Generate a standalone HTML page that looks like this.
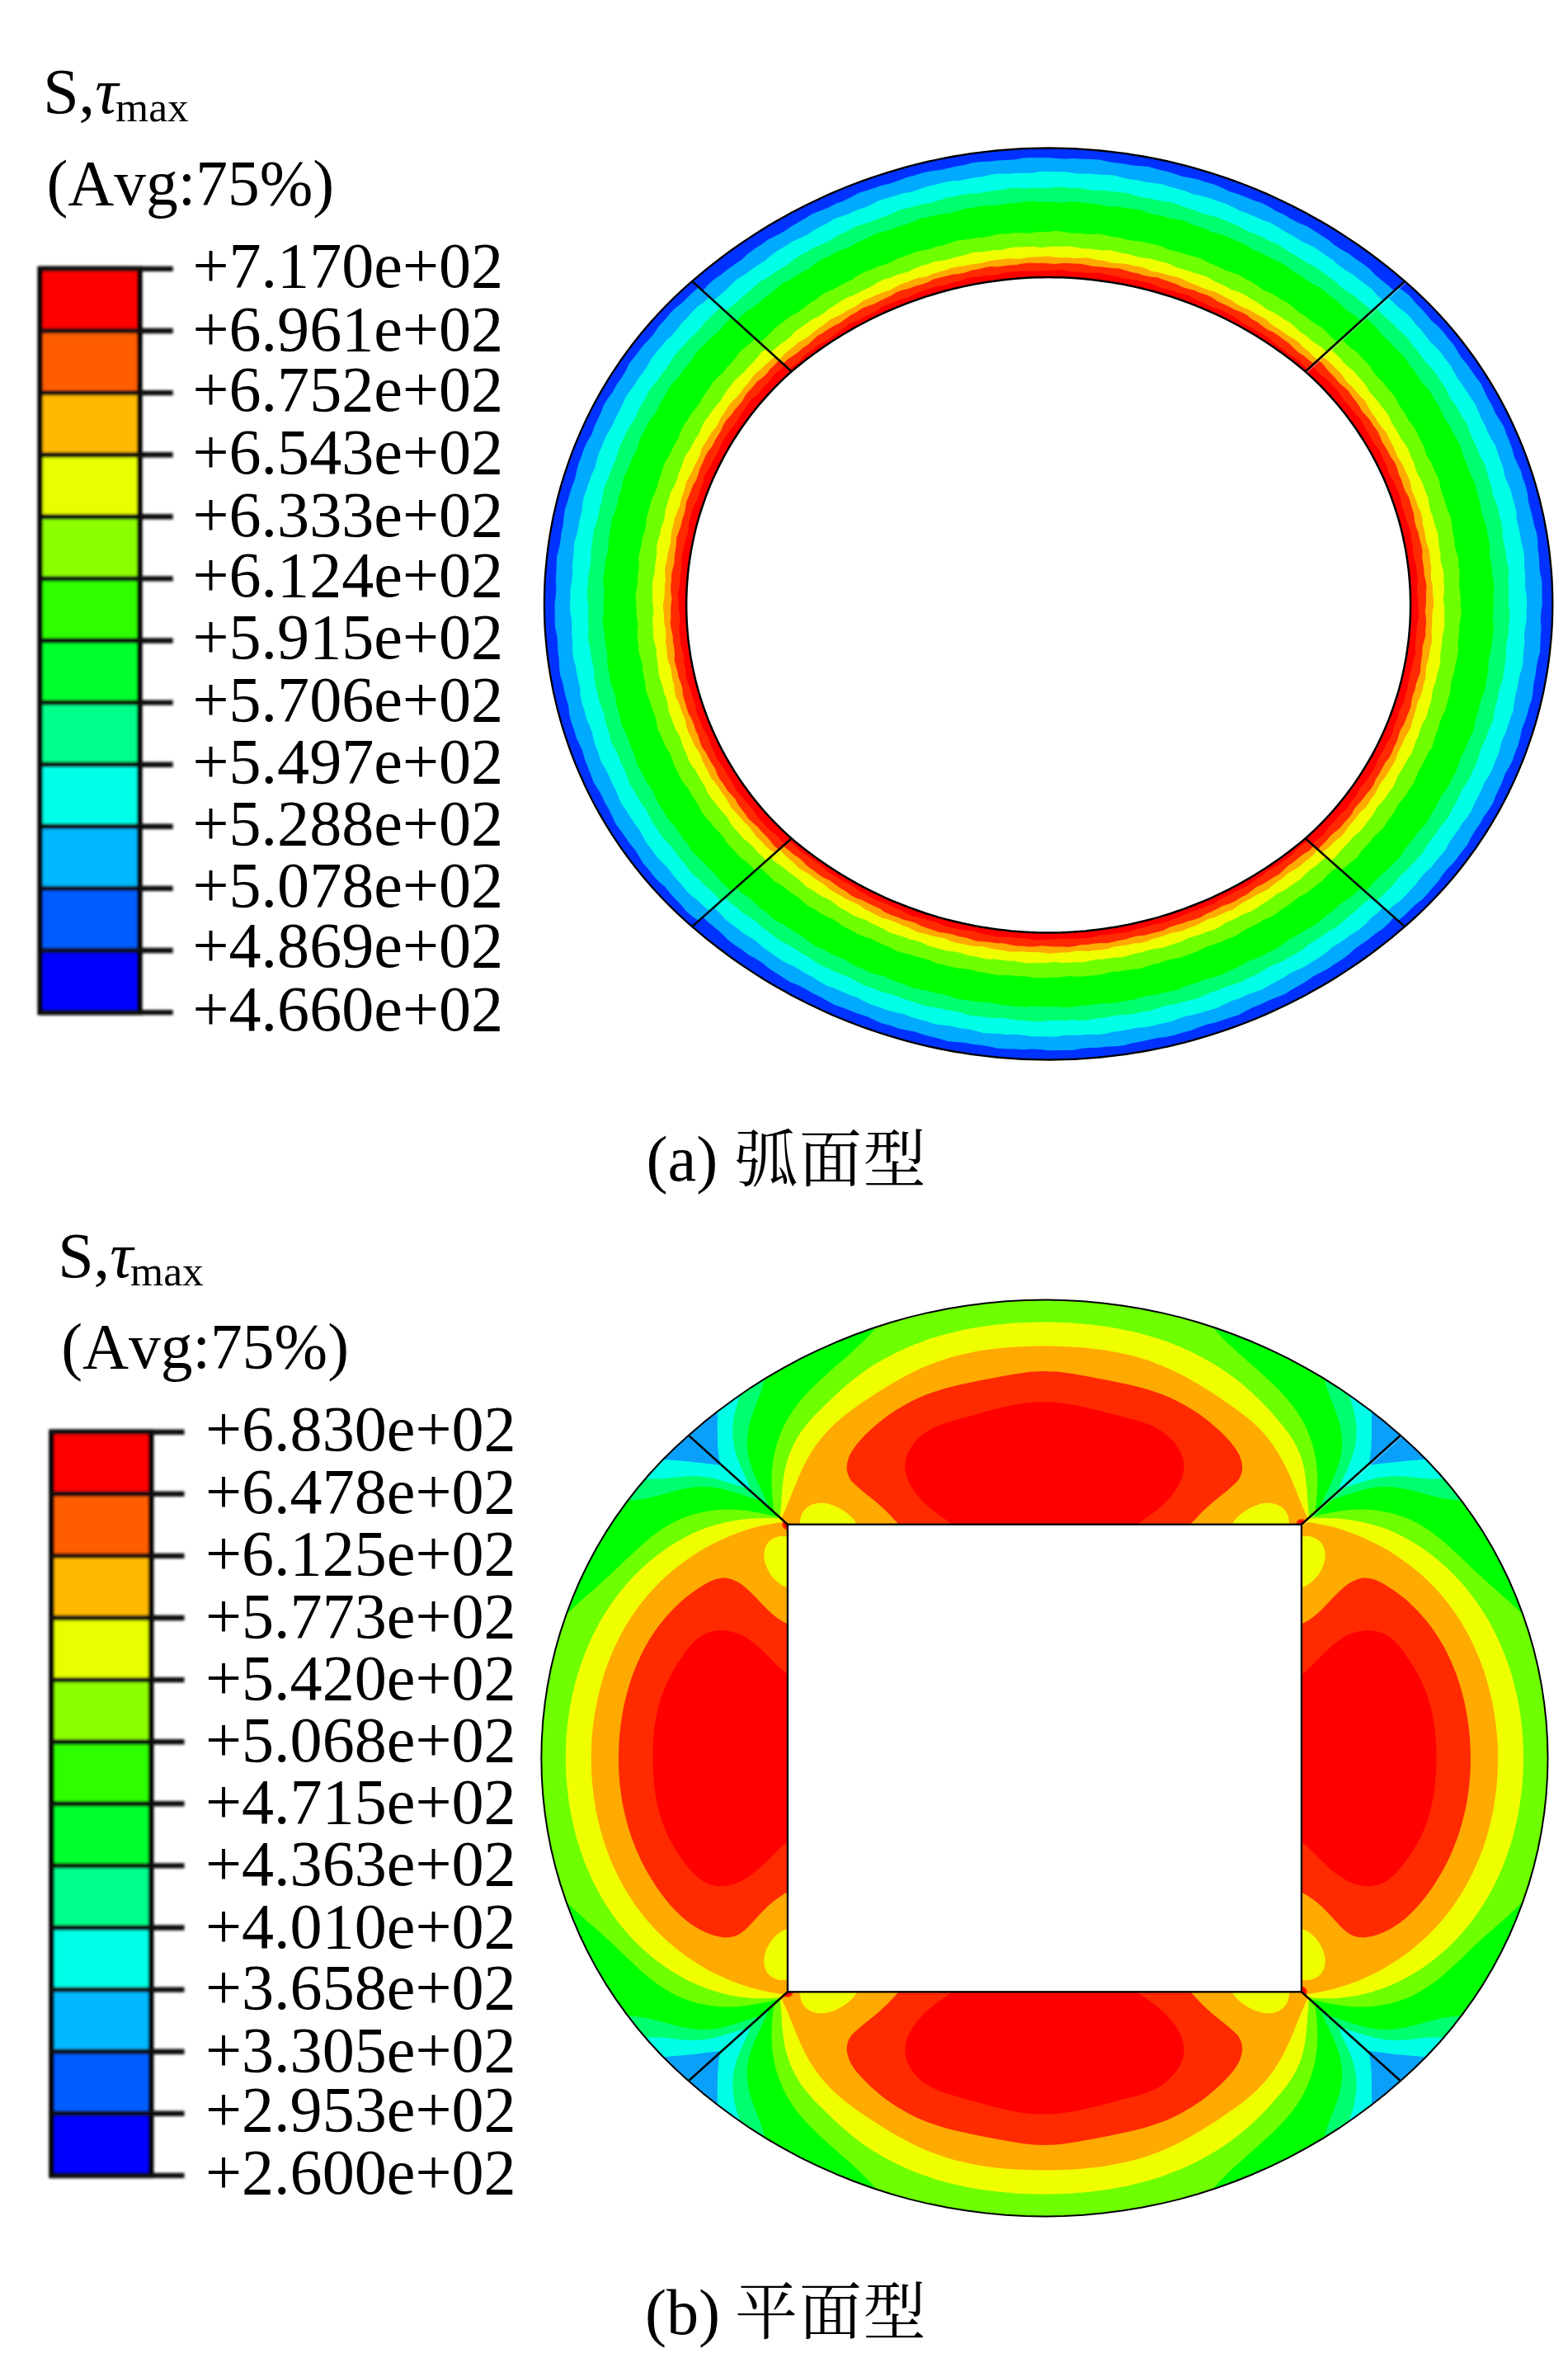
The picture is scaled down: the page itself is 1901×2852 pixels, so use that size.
<!DOCTYPE html>
<html lang="zh"><head><meta charset="utf-8"><title>figure</title>
<style>html,body{margin:0;padding:0;background:#fff}svg{display:block}</style></head>
<body>
<svg width="1901" height="2852" viewBox="0 0 1901 2852">
<defs><filter id="soft" x="-5%" y="-2%" width="110%" height="104%"><feGaussianBlur stdDeviation="1.4"/></filter></defs>
<rect width="1901" height="2852" fill="#fff"/>
<g id="plotA">
<path d="M839.1,340.9L847.1,334.1 855.1,327.4 863.3,320.9 871.6,314.5 879.9,308.2 888.4,302 897,296 905.7,290.1 914.4,284.4 923.3,278.8 932.2,273.3 941.2,268 950.3,262.9 959.5,257.8 968.8,253 978.1,248.2 987.5,243.7 997,239.2 1006.6,234.9 1016.2,230.8 1025.9,226.8 1035.6,223 1045.4,219.4 1055.3,215.8 1065.2,212.5 1075.2,209.3 1085.2,206.3 1095.3,203.4 1105.4,200.7 1115.5,198.1 1125.7,195.7 1136,193.5 1146.2,191.4 1156.5,189.5 1166.8,187.8 1177.2,186.2 1187.6,184.8 1198,183.6 1208.4,182.5 1218.8,181.6 1229.2,180.8 1239.7,180.2 1250.2,179.8 1260.6,179.6 1271.1,179.5 1281.6,179.6 1292,179.8 1302.5,180.2 1313,180.8 1323.4,181.6 1333.8,182.5 1344.2,183.6 1354.6,184.8 1365,186.2 1375.4,187.8 1385.7,189.5 1396,191.4 1406.2,193.5 1416.5,195.7 1426.7,198.1 1436.8,200.7 1446.9,203.4 1457,206.3 1467,209.3 1477,212.5 1486.9,215.8 1496.8,219.4 1506.6,223 1516.3,226.8 1526,230.8 1535.6,234.9 1545.2,239.2 1554.7,243.7 1564.1,248.2 1573.4,253 1582.7,257.8 1591.9,262.9 1601,268 1610,273.3 1618.9,278.8 1627.8,284.4 1636.5,290.1 1645.2,296 1653.8,302 1662.3,308.2 1670.6,314.5 1678.9,320.9 1687.1,327.4 1695.1,334.1 1703.1,340.9 1703.1,340.9 1710.5,347.4 1717.8,354.1 1724.9,360.8 1732,367.8 1738.8,374.8 1745.6,382 1752.2,389.3 1758.7,396.8 1765,404.3 1771.2,412 1777.2,419.8 1783.1,427.7 1788.9,435.7 1794.4,443.9 1799.9,452.1 1805.1,460.4 1810.2,468.9 1815.2,477.4 1820,486 1824.6,494.7 1829,503.5 1833.3,512.4 1837.4,521.4 1841.3,530.4 1845.1,539.5 1848.7,548.7 1852.1,558 1855.3,567.3 1858.4,576.7 1861.3,586.1 1864,595.6 1866.5,605.1 1868.8,614.7 1871,624.3 1872.9,634 1874.7,643.7 1876.3,653.4 1877.7,663.2 1878.9,673 1879.9,682.8 1880.8,692.6 1881.5,702.4 1881.9,712.3 1882.2,722.1 1882.3,732 1882.2,741.9 1881.9,751.7 1881.5,761.6 1880.8,771.4 1879.9,781.2 1878.9,791 1877.7,800.8 1876.3,810.6 1874.7,820.3 1872.9,830 1871,839.7 1868.8,849.3 1866.5,858.9 1864,868.4 1861.3,877.9 1858.4,887.3 1855.3,896.7 1852.1,906 1848.7,915.3 1845.1,924.5 1841.3,933.6 1837.4,942.6 1833.3,951.6 1829,960.5 1824.6,969.3 1820,978 1815.2,986.6 1810.2,995.1 1805.1,1003.6 1799.9,1011.9 1794.4,1020.1 1788.9,1028.3 1783.1,1036.3 1777.2,1044.2 1771.2,1052 1765,1059.7 1758.7,1067.2 1752.2,1074.7 1745.6,1082 1738.8,1089.2 1732,1096.2 1724.9,1103.2 1717.8,1109.9 1710.5,1116.6 1703.1,1123.1 1703.1,1123.1 1695.1,1129.9 1687.1,1136.6 1678.9,1143.1 1670.6,1149.5 1662.3,1155.8 1653.8,1162 1645.2,1168 1636.5,1173.9 1627.8,1179.6 1618.9,1185.2 1610,1190.7 1601,1196 1591.9,1201.1 1582.7,1206.2 1573.4,1211 1564.1,1215.8 1554.7,1220.3 1545.2,1224.8 1535.6,1229.1 1526,1233.2 1516.3,1237.2 1506.6,1241 1496.8,1244.6 1486.9,1248.2 1477,1251.5 1467,1254.7 1457,1257.7 1446.9,1260.6 1436.8,1263.3 1426.7,1265.9 1416.5,1268.3 1406.2,1270.5 1396,1272.6 1385.7,1274.5 1375.4,1276.2 1365,1277.8 1354.6,1279.2 1344.2,1280.4 1333.8,1281.5 1323.4,1282.4 1313,1283.2 1302.5,1283.8 1292,1284.2 1281.6,1284.4 1271.1,1284.5 1260.6,1284.4 1250.2,1284.2 1239.7,1283.8 1229.2,1283.2 1218.8,1282.4 1208.4,1281.5 1198,1280.4 1187.6,1279.2 1177.2,1277.8 1166.8,1276.2 1156.5,1274.5 1146.2,1272.6 1136,1270.5 1125.7,1268.3 1115.5,1265.9 1105.4,1263.3 1095.3,1260.6 1085.2,1257.7 1075.2,1254.7 1065.2,1251.5 1055.3,1248.2 1045.4,1244.6 1035.6,1241 1025.9,1237.2 1016.2,1233.2 1006.6,1229.1 997,1224.8 987.5,1220.3 978.1,1215.8 968.8,1211 959.5,1206.2 950.3,1201.1 941.2,1196 932.2,1190.7 923.3,1185.2 914.4,1179.6 905.7,1173.9 897,1168 888.4,1162 879.9,1155.8 871.6,1149.5 863.3,1143.1 855.1,1136.6 847.1,1129.9 839.1,1123.1 839.1,1123.1 831.7,1116.6 824.4,1109.9 817.3,1103.2 810.2,1096.2 803.4,1089.2 796.6,1082 790,1074.7 783.5,1067.2 777.2,1059.7 771,1052 765,1044.2 759.1,1036.3 753.3,1028.3 747.8,1020.1 742.3,1011.9 737.1,1003.6 732,995.1 727,986.6 722.2,978 717.6,969.3 713.2,960.5 708.9,951.6 704.8,942.6 700.9,933.6 697.1,924.5 693.5,915.3 690.1,906 686.9,896.7 683.8,887.3 680.9,877.9 678.2,868.4 675.7,858.9 673.4,849.3 671.2,839.7 669.3,830 667.5,820.3 665.9,810.6 664.5,800.8 663.3,791 662.3,781.2 661.4,771.4 660.7,761.6 660.3,751.7 660,741.9 659.9,732 660,722.1 660.3,712.3 660.7,702.4 661.4,692.6 662.3,682.8 663.3,673 664.5,663.2 665.9,653.4 667.5,643.7 669.3,634 671.2,624.3 673.4,614.7 675.7,605.1 678.2,595.6 680.9,586.1 683.8,576.7 686.9,567.3 690.1,558 693.5,548.7 697.1,539.5 700.9,530.4 704.8,521.4 708.9,512.4 713.2,503.5 717.6,494.7 722.2,486 727,477.4 732,468.9 737.1,460.4 742.3,452.1 747.8,443.9 753.3,435.7 759.1,427.7 765,419.8 771,412 777.2,404.3 783.5,396.8 790,389.3 796.6,382 803.4,374.8 810.2,367.8 817.3,360.8 824.4,354.1 831.7,347.4 839.1,340.9Z" fill="#0032ff"/>
<path d="M852,352.6L858.7,345.1 866.2,338.2 874.8,332.5 882.7,326.1 891,320.2 899.5,314.5 906.8,307.5 914.9,301.4 923.6,296 931.9,290.1 941.1,285.5 950.3,280.8 958.5,274.9 967.3,269.8 976.1,264.7 984.7,259.2 994.4,255.5 1003.9,251.7 1013,247.1 1022.6,243.5 1031.7,238.9 1040.7,234 1050.5,231 1060.2,227.7 1069.9,224.4 1080,222.3 1089.6,218.7 1099.1,214.9 1109,212.5 1118.8,209.4 1128.8,207.2 1139.2,206.3 1149.1,203.9 1159.1,201.7 1169.2,200 1179.1,197.2 1189.3,196 1199.6,195.8 1209.7,194.5 1220,194.1 1230.2,193.5 1240.3,191.5 1250.6,191.1 1260.8,191.2 1271.1,190.9 1281.3,192.1 1291.6,192.7 1301.8,192 1312.1,192.7 1322.3,193 1332.6,193.4 1342.6,195.8 1352.7,197.4 1362.9,198.4 1373,200.4 1383.2,201.2 1393.5,202.3 1403.3,205.3 1413.3,207.6 1423.1,210.3 1432.8,213.7 1443,215.4 1453,217.7 1462.6,221.1 1472.6,223.8 1482,227.7 1491.1,232.3 1500.9,235.3 1510.5,238.9 1519.9,242.8 1529.8,245.9 1538.8,250.8 1547.5,256.1 1556.8,260.3 1565.5,265.6 1574.6,270.2 1584.3,274 1592.9,279.5 1601.4,285.1 1610.1,290.4 1617.8,297 1626.3,302.5 1635.4,307.5 1643.5,313.7 1652,319.4 1660.1,325.5 1667,332.9 1674.8,339.4 1682.8,345.7 1690.2,352.6 1695.1,348.2 1703.2,353.8 1710.6,360.2 1716.6,367.7 1723.5,374.5 1729.9,381.7 1735.9,389.2 1743.5,395.6 1750.1,402.7 1755.9,410.4 1762.3,417.7 1767.2,426 1772.2,434.2 1778.7,441.6 1784.1,449.6 1789.7,457.5 1795.6,465.3 1799.6,474.1 1803.7,482.8 1808.7,491.1 1812.6,499.9 1817.6,508.3 1822.9,516.5 1826.1,525.6 1829.7,534.6 1833.3,543.6 1835.6,553 1839.5,561.8 1843.7,570.6 1846.3,579.9 1849.7,589 1852,598.4 1852.9,608.1 1855.6,617.4 1858,626.7 1859.8,636.2 1862.9,645.5 1864.2,655.1 1864.4,664.8 1865.8,674.3 1866.2,684 1866.9,693.6 1869.1,703.1 1869.5,712.8 1869.4,722.4 1869.8,732.1 1868.4,741.7 1867.8,751.4 1868.5,761 1867.8,770.7 1867.5,780.3 1867.1,790 1864.4,799.4 1862.7,808.9 1861.6,818.5 1859.4,827.9 1858.6,837.6 1857.3,847.2 1854,856.3 1851.5,865.7 1848.6,874.9 1844.9,883.9 1843.1,893.4 1840.7,902.7 1837,911.7 1834,920.9 1829.7,929.6 1824.7,938 1821.5,947.1 1817.5,955.9 1813.3,964.6 1810,973.6 1804.7,981.8 1799,989.8 1794.4,998.2 1788.7,1006.2 1783.7,1014.4 1779.6,1023.1 1773.7,1030.8 1767.7,1038.5 1761.9,1046.2 1754.8,1053.1 1748.8,1060.6 1743.5,1068.6 1736.9,1075.7 1730.8,1083.2 1724.2,1090.3 1716.2,1096.2 1709.3,1102.9 1702.5,1109.8 1695.1,1116 1690.2,1111.6 1683.5,1119.2 1676,1126 1667.4,1131.7 1659.5,1138.2 1651.2,1144.1 1642.7,1149.7 1635.4,1156.7 1627.3,1162.8 1618.6,1168.2 1610.3,1174.1 1601.1,1178.8 1591.9,1183.4 1583.7,1189.4 1574.9,1194.4 1566.1,1199.5 1557.5,1205 1547.8,1208.7 1538.3,1212.5 1529.2,1217.1 1519.6,1220.7 1510.5,1225.3 1501.5,1230.2 1491.7,1233.2 1482,1236.5 1472.3,1239.8 1462.2,1241.9 1452.6,1245.5 1443.1,1249.3 1433.2,1251.7 1423.4,1254.8 1413.4,1257 1403,1257.9 1393.1,1260.3 1383.1,1262.5 1373,1264.2 1363.1,1267 1352.9,1268.2 1342.6,1268.4 1332.5,1269.7 1322.2,1270.1 1312,1270.7 1301.9,1272.7 1291.6,1273.1 1281.4,1272.9 1271.1,1273.3 1260.9,1272.1 1250.6,1271.5 1240.4,1272.2 1230.1,1271.5 1219.9,1271.2 1209.6,1270.8 1199.6,1268.4 1189.5,1266.8 1179.3,1265.8 1169.2,1263.8 1159,1263 1148.7,1261.9 1138.9,1258.9 1128.9,1256.6 1119.1,1253.9 1109.4,1250.5 1099.2,1248.8 1089.2,1246.5 1079.6,1243.1 1069.6,1240.4 1060.2,1236.5 1051.1,1231.9 1041.3,1228.9 1031.7,1225.3 1022.3,1221.4 1012.4,1218.3 1003.4,1213.4 994.7,1208.2 985.4,1203.9 976.7,1198.7 967.6,1194.1 957.9,1190.2 949.3,1184.7 940.8,1179.2 932.1,1173.8 924.4,1167.3 915.9,1161.7 906.8,1156.7 898.7,1150.6 890.2,1144.9 882.1,1138.8 875.2,1131.4 867.4,1124.9 859.4,1118.6 852,1111.6 847.1,1116 839,1110.4 831.6,1104 825.6,1096.5 818.7,1089.7 812.3,1082.5 806.3,1075 798.7,1068.6 792.1,1061.5 786.3,1053.8 779.9,1046.4 775,1038.2 770,1030 763.5,1022.6 758.1,1014.6 752.5,1006.6 746.6,998.9 742.6,990.1 738.5,981.4 733.5,973.1 729.6,964.3 724.6,955.9 719.3,947.6 716.1,938.5 712.5,929.6 708.9,920.6 706.6,911.3 702.7,902.4 698.5,893.5 695.9,884.3 692.5,875.1 690.2,865.8 689.3,856.1 686.6,846.8 684.2,837.5 682.4,828 679.3,818.7 678,809.1 677.8,799.4 676.4,789.9 676,780.2 675.3,770.6 673.1,761.1 672.7,751.4 672.8,741.8 672.4,732.1 673.8,722.5 674.4,712.8 673.7,703.2 674.4,693.5 674.7,683.9 675.1,674.2 677.8,664.8 679.5,655.3 680.6,645.7 682.8,636.3 683.6,626.6 684.9,617 688.2,607.8 690.7,598.5 693.6,589.3 697.3,580.3 699.1,570.8 701.5,561.5 705.2,552.5 708.2,543.3 712.5,534.6 717.5,526.2 720.7,517.1 724.7,508.3 728.9,499.6 732.2,490.5 737.5,482.3 743.2,474.4 747.8,465.9 753.5,458 758.5,449.8 762.6,441.1 768.5,433.4 774.5,425.7 780.3,418 787.4,411.1 793.4,403.6 798.7,395.5 805.3,388.5 811.4,381 818,373.9 826,368 832.9,361.3 839.7,354.4 847.1,348.2Z" fill="#00aaff"/>
<path d="M865.3,364.6L872.3,357.9 880,351.7 886.7,344.6 894.1,338.1 902.6,332.9 910.5,326.9 918.7,321.4 927.2,316.3 934.5,309.8 942.5,304 951.1,299.1 959.3,293.6 968.3,289.3 977.4,285.3 985.6,279.8 994.3,275.1 1003,270.5 1011.4,265.3 1020.9,262 1030.3,258.8 1039.2,254.6 1048.7,251.4 1057.7,247.3 1066.5,242.8 1076.1,240.1 1085.6,237.2 1095.1,234.3 1104.9,232.7 1114.3,229.6 1123.6,226.1 1133.4,224.1 1142.9,221.4 1152.7,219.5 1162.7,219 1172.4,217.1 1182.1,215.2 1192,214 1201.7,211.6 1211.6,210.5 1221.6,210.8 1231.4,209.9 1241.4,209.8 1251.3,209.7 1261.2,208 1271.1,207.8 1281,208.3 1291,208.2 1300.8,209.7 1310.7,210.8 1320.7,210.4 1330.6,211.4 1340.5,212 1350.4,212.6 1360.1,215.2 1369.8,217.2 1379.6,218.5 1389.3,220.8 1399.2,221.9 1409.1,223.2 1418.5,226.4 1428.1,229 1437.5,231.8 1446.7,235.5 1456.5,237.6 1466.2,239.9 1475.4,243.5 1484.9,246.4 1494,250.5 1502.6,255.3 1512,258.6 1521.1,262.4 1530.1,266.5 1539.7,269.7 1548.2,274.6 1556.5,280 1565.3,284.5 1573.6,289.8 1582.2,294.7 1591.4,298.6 1599.6,304.1 1607.7,309.8 1615.9,315.2 1623.2,321.8 1631.2,327.6 1639.8,332.6 1647.5,338.8 1655.5,344.6 1663.3,350.6 1669.7,358.1 1676.9,364.6 1681.9,360.2 1689.2,366.2 1695.7,372.8 1703.4,378.5 1710.4,384.9 1716,392.4 1722.3,399.2 1728.2,406.5 1733.7,414 1740.7,420.5 1747,427.6 1752.3,435.3 1758.2,442.6 1762.8,450.7 1767.2,459 1773.1,466.4 1778.1,474.3 1783.1,482.2 1788.7,489.9 1792.3,498.5 1795.8,507.2 1800.4,515.4 1803.8,524.1 1808.2,532.4 1813.2,540.5 1816,549.4 1819.2,558.2 1822.3,567.1 1824.1,576.3 1827.5,585 1831.3,593.7 1833.5,602.8 1836.4,611.7 1838.5,620.8 1838.9,630.3 1841.1,639.4 1843.1,648.5 1844.4,657.8 1847.1,666.9 1848.2,676.2 1848,685.6 1848.9,694.9 1849,704.2 1849.1,713.6 1850.9,722.9 1851.1,732.2 1850.6,741.6 1850.7,751 1849,760.3 1847.9,769.5 1848.3,778.9 1847.3,788.2 1846.6,797.6 1846,806.9 1843.1,816 1841,825.1 1839.6,834.3 1837,843.4 1835.8,852.6 1834.5,861.9 1831,870.7 1828.2,879.6 1825.1,888.5 1821,897 1818.8,906.1 1816.3,915.1 1812.3,923.7 1809.2,932.5 1804.8,940.8 1799.6,948.8 1796,957.4 1791.9,965.8 1787.5,974 1784,982.7 1778.7,990.5 1772.8,998 1768,1006 1762.3,1013.4 1757,1021.2 1752.8,1029.5 1746.9,1036.8 1740.8,1044 1735,1051.3 1727.8,1057.7 1721.6,1064.7 1716.2,1072.3 1709.6,1078.9 1703.4,1085.9 1696.9,1092.6 1688.9,1098.1 1681.9,1104.3 1676.9,1099.9 1669.9,1106.7 1662.2,1112.8 1655.5,1119.9 1648.1,1126.4 1639.6,1131.7 1631.7,1137.6 1623.5,1143.1 1615,1148.2 1607.7,1154.7 1599.7,1160.5 1591.1,1165.4 1582.9,1170.9 1573.9,1175.2 1564.8,1179.3 1556.6,1184.7 1547.9,1189.4 1539.2,1194 1530.8,1199.1 1521.3,1202.5 1511.9,1205.8 1503,1209.9 1493.5,1213.1 1484.5,1217.2 1475.7,1221.7 1466.1,1224.4 1456.6,1227.2 1447.1,1230.1 1437.3,1231.8 1427.9,1234.9 1418.6,1238.4 1408.8,1240.4 1399.3,1243.1 1389.5,1245 1379.5,1245.5 1369.8,1247.4 1360.1,1249.3 1350.2,1250.5 1340.5,1252.9 1330.6,1253.9 1320.6,1253.7 1310.8,1254.6 1300.8,1254.7 1290.9,1254.8 1281,1256.5 1271.1,1256.6 1261.2,1256.2 1251.2,1256.3 1241.4,1254.7 1231.5,1253.7 1221.5,1254 1211.6,1253.1 1201.7,1252.5 1191.8,1251.9 1182.1,1249.3 1172.4,1247.3 1162.6,1246 1152.9,1243.7 1143,1242.6 1133.1,1241.3 1123.7,1238.1 1114.1,1235.5 1104.7,1232.7 1095.5,1229 1085.7,1226.9 1076,1224.5 1066.8,1221 1057.3,1218.1 1048.2,1214 1039.6,1209.2 1030.2,1205.9 1021.1,1202.1 1012.1,1198.1 1002.5,1194.8 994,1189.9 985.7,1184.5 976.9,1180 968.6,1174.7 960,1169.9 950.8,1165.9 942.6,1160.4 934.5,1154.7 926.3,1149.3 919,1142.7 911,1137 902.4,1131.9 894.7,1125.8 886.7,1120 878.9,1113.9 872.5,1106.5 865.3,1099.9 860.3,1104.3 853,1098.3 846.5,1091.7 838.8,1085.9 831.8,1079.5 826.2,1072.1 819.9,1065.2 814,1058 808.5,1050.5 801.5,1043.9 795.2,1036.9 789.9,1029.2 784,1021.9 779.4,1013.7 775,1005.5 769.1,998.1 764.1,990.2 759.1,982.3 753.5,974.6 749.9,965.9 746.4,957.3 741.8,949.1 738.4,940.4 734,932.1 729,923.9 726.2,915 723,906.2 719.9,897.4 718.1,888.2 714.7,879.5 710.9,870.8 708.7,861.7 705.8,852.8 703.7,843.6 703.3,834.2 701.1,825.1 699.1,816 697.8,806.7 695.1,797.6 694,788.3 694.2,778.9 693.3,769.6 693.2,760.3 693.1,750.9 691.3,741.6 691.1,732.2 691.6,722.9 691.5,713.5 693.2,704.2 694.3,695 693.9,685.5 694.9,676.3 695.6,666.9 696.2,657.5 699.1,648.5 701.2,639.4 702.6,630.2 705.2,621.1 706.4,611.8 707.7,602.5 711.2,593.8 714,584.8 717.1,576 721.2,567.5 723.4,558.4 725.9,549.4 729.9,540.8 733,532 737.4,523.7 742.6,515.7 746.2,507.1 750.3,498.7 754.7,490.5 758.2,481.8 763.5,474 769.4,466.5 774.2,458.5 779.9,451 785.2,443.3 789.4,435 795.3,427.7 801.4,420.5 807.2,413.2 814.4,406.8 820.6,399.8 826,392.2 832.6,385.5 838.8,378.5 845.3,371.8 853.3,366.4 860.3,360.2Z" fill="#00ffe6"/>
<path d="M878.7,376.9L886.9,371.6 894,365.4 900.9,358.9 908.5,353.2 915.2,346.5 922.6,340.7 931.2,336 938.9,330.5 946.9,325.4 955.2,320.6 962.4,314.4 970.3,309.2 978.9,304.9 987,299.9 995.9,296.2 1004.7,292.4 1012.6,287.2 1021.2,283 1029.7,278.8 1038.1,274.2 1047.4,271.6 1056.6,268.6 1065.3,264.7 1074.4,261.8 1083.1,258.1 1091.8,254.1 1101.3,252.1 1110.5,249.6 1119.8,247.2 1129.3,245.7 1138.4,242.8 1147.5,239.7 1156.9,238.2 1166.3,236 1175.8,234.7 1185.4,234.6 1194.8,232.7 1204.3,231.1 1213.8,230.2 1223.2,228.2 1232.8,227.8 1242.4,228.5 1252,227.8 1261.5,228 1271.1,227.9 1280.7,226.6 1290.3,226.9 1299.8,227.8 1309.4,228.1 1318.8,229.9 1328.3,231 1338,230.8 1347.5,232.1 1357,233.1 1366.6,234.1 1375.7,237.1 1385,239.2 1394.5,240.6 1403.8,243 1413.3,244.3 1422.8,246 1431.7,249.6 1440.8,252.4 1449.9,255.4 1458.6,259.1 1468.1,261.2 1477.3,263.8 1486,267.7 1495.1,270.9 1503.6,275.3 1511.8,280.1 1520.9,283.3 1529.6,287.1 1538.1,291.4 1547.1,294.9 1555.1,300.1 1562.8,305.6 1571.3,310.1 1579.2,315.3 1587.4,320.1 1596.2,324.2 1603.8,330 1611.3,335.8 1619,341.3 1625.8,347.8 1633.5,353.4 1641.8,358.5 1648.9,364.7 1656.4,370.6 1663.5,376.9 1668.4,372.4 1674,379.4 1680.7,385.5 1687.6,391.5 1693.8,398.1 1700.9,403.9 1707.2,410.4 1712.2,418 1718.1,424.8 1723.5,432 1728.7,439.3 1735.4,445.7 1741,452.9 1745.7,460.6 1751.1,467.9 1755.1,476 1759.2,484 1764.8,491.2 1769.4,499 1773.9,506.9 1778.8,514.5 1781.7,523.1 1784.9,531.6 1789.1,539.6 1792.2,548 1796.3,556.1 1800.7,564.2 1802.9,573 1805.5,581.6 1808.2,590.2 1809.7,599.1 1812.9,607.6 1816.2,616.1 1817.9,625 1820.3,633.7 1821.7,642.7 1821.8,651.8 1823.8,660.6 1825.6,669.4 1826.6,678.4 1828.7,687.3 1829.2,696.3 1828.5,705.4 1829.2,714.4 1829,723.4 1829,732.4 1830.5,741.4 1830.2,750.5 1829.2,759.5 1828.8,768.5 1826.8,777.4 1825.7,786.3 1825.9,795.4 1824.6,804.3 1823.5,813.3 1822.3,822.2 1819.1,830.8 1816.8,839.6 1815.3,848.5 1812.7,857.1 1811.3,866 1809.4,874.9 1805.5,883.2 1802.5,891.7 1799.2,900.1 1795.2,908.3 1792.9,917 1790.1,925.6 1785.9,933.6 1782.4,941.9 1777.7,949.8 1772.5,957.3 1769,965.6 1764.9,973.6 1760.3,981.4 1756.5,989.5 1750.9,996.8 1744.9,1003.8 1740.1,1011.4 1734.4,1018.4 1729.3,1025.8 1724.9,1033.7 1718.7,1040.4 1712.5,1047 1706.5,1053.8 1699.5,1059.8 1693.5,1066.5 1688.1,1073.7 1681.4,1079.8 1675.1,1086.3 1668.4,1092.4 1663.5,1088 1655.3,1093.3 1648.2,1099.5 1641.3,1105.9 1633.7,1111.7 1627,1118.3 1619.6,1124.2 1611,1128.8 1603.3,1134.3 1595.3,1139.4 1587,1144.2 1579.8,1150.4 1571.9,1155.6 1563.3,1159.9 1555.2,1164.9 1546.3,1168.6 1537.5,1172.4 1529.6,1177.6 1521,1181.9 1512.5,1186 1504.1,1190.6 1494.8,1193.3 1485.6,1196.2 1476.9,1200.1 1467.8,1203 1459.1,1206.7 1450.4,1210.7 1440.9,1212.7 1431.7,1215.2 1422.4,1217.6 1412.9,1219.1 1403.8,1222 1394.7,1225.1 1385.3,1226.6 1375.9,1228.8 1366.4,1230.1 1356.8,1230.3 1347.4,1232.1 1337.9,1233.7 1328.4,1234.6 1319,1236.5 1309.4,1237 1299.8,1236.3 1290.2,1237 1280.7,1236.8 1271.1,1236.9 1261.5,1238.2 1251.9,1237.9 1242.4,1237 1232.8,1236.6 1223.4,1234.9 1213.9,1233.8 1204.2,1234 1194.7,1232.7 1185.2,1231.7 1175.6,1230.7 1166.5,1227.7 1157.2,1225.6 1147.7,1224.2 1138.4,1221.8 1128.9,1220.5 1119.4,1218.8 1110.5,1215.2 1101.4,1212.4 1092.3,1209.4 1083.6,1205.7 1074.1,1203.6 1064.9,1201 1056.2,1197.1 1047.1,1193.9 1038.6,1189.6 1030.4,1184.8 1021.3,1181.5 1012.6,1177.7 1004.1,1173.5 995.1,1169.9 987.1,1164.7 979.4,1159.2 970.9,1154.8 963,1149.5 954.8,1144.7 946,1140.6 938.4,1134.8 930.9,1129.1 923.2,1123.6 916.4,1117 908.7,1111.5 900.4,1106.4 893.3,1100.1 885.8,1094.2 878.7,1088 873.8,1092.4 868.2,1085.3 861.5,1079.2 854.6,1073.3 848.4,1066.7 841.3,1060.9 835,1054.3 830,1046.8 824.1,1040 818.7,1032.8 813.5,1025.5 806.8,1019 801.2,1011.9 796.5,1004.2 791.1,996.9 787.1,988.8 783,980.8 777.4,973.6 772.8,965.8 768.3,957.9 763.4,950.2 760.5,941.7 757.3,933.2 753.1,925.2 750,916.8 745.9,908.6 741.5,900.6 739.3,891.8 736.7,883.2 734,874.6 732.5,865.7 729.3,857.2 726,848.7 724.3,839.8 721.9,831.1 720.5,822.1 720.4,813.1 718.4,804.2 716.6,795.4 715.6,786.4 713.5,777.5 713,768.5 713.7,759.4 713,750.4 713.2,741.4 713.2,732.4 711.7,723.4 712,714.3 713,705.3 713.4,696.3 715.4,687.4 716.5,678.5 716.3,669.4 717.6,660.5 718.7,651.5 719.9,642.5 723.1,634 725.4,625.2 726.9,616.3 729.5,607.7 730.9,598.7 732.8,589.9 736.7,581.6 739.7,573.1 743,564.7 747,556.5 749.3,547.8 752.1,539.2 756.3,531.2 759.8,522.8 764.5,515 769.7,507.5 773.2,499.2 777.3,491.2 781.9,483.4 785.7,475.2 791.3,468 797.3,461 802.1,453.4 807.8,446.4 812.9,439 817.3,431.1 823.5,424.4 829.7,417.8 835.7,410.9 842.7,405 848.7,398.3 854.1,391.1 860.8,384.9 867.1,378.5 873.8,372.4Z" fill="#00ff6e"/>
<path d="M892.3,389.2L898.9,382.9 905.7,376.8 913.8,372 921,366.3 927.8,360.3 935.3,355 942,348.8 949.4,343.2 957.7,339.1 965.4,334 973.4,329.4 981.5,325 988.7,319.3 996.5,314.4 1004.9,310.5 1012.8,306 1021.5,302.6 1030.2,299.3 1038.1,294.5 1046.4,290.7 1054.9,287 1063.1,282.8 1072.1,280.4 1081.1,278 1089.6,274.5 1098.5,272 1107.1,268.7 1115.6,265 1124.8,263.3 1133.8,261.3 1142.8,259.2 1152.1,258.2 1160.9,255.7 1169.8,252.9 1179,251.8 1188.1,249.9 1197.3,248.9 1206.6,249.1 1215.8,247.7 1224.9,246.4 1234.1,245.9 1243.3,244.2 1252.6,244 1261.9,245 1271.1,244.7 1280.3,245.2 1289.6,245.5 1298.9,244.5 1308.1,245 1317.3,246.2 1326.5,246.8 1335.6,248.8 1344.7,250.3 1354.1,250.4 1363.2,251.8 1372.4,253.1 1381.6,254.3 1390.3,257.5 1399.2,259.9 1408.3,261.5 1417.2,264.2 1426.3,265.7 1435.5,267.6 1443.9,271.4 1452.6,274.4 1461.3,277.5 1469.6,281.5 1478.7,283.8 1487.6,286.5 1495.8,290.6 1504.5,293.9 1512.5,298.3 1520.3,303.3 1528.9,306.7 1537.2,310.7 1545.3,315.1 1553.9,318.7 1561.5,323.9 1568.7,329.5 1576.7,334.1 1584.2,339.4 1591.9,344.4 1600.4,348.5 1607.5,354.3 1614.5,360.1 1621.9,365.6 1628.2,372.2 1635.4,377.9 1643.2,383 1649.9,389.2 1654.8,384.7 1661.6,390.3 1668.1,396.2 1673.2,403.3 1679.3,409.5 1685.8,415.5 1691.5,422.1 1698.2,428 1704.1,434.5 1708.6,441.9 1714,448.8 1719,455.9 1723.7,463.3 1729.9,469.7 1735.1,476.7 1739.3,484.4 1744.3,491.6 1747.9,499.6 1751.4,507.5 1756.6,514.7 1760.8,522.4 1764.8,530.1 1769.3,537.7 1771.9,546.1 1774.5,554.4 1778.3,562.3 1781,570.6 1784.6,578.6 1788.6,586.5 1790.4,595 1792.5,603.5 1794.9,611.9 1795.9,620.6 1798.7,628.9 1801.7,637.2 1803,645.8 1804.9,654.3 1806.1,663 1805.8,671.8 1807.3,680.4 1808.7,689 1809.3,697.7 1811.1,706.3 1811.3,715.1 1810.3,723.8 1810.6,732.5 1810.1,741.3 1809.7,750 1810.9,758.7 1810.3,767.4 1809,776.1 1808.3,784.8 1806.1,793.3 1804.5,801.9 1804.5,810.7 1802.9,819.2 1801.5,827.8 1800.2,836.5 1796.7,844.7 1794.1,853 1792.4,861.6 1789.5,869.8 1787.8,878.4 1785.8,886.9 1781.7,894.7 1778.4,902.8 1775,910.9 1770.7,918.6 1768.2,926.9 1765.3,935.1 1760.9,942.7 1757.3,950.7 1752.5,958.1 1747.1,965.1 1743.4,973 1739.2,980.6 1734.5,988 1730.6,995.7 1724.9,1002.6 1718.9,1009.1 1713.9,1016.2 1708.2,1022.9 1702.9,1029.8 1698.4,1037.2 1692.3,1043.5 1686,1049.7 1680.1,1056.1 1673,1061.6 1666.9,1067.8 1661.5,1074.6 1654.8,1080.3 1649.9,1075.9 1643.3,1082.3 1636.5,1088.3 1628.4,1093.1 1621.2,1098.9 1614.4,1104.9 1606.9,1110.2 1600.2,1116.4 1592.8,1121.9 1584.5,1126.1 1576.8,1131.1 1568.8,1135.8 1560.7,1140.1 1553.5,1145.8 1545.7,1150.7 1537.3,1154.6 1529.4,1159.1 1520.7,1162.5 1512,1165.8 1504.1,1170.6 1495.8,1174.4 1487.3,1178.1 1479.1,1182.3 1470.1,1184.7 1461.1,1187.1 1452.6,1190.6 1443.7,1193.1 1435.1,1196.4 1426.6,1200.1 1417.4,1201.8 1408.4,1203.7 1399.4,1205.9 1390.1,1206.9 1381.3,1209.4 1372.4,1212.1 1363.2,1213.3 1354.1,1215.2 1344.9,1216.2 1335.6,1216 1326.4,1217.4 1317.3,1218.6 1308.1,1219.2 1298.9,1220.8 1289.6,1221 1280.3,1220.1 1271.1,1220.4 1261.9,1219.9 1252.6,1219.6 1243.3,1220.6 1234.1,1220.1 1224.9,1218.9 1215.7,1218.3 1206.6,1216.2 1197.5,1214.8 1188.1,1214.7 1179,1213.3 1169.8,1212 1160.6,1210.7 1151.9,1207.6 1143,1205.2 1133.9,1203.6 1125,1200.9 1115.9,1199.3 1106.7,1197.5 1098.3,1193.7 1089.6,1190.7 1080.9,1187.6 1072.6,1183.6 1063.5,1181.3 1054.6,1178.6 1046.4,1174.5 1037.7,1171.2 1029.7,1166.8 1021.9,1161.8 1013.3,1158.4 1005,1154.4 996.9,1150.1 988.3,1146.4 980.7,1141.2 973.5,1135.6 965.5,1131 958,1125.7 950.3,1120.8 941.8,1116.6 934.7,1110.9 927.7,1105 920.3,1099.5 914,1093 906.8,1087.3 899,1082.2 892.3,1075.9 887.4,1080.3 880.6,1074.7 874.1,1068.8 869,1061.7 862.9,1055.6 856.4,1049.6 850.7,1043 844,1037.1 838.1,1030.6 833.6,1023.1 828.2,1016.3 823.2,1009.2 818.5,1001.8 812.3,995.4 807.1,988.3 802.9,980.7 797.9,973.4 794.3,965.5 790.8,957.6 785.6,950.4 781.4,942.7 777.4,934.9 772.9,927.4 770.3,919 767.7,910.7 763.9,902.8 761.2,894.5 757.6,886.5 753.6,878.6 751.8,870 749.7,861.6 747.3,853.2 746.3,844.5 743.5,836.2 740.5,827.9 739.2,819.3 737.3,810.7 736.1,802.1 736.4,793.3 734.9,784.7 733.5,776.1 732.9,767.4 731.1,758.7 730.9,750 731.9,741.3 731.6,732.5 732.1,723.8 732.5,715.1 731.3,706.4 731.9,697.6 733.2,689 733.9,680.3 736.1,671.8 737.7,663.2 737.7,654.4 739.3,645.8 740.7,637.2 742,628.6 745.5,620.4 748.1,612.1 749.8,603.5 752.7,595.3 754.4,586.7 756.4,578.2 760.5,570.3 763.8,562.2 767.2,554.2 771.5,546.5 774,538.1 776.9,529.9 781.3,522.3 784.9,514.4 789.7,507 795.1,499.9 798.8,492 803,484.5 807.7,477.1 811.6,469.3 817.3,462.5 823.3,456 828.3,448.8 834,442.2 839.3,435.3 843.8,427.8 849.9,421.5 856.2,415.4 862.1,408.9 869.2,403.5 875.3,397.2 880.7,390.4 887.4,384.7Z" fill="#00ff00"/>
<path d="M920.6,414.9L927.6,409.9 933.7,404.1 939.3,397.8 946.2,392.8 952.8,387.5 959.7,382.5 967.5,378.6 974.2,373.5 980.8,368.2 988.1,363.7 994.7,358.4 1001.9,354 1010.1,350.8 1017.4,346.5 1025,342.6 1032.7,338.9 1039.6,333.9 1047.2,330 1055.3,327.1 1063,323.5 1071.2,321 1079.4,318.3 1086.8,314.1 1094.8,311 1102.9,308.2 1110.8,305 1119.3,303.6 1127.7,301.8 1135.8,298.8 1144.1,296.9 1152.2,294.3 1160.4,291.5 1169,290.8 1177.5,289.6 1185.9,288.1 1194.5,287.6 1202.8,285.6 1211.2,283.5 1219.8,283.2 1228.3,282.2 1236.9,282 1245.5,282.7 1254,281.7 1262.5,280.9 1271.1,280.9 1279.7,280.1 1288.2,280.7 1296.7,282.3 1305.3,282.4 1313.8,283.2 1322.3,283.9 1331,283.5 1339.5,284.8 1347.9,286.7 1356.4,287.8 1364.6,290.2 1373,291.8 1381.7,292.2 1390,294.2 1398.3,296.1 1406.7,298 1414.5,301.5 1422.7,304.1 1431.1,305.9 1439.1,308.8 1447.5,310.8 1455.7,313.2 1463.2,317.5 1471.1,320.8 1478.9,324.1 1486.4,328 1494.8,330.5 1502.8,333.6 1510,338.1 1517.7,341.8 1524.9,346.4 1531.7,351.4 1539.7,354.8 1547.2,358.9 1554.3,363.4 1562,367.4 1568.5,372.9 1574.8,378.5 1582,383 1588.7,388.3 1595.6,393.2 1603.2,397.5 1609.2,403.5 1615.2,409.4 1621.6,414.9 1626.6,410.4 1631.8,416.5 1638,421.8 1644.8,426.6 1650.2,432.6 1655.9,438.4 1661.3,444.5 1665.4,451.4 1670.9,457.4 1676.6,463.3 1681.4,469.8 1687.1,475.7 1691.9,482.2 1695.3,489.6 1699.9,496.3 1704.2,503.1 1708.1,510.2 1713.5,516.5 1717.7,523.4 1720.8,530.9 1724.7,538 1727.4,545.6 1730.3,553.1 1734.9,560 1738.2,567.4 1741.3,574.9 1744.8,582.2 1746.2,590.2 1748.2,598.1 1751.4,605.6 1753.4,613.4 1756.3,621 1759.3,628.6 1760,636.7 1761.3,644.7 1763,652.6 1763.5,660.7 1765.7,668.5 1768,676.4 1768.3,684.5 1769.4,692.5 1769.6,700.6 1768.8,708.7 1770,716.7 1770.8,724.8 1770.7,732.8 1771.7,740.9 1771,749 1769.3,757 1769.1,765.1 1768.3,773.1 1767.5,781.2 1768,789.3 1766.6,797.3 1764.6,805.2 1763.4,813.2 1760.8,820.9 1759,828.8 1758.6,836.9 1756.4,844.7 1754.3,852.5 1752.3,860.4 1748.4,867.7 1745.6,875.3 1743.7,883.1 1740.6,890.6 1738.5,898.4 1735.8,906 1731.2,912.9 1727.7,920.2 1724.1,927.4 1719.8,934.4 1717.1,942 1713.8,949.3 1709,956 1705,963 1700,969.5 1694.7,975.7 1691,982.9 1686.6,989.7 1681.7,996.1 1677.4,1002.9 1671.6,1008.7 1665.5,1014.3 1660.7,1020.8 1655,1026.6 1649.8,1032.7 1645.1,1039.3 1638.8,1044.5 1632.4,1049.7 1626.6,1055.3 1621.6,1050.9 1614.6,1055.8 1608.5,1061.6 1602.9,1067.9 1596,1072.9 1589.4,1078.2 1582.5,1083.3 1574.7,1087.2 1568,1092.2 1561.4,1097.5 1554.1,1102 1547.5,1107.3 1540.3,1111.7 1532.1,1114.9 1524.8,1119.2 1517.2,1123.2 1509.5,1126.8 1502.6,1131.8 1495,1135.7 1486.9,1138.6 1479.2,1142.2 1471,1144.8 1462.8,1147.5 1455.4,1151.6 1447.4,1154.7 1439.3,1157.5 1431.4,1160.7 1422.9,1162.1 1414.5,1163.9 1406.4,1166.9 1398.1,1168.8 1390,1171.4 1381.8,1174.1 1373.2,1174.9 1364.7,1176.1 1356.3,1177.6 1347.7,1178.1 1339.4,1180.1 1331,1182.1 1322.4,1182.5 1313.9,1183.5 1305.3,1183.7 1296.7,1183 1288.2,1184 1279.7,1184.8 1271.1,1184.7 1262.5,1185.6 1254,1184.9 1245.5,1183.4 1236.9,1183.3 1228.4,1182.5 1219.9,1181.8 1211.2,1182.2 1202.7,1180.9 1194.3,1179 1185.8,1177.9 1177.6,1175.5 1169.2,1173.9 1160.5,1173.5 1152.2,1171.5 1143.9,1169.6 1135.5,1167.7 1127.7,1164.2 1119.5,1161.6 1111.1,1159.8 1103.1,1156.9 1094.7,1154.9 1086.5,1152.5 1079,1148.3 1071.1,1145 1063.3,1141.6 1055.8,1137.7 1047.4,1135.2 1039.4,1132.1 1032.2,1127.6 1024.5,1123.9 1017.3,1119.3 1010.5,1114.4 1002.5,1111 995,1106.9 987.9,1102.3 980.2,1098.3 973.7,1092.9 967.4,1087.2 960.2,1082.7 953.5,1077.5 946.6,1072.6 939,1068.2 933,1062.3 927,1056.4 920.6,1050.9 915.6,1055.3 910.4,1049.2 904.2,1043.9 897.4,1039 892,1033 886.3,1027.2 880.9,1021.2 876.8,1014.3 871.3,1008.3 865.6,1002.4 860.8,995.9 855.1,990 850.3,983.4 846.9,976.1 842.3,969.4 838,962.5 834.1,955.5 828.7,949.2 824.5,942.2 821.4,934.8 817.5,927.7 814.8,920.1 811.9,912.6 807.3,905.7 804,898.3 800.9,890.8 797.4,883.4 796,875.4 794,867.6 790.8,860.1 788.8,852.3 785.9,844.7 782.9,837.1 782.2,829 780.9,821 779.2,813.1 778.7,805 776.5,797.2 774.2,789.3 773.9,781.2 772.8,773.2 772.6,765.1 773.4,757 772.2,749 771.4,740.9 771.5,732.8 770.5,724.7 771.2,716.7 772.9,708.7 773.1,700.6 773.9,692.6 774.7,684.5 774.2,676.3 775.6,668.4 777.6,660.5 778.8,652.5 781.4,644.8 783.2,636.9 783.6,628.7 785.8,620.9 787.9,613.1 789.9,605.3 793.8,598 796.6,590.4 798.5,582.6 801.6,575.1 803.7,567.3 806.4,559.6 811,552.8 814.5,545.5 818.1,538.3 822.4,531.3 825.1,523.7 828.4,516.3 833.2,509.7 837.2,502.7 842.2,496.2 847.5,490 851.2,482.8 855.6,476 860.5,469.6 864.8,462.7 870.6,456.9 876.7,451.4 881.5,444.9 887.2,439.1 892.4,432.9 897.1,426.3 903.4,421.1 909.8,415.9 915.6,410.4Z" fill="#6eff00"/>
<path d="M934,427.1L940.6,422.1 946.6,416.7 953.5,412.2 959.5,406.8 965.1,400.9 971.9,396.3 978.5,391.4 985.2,386.8 992.9,383.4 999.5,378.7 1005.9,373.7 1013,369.6 1019.6,364.8 1026.7,360.8 1034.7,358 1041.8,354.1 1049.2,350.5 1056.7,347.2 1063.5,342.6 1070.9,339.1 1078.8,336.7 1086.3,333.5 1094.3,331.3 1102.2,328.9 1109.5,325 1117.2,322.3 1125.1,320 1132.8,317.1 1141.1,316.1 1149.2,314.7 1157,312 1165.1,310.4 1173,308.1 1180.9,305.7 1189.2,305.4 1197.4,304.6 1205.5,303.3 1213.8,303.1 1221.8,301.3 1229.9,299.6 1238.2,299.6 1246.4,299 1254.6,299 1262.9,300 1271.1,299.2 1279.3,298.7 1287.6,299 1295.8,298.5 1304,299.4 1312.1,301.3 1320.3,301.6 1328.5,302.5 1336.7,303.5 1345,303.3 1353.1,304.8 1361.1,307 1369.2,308.3 1377,310.9 1385,312.6 1393.4,313.2 1401.3,315.4 1409.2,317.6 1417.2,319.6 1424.6,323.4 1432.3,326.1 1440.4,328 1448,331 1456,333.1 1463.8,335.8 1470.8,340.1 1478.2,343.5 1485.7,346.9 1492.8,350.9 1500.7,353.5 1508.3,356.8 1515.1,361.3 1522.4,365.2 1529.1,369.8 1535.5,374.8 1543.1,378.2 1550.2,382.3 1556.9,387 1564.1,391 1570.1,396.5 1575.9,402.1 1582.8,406.6 1589,411.8 1595.6,416.7 1602.7,421.1 1608.2,427.1 1613.1,422.6 1618.4,428.3 1624.2,433.5 1629,439.6 1634.8,444.8 1641.2,449.7 1646.1,455.7 1651.3,461.5 1656.2,467.5 1659.9,474.4 1665,480.3 1670.3,486.1 1674.7,492.5 1679.9,498.5 1684.3,504.9 1687.2,512.2 1691.4,518.7 1695.3,525.5 1698.8,532.3 1703.8,538.6 1707.5,545.4 1710.1,552.8 1713.7,559.7 1716,567.1 1718.5,574.4 1722.8,581.2 1725.7,588.4 1728.2,595.7 1731.3,602.9 1732.4,610.7 1733.9,618.3 1736.8,625.6 1738.6,633.1 1741,640.5 1743.6,648 1744,655.8 1744.9,663.5 1746.2,671.1 1746.5,678.9 1748.4,686.5 1750.3,694.1 1750.2,701.9 1750.9,709.7 1750.9,717.5 1749.8,725.3 1750.7,733 1751.3,740.8 1750.9,748.5 1751.5,756.3 1750.5,764 1748.4,771.7 1748.1,779.4 1747,787.1 1746,794.8 1746.3,802.7 1744.6,810.3 1742.2,817.8 1740.8,825.4 1738.1,832.8 1736.1,840.3 1735.5,848.1 1733.1,855.5 1730.8,862.9 1728.6,870.4 1724.5,877.2 1721.6,884.4 1719.6,891.9 1716.3,899 1714,906.4 1711.2,913.6 1706.5,920.1 1702.8,926.9 1699.1,933.8 1694.8,940.3 1692,947.6 1688.6,954.5 1683.6,960.7 1679.5,967.3 1674.5,973.3 1669.2,979.1 1665.5,986 1661.1,992.3 1656.1,998.3 1651.7,1004.7 1645.8,1010.1 1639.8,1015.2 1635,1021.3 1629.4,1026.7 1624.2,1032.4 1619.5,1038.6 1613.1,1043.4 1608.2,1039 1601.6,1043.9 1595.6,1049.3 1588.7,1053.9 1582.7,1059.3 1577.1,1065.2 1570.3,1069.7 1563.7,1074.6 1557,1079.2 1549.3,1082.7 1542.7,1087.4 1536.3,1092.3 1529.2,1096.4 1522.6,1101.2 1515.5,1105.2 1507.5,1108 1500.4,1111.9 1493,1115.5 1485.5,1118.8 1478.7,1123.4 1471.3,1126.9 1463.4,1129.3 1455.9,1132.5 1447.9,1134.7 1440,1137.1 1432.7,1141 1425,1143.6 1417.1,1146 1409.4,1148.8 1401.1,1149.9 1393,1151.3 1385.2,1154 1377.1,1155.6 1369.2,1157.8 1361.3,1160.2 1353,1160.6 1344.8,1161.4 1336.7,1162.7 1328.4,1162.9 1320.4,1164.7 1312.3,1166.4 1304,1166.3 1295.8,1167 1287.6,1167 1279.3,1166 1271.1,1166.8 1262.9,1167.3 1254.6,1167 1246.4,1167.5 1238.2,1166.6 1230.1,1164.7 1221.9,1164.4 1213.7,1163.4 1205.5,1162.5 1197.2,1162.7 1189.1,1161.1 1181.1,1159 1173,1157.7 1165.2,1155.1 1157.2,1153.4 1148.8,1152.7 1140.9,1150.6 1133,1148.4 1125,1146.3 1117.6,1142.6 1109.9,1140 1101.8,1138 1094.2,1135 1086.2,1132.8 1078.4,1130.2 1071.4,1125.9 1064,1122.5 1056.5,1119.1 1049.4,1115.1 1041.5,1112.5 1033.9,1109.2 1027.1,1104.7 1019.8,1100.9 1013.1,1096.2 1006.7,1091.3 999.1,1087.8 992,1083.7 985.3,1079.1 978.1,1075 972.1,1069.5 966.3,1063.9 959.4,1059.4 953.2,1054.2 946.6,1049.3 939.5,1044.9 934,1039 929.1,1043.4 923.8,1037.7 918,1032.4 913.2,1026.4 907.4,1021.1 901,1016.3 896.1,1010.2 890.9,1004.4 886,998.4 882.3,991.6 877.2,985.6 871.9,979.8 867.5,973.4 862.3,967.5 857.9,961 855,953.8 850.8,947.2 846.9,940.5 843.4,933.6 838.4,927.4 834.7,920.5 832.1,913.2 828.5,906.3 826.2,898.9 823.7,891.6 819.4,884.8 816.5,877.6 814,870.3 810.9,863 809.8,855.3 808.3,847.7 805.4,840.4 803.6,832.9 801.2,825.4 798.6,818 798.2,810.2 797.3,802.5 796,794.8 795.7,787.1 793.8,779.5 791.9,771.8 792,764 791.3,756.3 791.3,748.5 792.4,740.7 791.5,733 790.9,725.2 791.3,717.5 790.7,709.7 791.7,701.9 793.8,694.3 794.1,686.5 795.2,678.9 796.2,671.2 795.9,663.3 797.6,655.7 800,648.2 801.4,640.6 804.1,633.2 806.1,625.7 806.7,617.9 809.1,610.5 811.4,603.1 813.6,595.6 817.7,588.7 820.6,581.6 822.6,574.1 825.9,567 828.2,559.6 831,552.3 835.7,545.9 839.4,539 843.1,532.2 847.4,525.7 850.2,518.4 853.6,511.4 858.6,505.3 862.7,498.7 867.7,492.6 873,486.8 876.7,480 881.1,473.6 886.1,467.6 890.5,461.2 896.4,455.9 902.4,450.8 907.2,444.7 912.8,439.2 918,433.5 922.7,427.3 929.1,422.6Z" fill="#f0ff00"/>
<path d="M944.7,436.8L949.6,430.6 955.4,425.3 961.8,420.5 967.7,415.3 974.6,411.2 981.5,407.1 987.2,401.7 993.7,397.1 1000,392.4 1006.2,387.4 1013.6,384.1 1020.7,380.6 1027.4,376.2 1034.6,372.8 1041.2,368.4 1047.6,363.8 1055.2,360.9 1062.4,357.6 1069.7,354.4 1077.5,352.2 1084.5,348.5 1091.5,344.7 1099.1,342.2 1106.4,338.9 1114,336.6 1122.1,335.4 1129.5,332.6 1137.1,330.1 1144.8,328.1 1152.2,324.9 1160,323.3 1168.1,322.6 1175.9,320.8 1183.8,319.8 1191.7,318.6 1199.3,315.9 1207.3,314.9 1215.3,314.3 1223.2,313.2 1231.3,313.7 1239.2,313.4 1247.1,311.8 1255.1,311.6 1263.1,310.9 1271.1,310.4 1279.1,311.8 1287.1,312.3 1295.1,312.2 1303,313 1311,312.6 1319.1,312.6 1326.9,314.5 1334.8,315.5 1342.7,316.9 1350.4,318.9 1358.5,319.2 1366.5,320 1374.2,322 1382.2,323.3 1389.7,325.8 1397.1,328.9 1405.1,330.2 1412.8,332.3 1420.4,334.5 1428.4,336 1435.7,339.2 1442.8,342.8 1450.4,345.4 1457.5,348.8 1465,351.6 1472.9,353.6 1480,357.3 1487,361 1494.1,364.5 1500.5,369.2 1507.6,372.8 1515.2,375.7 1521.9,379.9 1529,383.6 1535.8,387.7 1541.6,393.2 1548.2,397.6 1554.9,401.8 1561.1,406.6 1568.3,410.4 1574.8,415.1 1580.1,420.8 1586.3,425.8 1592,431.2 1597.5,436.8 1602.4,432.3 1609.1,436.5 1614.8,441.5 1619.8,447.1 1625.4,452.2 1629.8,458.4 1634.2,464.5 1640,469.6 1644.9,475.3 1650,481 1655.4,486.5 1658.9,493.2 1662.7,499.7 1667.4,505.7 1671,512.3 1675.8,518.3 1680.8,524.2 1683.8,531.1 1687.4,537.7 1690.8,544.5 1693.2,551.6 1697.2,558.1 1701.3,564.6 1704,571.6 1707.6,578.4 1710,585.5 1711.3,593 1714.3,600 1717,607 1719.2,614.2 1722.7,621.1 1724.4,628.5 1725.1,636.1 1727.1,643.3 1728.1,650.8 1729.5,658.2 1732.4,665.4 1733.5,672.9 1734.1,680.4 1735.3,687.9 1734.8,695.5 1735.1,703 1736.9,710.5 1737.1,718 1737.8,725.5 1738.4,733.1 1736.9,740.6 1736.3,748.2 1736.4,755.7 1735.5,763.2 1735.9,770.8 1736,778.4 1734,785.8 1732.9,793.2 1731.4,800.6 1729.1,807.9 1728.8,815.5 1727.9,823 1725.8,830.3 1724.4,837.7 1721.7,844.8 1718.4,851.7 1716.9,859.1 1714.7,866.3 1712.3,873.5 1710.7,880.9 1707.2,887.7 1703.3,894.3 1700.6,901.3 1696.8,907.9 1693.8,914.8 1691.7,922.1 1687.7,928.6 1683.7,935 1680,941.6 1674.9,947.5 1671.1,953.9 1667.9,960.8 1663.4,966.9 1659.5,973.3 1655,979.4 1649.1,984.6 1644.4,990.5 1639.9,996.5 1634.7,1002.1 1630.7,1008.4 1625.7,1014.1 1619.5,1018.8 1614.2,1024.2 1608.4,1029.1 1602.4,1033.9 1597.5,1029.5 1592.6,1035.6 1586.8,1041 1580.4,1045.7 1574.5,1050.9 1567.6,1055 1560.7,1059.2 1555,1064.6 1548.5,1069.1 1542.2,1073.8 1536,1078.8 1528.6,1082.1 1521.5,1085.7 1514.8,1090 1507.6,1093.4 1501,1097.8 1494.6,1102.4 1487,1105.3 1479.8,1108.6 1472.5,1111.8 1464.7,1114 1457.7,1117.7 1450.7,1121.5 1443.1,1124 1435.8,1127.3 1428.2,1129.6 1420.1,1130.8 1412.7,1133.6 1405.1,1136.1 1397.4,1138.1 1390,1141.3 1382.2,1142.9 1374.1,1143.6 1366.3,1145.4 1358.4,1146.4 1350.5,1147.6 1342.9,1150.3 1334.9,1151.3 1326.9,1151.9 1319,1153 1310.9,1152.5 1303,1152.8 1295.1,1154.4 1287.1,1154.6 1279.1,1155.3 1271.1,1155.8 1263.1,1154.4 1255.1,1153.9 1247.1,1154 1239.2,1153.2 1231.2,1153.6 1223.1,1153.6 1215.3,1151.7 1207.4,1150.7 1199.5,1149.3 1191.8,1147.3 1183.7,1147 1175.7,1146.2 1168,1144.2 1160,1142.9 1152.5,1140.4 1145.1,1137.3 1137.1,1136 1129.4,1133.9 1121.8,1131.7 1113.8,1130.2 1106.5,1127 1099.4,1123.4 1091.8,1120.8 1084.7,1117.4 1077.2,1114.6 1069.3,1112.6 1062.2,1108.9 1055.2,1105.2 1048.1,1101.7 1041.7,1097 1034.6,1093.5 1027,1090.5 1020.3,1086.3 1013.2,1082.6 1006.4,1078.5 1000.6,1073 994,1068.7 987.3,1064.5 981.1,1059.6 973.9,1055.8 967.4,1051.2 962.1,1045.4 955.9,1040.5 950.2,1035 944.7,1029.5 939.8,1033.9 933.1,1029.7 927.4,1024.7 922.4,1019.1 916.8,1013.9 912.4,1007.7 908,1001.7 902.2,996.6 897.3,990.8 892.2,985.1 886.8,979.6 883.3,973 879.5,966.5 874.8,960.5 871.2,953.9 866.4,947.9 861.4,942 858.4,935.1 854.8,928.4 851.4,921.7 849,914.6 845,908.1 840.9,901.6 838.2,894.6 834.6,887.8 832.2,880.7 830.9,873.2 827.9,866.2 825.2,859.2 823,852 819.5,845 817.8,837.7 817.1,830.1 815.1,822.8 814.1,815.4 812.7,808 809.8,800.8 808.7,793.3 808.1,785.8 806.9,778.3 807.4,770.7 807.1,763.2 805.3,755.7 805.1,748.2 804.4,740.6 803.8,733.1 805.3,725.6 805.9,718 805.8,710.5 806.7,703 806.3,695.4 806.2,687.8 808.2,680.4 809.3,673 810.8,665.6 813.1,658.3 813.4,650.7 814.3,643.2 816.4,635.9 817.8,628.5 820.5,621.4 823.8,614.5 825.3,607.1 827.5,599.8 829.9,592.7 831.5,585.3 835,578.5 838.9,571.9 841.6,564.9 845.4,558.3 848.4,551.4 850.5,544 854.5,537.6 858.5,531.1 862.2,524.6 867.3,518.7 871.1,512.3 874.3,505.4 878.8,499.3 882.7,492.8 887.2,486.7 893.1,481.6 897.8,475.7 902.3,469.7 907.5,464.1 911.5,457.7 916.5,452 922.7,447.4 928,442 933.8,437.1 939.8,432.3Z" fill="#ffaa00"/>
<path d="M949.4,441.1L954.7,435.4 961.5,431.2 967.8,426.7 973.7,421.6 980.2,417.3 985.8,412 991.5,406.7 998.4,402.9 1004.9,398.6 1011.6,394.5 1018.8,391.3 1025,386.5 1031.3,382 1038.2,378.4 1044.8,374.1 1052,371 1059.6,368.6 1066.4,364.8 1073.4,361.4 1080.5,358.2 1087.2,354.1 1094.6,351.5 1102.4,349.6 1109.6,346.7 1117.2,344.8 1124.6,342.3 1131.6,338.6 1139.2,336.6 1146.9,334.8 1154.4,332.7 1162.4,332.1 1170.1,330.4 1177.5,327.8 1185.2,326.5 1192.8,324.6 1200.5,323.1 1208.5,323.4 1216.3,322.6 1224.1,321.4 1232,321.1 1239.7,319.4 1247.5,318.4 1255.4,319.1 1263.2,318.8 1271.1,319.2 1278.9,320.1 1286.8,319.1 1294.7,318.9 1302.5,319.6 1310.4,319.7 1318.1,321.2 1325.8,323 1333.7,323.2 1341.5,324.2 1349.3,325.1 1357.2,325.4 1364.7,327.7 1372.2,330.1 1380,331.5 1387.4,333.9 1395.1,335.4 1403.1,336.2 1410.4,338.9 1417.9,341.4 1425.3,343.9 1432.2,347.6 1439.7,349.9 1447.5,351.8 1454.6,354.9 1462.1,357.3 1469.3,360.5 1475.7,365.1 1482.8,368.3 1489.9,371.5 1496.7,375.3 1504.3,377.9 1511.2,381.6 1517.3,386.4 1524.1,390.3 1530.3,394.9 1536.6,399.5 1543.9,402.7 1550.4,407 1556.5,411.8 1563,416.2 1568.4,421.8 1574,427 1580.7,431.2 1586.6,436.3 1592.8,441.1 1597.7,436.6 1603.8,441.1 1608.2,447.1 1613.1,452.6 1618.5,457.7 1623.1,463.5 1628.8,468.5 1634.6,473.5 1638.6,479.7 1643.2,485.5 1647.6,491.5 1651,498.1 1656.1,503.6 1661.1,509.3 1664.9,515.7 1669.5,521.6 1672.9,528.2 1675.4,535.2 1679.5,541.4 1683.2,547.9 1686.6,554.5 1691.1,560.6 1693.8,567.5 1695.8,574.7 1699,581.4 1701.1,588.6 1703.8,595.5 1707.7,602 1709.9,609.1 1711.9,616.2 1714.2,623.3 1714.8,630.8 1716.5,637.9 1719.4,644.9 1720.8,652.2 1722.8,659.4 1724.5,666.6 1724.2,674.1 1725,681.5 1726.3,688.8 1726.6,696.2 1728.4,703.5 1729.6,710.9 1728.8,718.3 1729.1,725.7 1728.7,733.2 1727.7,740.6 1728.8,748 1729.1,755.4 1728.2,762.8 1728.2,770.2 1726.5,777.5 1724.5,784.8 1724.4,792.2 1723.3,799.5 1722.3,806.9 1722,814.3 1719.5,821.4 1716.9,828.5 1715.4,835.7 1712.8,842.7 1711.2,849.9 1710.3,857.3 1707.4,864.2 1704.7,871.2 1702.1,878.1 1698,884.5 1695.6,891.5 1693.6,898.7 1690.2,905.3 1687.5,912.2 1684.1,918.8 1679.2,924.7 1675.8,931.3 1672.3,937.8 1668.2,944 1665.4,950.9 1661.4,957.2 1656.2,962.7 1652.1,968.8 1647.1,974.5 1642.2,980.1 1638.8,986.7 1634.2,992.5 1629,997.9 1624.4,1003.7 1618.3,1008.4 1612.7,1013.4 1608.2,1019.2 1602.8,1024.3 1597.7,1029.7 1592.8,1025.3 1587.5,1031 1580.7,1035.1 1574.4,1039.7 1568.5,1044.8 1562,1049.1 1556.4,1054.4 1550.7,1059.7 1543.8,1063.5 1537.3,1067.8 1530.6,1071.8 1523.4,1075.1 1517.2,1079.8 1510.9,1084.4 1504,1087.9 1497.4,1092.2 1490.2,1095.4 1482.6,1097.7 1475.8,1101.6 1468.8,1105 1461.7,1108.1 1455,1112.3 1447.6,1114.8 1439.8,1116.7 1432.6,1119.6 1425,1121.6 1417.6,1124.1 1410.6,1127.7 1403,1129.7 1395.3,1131.5 1387.8,1133.7 1379.8,1134.3 1372.1,1135.9 1364.7,1138.5 1357,1139.8 1349.4,1141.7 1341.7,1143.2 1333.7,1143 1325.9,1143.8 1318.1,1144.9 1310.2,1145.2 1302.5,1146.9 1294.7,1147.9 1286.8,1147.2 1279,1147.5 1271.1,1147.1 1263.3,1146.3 1255.4,1147.3 1247.5,1147.4 1239.7,1146.7 1231.8,1146.6 1224.1,1145.1 1216.4,1143.3 1208.5,1143.2 1200.7,1142.1 1192.9,1141.2 1185,1140.9 1177.5,1138.6 1170,1136.3 1162.2,1134.9 1154.8,1132.4 1147.1,1131 1139.1,1130.1 1131.8,1127.4 1124.3,1124.9 1116.9,1122.5 1110,1118.8 1102.5,1116.5 1094.7,1114.6 1087.6,1111.4 1080.1,1109 1072.9,1105.8 1066.5,1101.3 1059.4,1098.1 1052.3,1094.8 1045.5,1091.1 1037.9,1088.5 1031,1084.7 1024.9,1079.9 1018.1,1076 1011.9,1071.4 1005.6,1066.9 998.3,1063.7 991.8,1059.3 985.7,1054.6 979.2,1050.2 973.8,1044.6 968.2,1039.4 961.5,1035.2 955.6,1030.1 949.4,1025.3 944.5,1029.7 938.4,1025.2 934,1019.2 929.1,1013.7 923.7,1008.5 919.1,1002.8 913.4,997.8 907.6,992.8 903.6,986.6 899,980.8 894.6,974.8 891.2,968.2 886.1,962.7 881.1,957 877.3,950.6 872.7,944.7 869.3,938.1 866.8,931.1 862.7,924.9 859,918.4 855.6,911.8 851.1,905.7 848.4,898.8 846.4,891.6 843.2,884.9 841.1,877.8 838.4,870.9 834.5,864.3 832.3,857.2 830.3,850.1 828,843 827.4,835.6 825.7,828.4 822.8,821.4 821.4,814.1 819.4,806.9 817.7,799.7 818,792.2 817.2,784.8 815.9,777.5 815.6,770.1 813.8,762.8 812.6,755.4 813.4,748 813.1,740.6 813.5,733.2 814.5,725.8 813.4,718.3 813.1,710.9 814,703.5 814,696.1 815.7,688.8 817.7,681.6 817.8,674.1 818.9,666.8 819.9,659.5 820.2,652 822.7,644.9 825.3,637.9 826.8,630.6 829.4,623.6 831,616.4 831.9,608.9 834.8,602.1 837.5,595.1 840.1,588.2 844.2,581.8 846.6,574.8 848.6,567.6 852,561 854.7,554.1 858.1,547.5 863,541.6 866.4,535 869.9,528.5 874,522.3 876.8,515.4 880.8,509.1 886,503.6 890.1,497.4 895.1,491.8 900,486.2 903.4,479.6 908,473.8 913.2,468.4 917.8,462.6 923.9,457.9 929.5,452.9 934,447 939.4,441.9 944.5,436.6Z" fill="#ff2a00"/>
<path d="M956.5,447.5L962.6,442.8 968.9,438.4 973.8,432.7 979.4,427.6 985.7,423.3 991.4,418.3 998.2,414.5 1005.1,411 1010.8,406 1017.2,401.8 1023.5,397.6 1029.4,392.8 1036.5,389.7 1043.6,386.6 1050.1,382.7 1057.2,379.7 1063.8,375.9 1070.1,371.5 1077.3,368.8 1084.4,365.9 1091.5,363 1099.1,361.2 1106.1,358.1 1112.9,354.6 1120.2,352.3 1127.3,349.4 1134.6,347.2 1142.5,346.4 1149.8,344.2 1157.1,342 1164.6,340.4 1171.8,337.5 1179.3,335.9 1187.1,335.5 1194.6,334 1202.3,333.4 1210,332.7 1217.4,330.4 1225,329.4 1232.7,329.1 1240.3,328.2 1248.1,328.8 1255.8,329.1 1263.4,327.9 1271.1,327.9 1278.8,327.5 1286.5,326.9 1294.1,328.5 1301.8,329.4 1309.4,329.6 1317,330.8 1324.8,330.8 1332.5,330.7 1340,332.6 1347.6,333.9 1355.1,335.4 1362.4,337.8 1370.1,338.5 1377.8,339.4 1385.2,341.5 1392.8,342.9 1400.1,345.4 1407,348.7 1414.5,350.4 1421.9,352.6 1429.1,355.1 1436.8,356.6 1443.8,359.7 1450.5,363.5 1457.6,366.2 1464.3,369.8 1471.3,372.9 1478.9,375 1485.7,378.6 1492.3,382.3 1499.1,385.8 1505.1,390.6 1511.6,394.5 1518.8,397.5 1525.1,401.7 1531.9,405.4 1538.4,409.4 1543.8,414.8 1549.8,419.4 1556.2,423.6 1561.9,428.6 1568.6,432.5 1574.9,436.9 1579.9,442.6 1585.7,447.5 1590.6,443 1595.6,448.3 1600.3,453.8 1606.4,458.1 1611.9,463 1616.6,468.6 1621.9,473.6 1625.9,479.7 1629.7,485.9 1635,491 1639.5,496.7 1644.1,502.4 1649.3,507.7 1652.6,514.2 1655.8,520.7 1660,526.7 1663.2,533.2 1667.4,539.2 1672.2,544.9 1675,551.6 1678.1,558.2 1681.3,564.7 1683.1,571.8 1686.5,578.2 1690.3,584.5 1692.8,591.4 1696,598 1698.3,604.8 1699.2,612.2 1701.6,619 1703.9,625.9 1705.7,632.9 1708.8,639.6 1710.5,646.7 1710.9,654 1712.5,661.1 1713.2,668.3 1713.9,675.5 1716.4,682.5 1717.5,689.7 1717.8,697 1718.9,704.2 1718.1,711.5 1717.8,718.8 1719.2,726 1719.2,733.2 1719.6,740.5 1720.2,747.8 1718.5,755 1717.5,762.2 1717.3,769.4 1716,776.6 1716,783.9 1716.1,791.2 1714,798.2 1712.7,805.4 1711,812.5 1708.4,819.3 1707.6,826.6 1706.7,833.8 1704.4,840.7 1703,847.8 1700.3,854.6 1696.6,861.1 1694.8,868.1 1692.4,875 1689.8,881.7 1688.2,888.8 1684.8,895.3 1680.7,901.5 1677.8,908.2 1673.9,914.4 1670.6,920.8 1668.4,927.8 1664.5,933.9 1660.5,940 1656.7,946.3 1651.6,951.7 1647.4,957.6 1644.2,964.1 1639.7,969.8 1635.7,975.9 1631.5,981.8 1625.6,986.5 1620.7,991.9 1616.1,997.5 1610.9,1002.6 1606.7,1008.6 1602,1014.1 1595.9,1018.4 1590.6,1023.4 1585.7,1019 1579.6,1023.7 1573.3,1028.1 1568.4,1033.8 1562.8,1038.9 1556.5,1043.3 1550.8,1048.2 1544,1052 1537.1,1055.6 1531.4,1060.5 1525,1064.7 1518.7,1068.9 1512.8,1073.7 1505.7,1076.8 1498.6,1079.9 1492.1,1083.8 1485,1086.8 1478.4,1090.6 1472.1,1095 1464.9,1097.7 1457.8,1100.6 1450.7,1103.5 1443.1,1105.3 1436.1,1108.4 1429.3,1111.9 1422,1114.1 1414.9,1117.1 1407.6,1119.3 1399.7,1120.1 1392.4,1122.3 1385.1,1124.5 1377.6,1126.1 1370.4,1129 1362.9,1130.6 1355.1,1131 1347.6,1132.4 1339.9,1133.1 1332.2,1133.8 1324.8,1136.1 1317.2,1137 1309.5,1137.4 1301.9,1138.3 1294.1,1137.6 1286.4,1137.4 1278.8,1138.6 1271.1,1138.6 1263.4,1139 1255.7,1139.5 1248.1,1138 1240.4,1137.1 1232.8,1136.9 1225.2,1135.7 1217.4,1135.7 1209.7,1135.7 1202.2,1133.8 1194.6,1132.6 1187.1,1131.1 1179.8,1128.6 1172.1,1127.9 1164.4,1127 1157,1124.9 1149.4,1123.6 1142.1,1121.1 1135.2,1117.8 1127.7,1116 1120.3,1113.8 1113.1,1111.4 1105.4,1109.9 1098.4,1106.7 1091.7,1103 1084.6,1100.3 1077.9,1096.7 1070.9,1093.6 1063.3,1091.5 1056.5,1087.9 1049.9,1084.1 1043.1,1080.7 1037.1,1075.9 1030.6,1072 1023.4,1069 1017.1,1064.8 1010.3,1061.1 1003.8,1057.1 998.4,1051.7 992.4,1047.1 986,1042.9 980.3,1038 973.6,1034.1 967.3,1029.6 962.3,1024 956.5,1019 951.6,1023.4 946.6,1018.2 941.9,1012.6 935.8,1008.3 930.3,1003.4 925.6,997.9 920.3,992.8 916.3,986.8 912.5,980.6 907.2,975.4 902.7,969.7 898.1,964 892.9,958.7 889.6,952.2 886.4,945.8 882.2,939.8 879,933.3 874.8,927.3 870,921.5 867.2,914.9 864.1,908.3 860.9,901.8 859.1,894.7 855.7,888.2 851.9,881.9 849.4,875.1 846.2,868.5 843.9,861.6 843,854.3 840.6,847.5 838.3,840.6 836.5,833.6 833.4,826.8 831.7,819.7 831.3,812.4 829.7,805.4 829,798.1 828.3,790.9 825.8,783.9 824.7,776.7 824.4,769.5 823.3,762.3 824.1,755 824.4,747.7 823,740.5 823,733.2 822.6,726 822,718.7 823.7,711.5 824.7,704.3 824.9,697 826.2,689.9 826.2,682.6 826.1,675.3 828.2,668.2 829.5,661.1 831.2,654 833.8,647.1 834.6,639.9 835.5,632.7 837.8,625.7 839.2,618.6 841.9,611.8 845.6,605.4 847.4,598.3 849.8,591.5 852.4,584.7 854,577.6 857.4,571.1 861.5,564.9 864.4,558.3 868.3,552.1 871.6,545.7 873.8,538.7 877.7,532.5 881.7,526.4 885.5,520.2 890.6,514.8 894.8,508.8 898,502.3 902.5,496.6 906.5,490.5 910.7,484.6 916.6,479.9 921.5,474.5 926.1,468.9 931.3,463.8 935.5,457.9 940.2,452.3 946.3,448 951.6,443Z" fill="#ff0000"/>
<path d="M959.6,450.3L965.4,445.5 971.2,440.8 977.2,436.1 983.2,431.6 989.2,427.1 995.4,422.8 1001.6,418.5 1007.9,414.3 1014.2,410.3 1020.6,406.3 1027,402.5 1033.6,398.7 1040.1,395 1046.8,391.5 1053.5,388 1060.2,384.7 1067,381.4 1073.8,378.3 1080.7,375.3 1087.7,372.4 1094.7,369.6 1101.7,366.9 1108.8,364.3 1115.9,361.8 1123,359.4 1130.2,357.2 1137.4,355 1144.6,353 1151.9,351.1 1159.2,349.3 1166.6,347.6 1173.9,346 1181.3,344.5 1188.7,343.2 1196.1,342 1203.6,340.9 1211,339.9 1218.5,339 1226,338.2 1233.5,337.6 1241,337 1248.5,336.6 1256,336.3 1263.6,336.2 1271.1,336.1 1278.6,336.2 1286.2,336.3 1293.7,336.6 1301.2,337 1308.7,337.6 1316.2,338.2 1323.7,339 1331.2,339.9 1338.6,340.9 1346.1,342 1353.5,343.2 1360.9,344.5 1368.3,346 1375.6,347.6 1383,349.3 1390.3,351.1 1397.6,353 1404.8,355 1412,357.2 1419.2,359.4 1426.3,361.8 1433.4,364.3 1440.5,366.9 1447.5,369.6 1454.5,372.4 1461.5,375.3 1468.4,378.3 1475.2,381.4 1482,384.7 1488.7,388 1495.4,391.5 1502.1,395 1508.6,398.7 1515.2,402.5 1521.6,406.3 1528,410.3 1534.3,414.3 1540.6,418.5 1546.8,422.8 1553,427.1 1559,431.6 1565,436.1 1571,440.8 1576.8,445.5 1582.6,450.3 1582.6,450.3 1587.9,455.1 1593.1,459.9 1598.2,464.9 1603.2,469.9 1608.1,475.1 1612.9,480.3 1617.6,485.6 1622.2,491 1626.7,496.5 1631.1,502.1 1635.4,507.8 1639.6,513.5 1643.7,519.3 1647.6,525.2 1651.5,531.2 1655.2,537.2 1658.9,543.4 1662.4,549.5 1665.8,555.8 1669.1,562.1 1672.2,568.4 1675.3,574.9 1678.2,581.3 1681,587.9 1683.7,594.5 1686.2,601.1 1688.6,607.8 1690.9,614.5 1693.1,621.3 1695.2,628.1 1697.1,634.9 1698.9,641.8 1700.5,648.7 1702,655.7 1703.4,662.6 1704.7,669.6 1705.8,676.7 1706.8,683.7 1707.7,690.7 1708.4,697.8 1709,704.9 1709.5,712 1709.8,719.1 1710,726.2 1710.1,733.3 1710,740.4 1709.8,747.5 1709.5,754.6 1709,761.7 1708.4,768.8 1707.7,775.9 1706.8,782.9 1705.8,789.9 1704.7,797 1703.4,804 1702,810.9 1700.5,817.9 1698.9,824.8 1697.1,831.7 1695.2,838.5 1693.1,845.3 1690.9,852.1 1688.6,858.8 1686.2,865.5 1683.7,872.1 1681,878.7 1678.2,885.3 1675.3,891.7 1672.2,898.2 1669.1,904.5 1665.8,910.8 1662.4,917.1 1658.9,923.2 1655.2,929.4 1651.5,935.4 1647.6,941.4 1643.7,947.3 1639.6,953.1 1635.4,958.8 1631.1,964.5 1626.7,970.1 1622.2,975.6 1617.6,981 1612.9,986.3 1608.1,991.5 1603.2,996.7 1598.2,1001.7 1593.1,1006.7 1587.9,1011.5 1582.6,1016.3 1582.6,1016.3 1576.8,1021.1 1571,1025.8 1565,1030.5 1559,1035 1553,1039.5 1546.8,1043.8 1540.6,1048.1 1534.3,1052.3 1528,1056.3 1521.6,1060.3 1515.2,1064.1 1508.6,1067.9 1502.1,1071.6 1495.4,1075.1 1488.7,1078.6 1482,1081.9 1475.2,1085.2 1468.4,1088.3 1461.5,1091.3 1454.5,1094.2 1447.5,1097 1440.5,1099.7 1433.4,1102.3 1426.3,1104.8 1419.2,1107.2 1412,1109.4 1404.8,1111.6 1397.6,1113.6 1390.3,1115.5 1383,1117.3 1375.6,1119 1368.3,1120.6 1360.9,1122.1 1353.5,1123.4 1346.1,1124.6 1338.6,1125.7 1331.2,1126.7 1323.7,1127.6 1316.2,1128.4 1308.7,1129 1301.2,1129.6 1293.7,1130 1286.2,1130.3 1278.6,1130.4 1271.1,1130.5 1263.6,1130.4 1256,1130.3 1248.5,1130 1241,1129.6 1233.5,1129 1226,1128.4 1218.5,1127.6 1211,1126.7 1203.6,1125.7 1196.1,1124.6 1188.7,1123.4 1181.3,1122.1 1173.9,1120.6 1166.6,1119 1159.2,1117.3 1151.9,1115.5 1144.6,1113.6 1137.4,1111.6 1130.2,1109.4 1123,1107.2 1115.9,1104.8 1108.8,1102.3 1101.7,1099.7 1094.7,1097 1087.7,1094.2 1080.7,1091.3 1073.8,1088.3 1067,1085.2 1060.2,1081.9 1053.5,1078.6 1046.8,1075.1 1040.1,1071.6 1033.6,1067.9 1027,1064.1 1020.6,1060.3 1014.2,1056.3 1007.9,1052.3 1001.6,1048.1 995.4,1043.8 989.2,1039.5 983.2,1035 977.2,1030.5 971.2,1025.8 965.4,1021.1 959.6,1016.3 959.6,1016.3 954.3,1011.5 949.1,1006.7 944,1001.7 939,996.7 934.1,991.5 929.3,986.3 924.6,981 920,975.6 915.5,970.1 911.1,964.5 906.8,958.8 902.6,953.1 898.5,947.3 894.6,941.4 890.7,935.4 887,929.4 883.3,923.2 879.8,917.1 876.4,910.8 873.1,904.5 870,898.2 866.9,891.7 864,885.3 861.2,878.7 858.5,872.1 856,865.5 853.6,858.8 851.3,852.1 849.1,845.3 847,838.5 845.1,831.7 843.3,824.8 841.7,817.9 840.2,810.9 838.8,804 837.5,797 836.4,789.9 835.4,782.9 834.5,775.9 833.8,768.8 833.2,761.7 832.7,754.6 832.4,747.5 832.2,740.4 832.1,733.3 832.2,726.2 832.4,719.1 832.7,712 833.2,704.9 833.8,697.8 834.5,690.7 835.4,683.7 836.4,676.7 837.5,669.6 838.8,662.6 840.2,655.7 841.7,648.7 843.3,641.8 845.1,634.9 847,628.1 849.1,621.3 851.3,614.5 853.6,607.8 856,601.1 858.5,594.5 861.2,587.9 864,581.3 866.9,574.9 870,568.4 873.1,562.1 876.4,555.8 879.8,549.5 883.3,543.4 887,537.2 890.7,531.2 894.6,525.2 898.5,519.3 902.6,513.5 906.8,507.8 911.1,502.1 915.5,496.5 920,491 924.6,485.6 929.3,480.3 934.1,475.1 939,469.9 944,464.9 949.1,459.9 954.3,455.1 959.6,450.3Z" fill="#fff" stroke="#000" stroke-width="2.5" stroke-linejoin="round"/>
<path d="M839.1,340.9L847.1,334.1 855.1,327.4 863.3,320.9 871.6,314.5 879.9,308.2 888.4,302 897,296 905.7,290.1 914.4,284.4 923.3,278.8 932.2,273.3 941.2,268 950.3,262.9 959.5,257.8 968.8,253 978.1,248.2 987.5,243.7 997,239.2 1006.6,234.9 1016.2,230.8 1025.9,226.8 1035.6,223 1045.4,219.4 1055.3,215.8 1065.2,212.5 1075.2,209.3 1085.2,206.3 1095.3,203.4 1105.4,200.7 1115.5,198.1 1125.7,195.7 1136,193.5 1146.2,191.4 1156.5,189.5 1166.8,187.8 1177.2,186.2 1187.6,184.8 1198,183.6 1208.4,182.5 1218.8,181.6 1229.2,180.8 1239.7,180.2 1250.2,179.8 1260.6,179.6 1271.1,179.5 1281.6,179.6 1292,179.8 1302.5,180.2 1313,180.8 1323.4,181.6 1333.8,182.5 1344.2,183.6 1354.6,184.8 1365,186.2 1375.4,187.8 1385.7,189.5 1396,191.4 1406.2,193.5 1416.5,195.7 1426.7,198.1 1436.8,200.7 1446.9,203.4 1457,206.3 1467,209.3 1477,212.5 1486.9,215.8 1496.8,219.4 1506.6,223 1516.3,226.8 1526,230.8 1535.6,234.9 1545.2,239.2 1554.7,243.7 1564.1,248.2 1573.4,253 1582.7,257.8 1591.9,262.9 1601,268 1610,273.3 1618.9,278.8 1627.8,284.4 1636.5,290.1 1645.2,296 1653.8,302 1662.3,308.2 1670.6,314.5 1678.9,320.9 1687.1,327.4 1695.1,334.1 1703.1,340.9 1703.1,340.9 1710.5,347.4 1717.8,354.1 1724.9,360.8 1732,367.8 1738.8,374.8 1745.6,382 1752.2,389.3 1758.7,396.8 1765,404.3 1771.2,412 1777.2,419.8 1783.1,427.7 1788.9,435.7 1794.4,443.9 1799.9,452.1 1805.1,460.4 1810.2,468.9 1815.2,477.4 1820,486 1824.6,494.7 1829,503.5 1833.3,512.4 1837.4,521.4 1841.3,530.4 1845.1,539.5 1848.7,548.7 1852.1,558 1855.3,567.3 1858.4,576.7 1861.3,586.1 1864,595.6 1866.5,605.1 1868.8,614.7 1871,624.3 1872.9,634 1874.7,643.7 1876.3,653.4 1877.7,663.2 1878.9,673 1879.9,682.8 1880.8,692.6 1881.5,702.4 1881.9,712.3 1882.2,722.1 1882.3,732 1882.2,741.9 1881.9,751.7 1881.5,761.6 1880.8,771.4 1879.9,781.2 1878.9,791 1877.7,800.8 1876.3,810.6 1874.7,820.3 1872.9,830 1871,839.7 1868.8,849.3 1866.5,858.9 1864,868.4 1861.3,877.9 1858.4,887.3 1855.3,896.7 1852.1,906 1848.7,915.3 1845.1,924.5 1841.3,933.6 1837.4,942.6 1833.3,951.6 1829,960.5 1824.6,969.3 1820,978 1815.2,986.6 1810.2,995.1 1805.1,1003.6 1799.9,1011.9 1794.4,1020.1 1788.9,1028.3 1783.1,1036.3 1777.2,1044.2 1771.2,1052 1765,1059.7 1758.7,1067.2 1752.2,1074.7 1745.6,1082 1738.8,1089.2 1732,1096.2 1724.9,1103.2 1717.8,1109.9 1710.5,1116.6 1703.1,1123.1 1703.1,1123.1 1695.1,1129.9 1687.1,1136.6 1678.9,1143.1 1670.6,1149.5 1662.3,1155.8 1653.8,1162 1645.2,1168 1636.5,1173.9 1627.8,1179.6 1618.9,1185.2 1610,1190.7 1601,1196 1591.9,1201.1 1582.7,1206.2 1573.4,1211 1564.1,1215.8 1554.7,1220.3 1545.2,1224.8 1535.6,1229.1 1526,1233.2 1516.3,1237.2 1506.6,1241 1496.8,1244.6 1486.9,1248.2 1477,1251.5 1467,1254.7 1457,1257.7 1446.9,1260.6 1436.8,1263.3 1426.7,1265.9 1416.5,1268.3 1406.2,1270.5 1396,1272.6 1385.7,1274.5 1375.4,1276.2 1365,1277.8 1354.6,1279.2 1344.2,1280.4 1333.8,1281.5 1323.4,1282.4 1313,1283.2 1302.5,1283.8 1292,1284.2 1281.6,1284.4 1271.1,1284.5 1260.6,1284.4 1250.2,1284.2 1239.7,1283.8 1229.2,1283.2 1218.8,1282.4 1208.4,1281.5 1198,1280.4 1187.6,1279.2 1177.2,1277.8 1166.8,1276.2 1156.5,1274.5 1146.2,1272.6 1136,1270.5 1125.7,1268.3 1115.5,1265.9 1105.4,1263.3 1095.3,1260.6 1085.2,1257.7 1075.2,1254.7 1065.2,1251.5 1055.3,1248.2 1045.4,1244.6 1035.6,1241 1025.9,1237.2 1016.2,1233.2 1006.6,1229.1 997,1224.8 987.5,1220.3 978.1,1215.8 968.8,1211 959.5,1206.2 950.3,1201.1 941.2,1196 932.2,1190.7 923.3,1185.2 914.4,1179.6 905.7,1173.9 897,1168 888.4,1162 879.9,1155.8 871.6,1149.5 863.3,1143.1 855.1,1136.6 847.1,1129.9 839.1,1123.1 839.1,1123.1 831.7,1116.6 824.4,1109.9 817.3,1103.2 810.2,1096.2 803.4,1089.2 796.6,1082 790,1074.7 783.5,1067.2 777.2,1059.7 771,1052 765,1044.2 759.1,1036.3 753.3,1028.3 747.8,1020.1 742.3,1011.9 737.1,1003.6 732,995.1 727,986.6 722.2,978 717.6,969.3 713.2,960.5 708.9,951.6 704.8,942.6 700.9,933.6 697.1,924.5 693.5,915.3 690.1,906 686.9,896.7 683.8,887.3 680.9,877.9 678.2,868.4 675.7,858.9 673.4,849.3 671.2,839.7 669.3,830 667.5,820.3 665.9,810.6 664.5,800.8 663.3,791 662.3,781.2 661.4,771.4 660.7,761.6 660.3,751.7 660,741.9 659.9,732 660,722.1 660.3,712.3 660.7,702.4 661.4,692.6 662.3,682.8 663.3,673 664.5,663.2 665.9,653.4 667.5,643.7 669.3,634 671.2,624.3 673.4,614.7 675.7,605.1 678.2,595.6 680.9,586.1 683.8,576.7 686.9,567.3 690.1,558 693.5,548.7 697.1,539.5 700.9,530.4 704.8,521.4 708.9,512.4 713.2,503.5 717.6,494.7 722.2,486 727,477.4 732,468.9 737.1,460.4 742.3,452.1 747.8,443.9 753.3,435.7 759.1,427.7 765,419.8 771,412 777.2,404.3 783.5,396.8 790,389.3 796.6,382 803.4,374.8 810.2,367.8 817.3,360.8 824.4,354.1 831.7,347.4 839.1,340.9Z" fill="none" stroke="#000" stroke-width="2.3" stroke-linejoin="round"/>
<path d="M839.1,340.9L959.6,450.3" stroke="#000" stroke-width="2.6"/>
<path d="M839.1,1123.1L959.6,1016.3" stroke="#000" stroke-width="2.6"/>
<path d="M1703.1,340.9L1582.6,450.3" stroke="#000" stroke-width="2.6"/>
<path d="M1703.1,1123.1L1582.6,1016.3" stroke="#000" stroke-width="2.6"/>
<path d="M1704.5,342.5L1584,451.9" stroke="#fff" stroke-opacity="0.6" stroke-width="0.8"/>
</g>
<clipPath id="ct"><path d="M834.8,1739.8L849.7,1726.9L865,1714.5L880.6,1702.6L896.6,1691.2L912.9,1680.2L929.6,1669.7L946.6,1659.8L963.8,1650.3L981.4,1641.4L999.2,1633.1L1017.2,1625.2L1035.5,1618L1054,1611.2L1072.7,1605.1L1091.5,1599.5L1110.6,1594.5L1129.7,1590.1L1149,1586.2L1168.4,1582.9L1187.9,1580.3L1207.5,1578.2L1227.1,1576.7L1246.7,1575.8L1266.4,1575.5L1286.1,1575.8L1305.7,1576.7L1325.3,1578.2L1344.9,1580.3L1364.4,1582.9L1383.8,1586.2L1403.1,1590.1L1422.2,1594.5L1441.3,1599.5L1460.1,1605.1L1478.8,1611.2L1497.3,1618L1515.6,1625.2L1533.6,1633.1L1551.4,1641.4L1569,1650.3L1586.2,1659.8L1603.2,1669.7L1619.9,1680.2L1636.2,1691.2L1652.2,1702.6L1667.8,1714.5L1683.1,1726.9L1698,1739.8L1577.9,1847.7L954.9,1847.7Z"/></clipPath>
<g clip-path="url(#ct)">
<path d="M834.8,1739.8L849.7,1726.9L865,1714.5L880.6,1702.6L896.6,1691.2L912.9,1680.2L929.6,1669.7L946.6,1659.8L963.8,1650.3L981.4,1641.4L999.2,1633.1L1017.2,1625.2L1035.5,1618L1054,1611.2L1072.7,1605.1L1091.5,1599.5L1110.6,1594.5L1129.7,1590.1L1149,1586.2L1168.4,1582.9L1187.9,1580.3L1207.5,1578.2L1227.1,1576.7L1246.7,1575.8L1266.4,1575.5L1286.1,1575.8L1305.7,1576.7L1325.3,1578.2L1344.9,1580.3L1364.4,1582.9L1383.8,1586.2L1403.1,1590.1L1422.2,1594.5L1441.3,1599.5L1460.1,1605.1L1478.8,1611.2L1497.3,1618L1515.6,1625.2L1533.6,1633.1L1551.4,1641.4L1569,1650.3L1586.2,1659.8L1603.2,1669.7L1619.9,1680.2L1636.2,1691.2L1652.2,1702.6L1667.8,1714.5L1683.1,1726.9L1698,1739.8L1577.9,1847.7L954.9,1847.7Z" fill="#0aa0fa"/>
<path d="M869.7,1491L869.7,1699.6C869.7,1701.9 869.7,1710 869.7,1713.6C869.8,1717.2 869.8,1718.6 869.8,1721.1C869.8,1723.6 869.8,1726.1 869.8,1728.6C869.8,1731.1 869.8,1733.6 869.8,1736C869.8,1738.5 869.9,1741 869.9,1743.5C870,1746 870.1,1748.5 870.2,1751C870.4,1753.5 870.5,1756 870.8,1758.5C871,1760.9 871.3,1763.4 871.6,1765.9C872,1768.4 872.3,1769.8 872.8,1773.3C873.4,1776.8 874.7,1784.8 875.1,1787.1L875.1,1887.8L1657.7,1887.8L1657.7,1787.1C1658.1,1784.8 1659.4,1776.8 1660,1773.3C1660.5,1769.8 1660.8,1768.4 1661.2,1765.9C1661.5,1763.4 1661.8,1760.9 1662,1758.5C1662.3,1756 1662.4,1753.5 1662.6,1751C1662.7,1748.5 1662.8,1746 1662.9,1743.5C1662.9,1741 1663,1738.5 1663,1736C1663,1733.6 1663,1731.1 1663,1728.6C1663,1726.1 1663,1723.6 1663,1721.1C1663,1718.6 1663,1717.2 1663.1,1713.6C1663.1,1710 1663.1,1701.9 1663.1,1699.6L1663.1,1491Z" fill="#00ffe6"/>
<path d="M902.7,1491L902.7,1676.8C901.9,1679 899.6,1685.4 898,1690C896.3,1694.7 894.2,1699.7 892.8,1704.7C891.3,1709.6 890.2,1714.7 889.5,1719.7C888.7,1724.8 888.3,1729.9 888.3,1734.9C888.3,1739.9 888.7,1745 889.5,1750C890.2,1754.9 891.5,1759.8 893,1764.6C894.5,1769.5 896.6,1774.2 898.6,1778.9C900.6,1783.6 903,1788.2 905,1792.8C907,1797.5 908.9,1802.3 910.8,1806.8C912.6,1811.3 915.2,1817.6 916.1,1819.7L916.1,1887.8L1616.7,1887.8L1616.7,1819.7C1617.6,1817.6 1620.2,1811.3 1622,1806.8C1623.9,1802.3 1625.8,1797.5 1627.8,1792.8C1629.8,1788.2 1632.2,1783.6 1634.2,1778.9C1636.2,1774.2 1638.3,1769.5 1639.8,1764.6C1641.3,1759.8 1642.6,1754.9 1643.3,1750C1644.1,1745 1644.5,1739.9 1644.5,1734.9C1644.5,1729.9 1644.1,1724.8 1643.3,1719.7C1642.6,1714.7 1641.5,1709.6 1640,1704.7C1638.6,1699.7 1636.5,1694.7 1634.8,1690C1633.2,1685.4 1630.9,1679 1630.1,1676.8L1630.1,1491Z" fill="#00ff6e"/>
<path d="M931.2,1491L931.2,1657.6C930.6,1659.9 928.7,1666.5 927.4,1671.1C926,1675.7 924.9,1680.4 923.4,1685.1C921.8,1689.7 919.8,1694.4 918,1699.1C916.2,1703.8 914.2,1708.4 912.6,1713.2C911,1717.9 909.4,1722.6 908.3,1727.4C907.2,1732.1 906.4,1736.9 906,1741.7C905.6,1746.5 905.6,1751.3 906.1,1756.1C906.5,1760.9 907.5,1765.7 908.7,1770.4C910,1775.1 911.7,1779.8 913.5,1784.5C915.3,1789.2 917.4,1793.8 919.5,1798.4C921.6,1803 923.8,1807.5 925.9,1812C928,1816.4 929.9,1820.9 931.9,1825.2C933.8,1829.5 936.7,1835.8 937.6,1838L937.6,1887.8L1595.2,1887.8L1595.2,1838C1596.1,1835.8 1599,1829.5 1600.9,1825.2C1602.9,1820.9 1604.8,1816.4 1606.9,1812C1609,1807.5 1611.2,1803 1613.3,1798.4C1615.4,1793.8 1617.5,1789.2 1619.3,1784.5C1621.1,1779.8 1622.8,1775.1 1624.1,1770.4C1625.3,1765.7 1626.3,1760.9 1626.7,1756.1C1627.2,1751.3 1627.2,1746.5 1626.8,1741.7C1626.4,1736.9 1625.6,1732.1 1624.5,1727.4C1623.4,1722.6 1621.8,1717.9 1620.2,1713.2C1618.6,1708.4 1616.6,1703.8 1614.8,1699.1C1613,1694.4 1611,1689.7 1609.4,1685.1C1607.9,1680.4 1606.8,1675.7 1605.4,1671.1C1604.1,1666.5 1602.2,1659.9 1601.6,1657.6L1601.6,1491Z" fill="#00ff00"/>
<path d="M1071.1,1491L1071.1,1599.2C1069.6,1601 1064.8,1606.2 1061.7,1609.6C1058.6,1613.1 1055.7,1616.5 1052.4,1619.9C1049.2,1623.2 1045.9,1626.5 1042.5,1629.8C1039,1633 1035.5,1636.2 1032,1639.4C1028.4,1642.6 1024.8,1645.8 1021.2,1649C1017.6,1652.2 1013.9,1655.3 1010.3,1658.5C1006.7,1661.7 1003,1664.9 999.5,1668.2C995.9,1671.4 992.4,1674.7 988.9,1678C985.5,1681.4 982.1,1684.8 978.9,1688.2C975.7,1691.7 972.5,1695.3 969.5,1698.9C966.6,1702.6 963.7,1706.3 961.1,1710.1C958.4,1714 955.9,1718 953.6,1722.1C951.4,1726.2 949.3,1730.4 947.5,1734.7C945.6,1739 944,1743.5 942.5,1748C941.1,1752.5 939.9,1757.1 938.9,1761.8C937.9,1766.4 937.1,1771.1 936.5,1775.9C936,1780.6 935.6,1785.4 935.5,1790.2C935.4,1795 935.5,1799.8 935.7,1804.6C935.9,1809.3 936.4,1814.1 936.8,1818.9C937.2,1823.6 937.8,1828.3 938.2,1833C938.7,1837.7 939.4,1844.6 939.7,1846.9L939.7,1887.8L1593.1,1887.8L1593.1,1846.9C1593.4,1844.6 1594.1,1837.7 1594.6,1833C1595,1828.3 1595.6,1823.6 1596,1818.9C1596.4,1814.1 1596.9,1809.3 1597.1,1804.6C1597.3,1799.8 1597.4,1795 1597.3,1790.2C1597.2,1785.4 1596.8,1780.6 1596.3,1775.9C1595.7,1771.1 1594.9,1766.4 1593.9,1761.8C1592.9,1757.1 1591.7,1752.5 1590.3,1748C1588.8,1743.5 1587.2,1739 1585.3,1734.7C1583.5,1730.4 1581.4,1726.2 1579.2,1722.1C1576.9,1718 1574.4,1714 1571.7,1710.1C1569.1,1706.3 1566.2,1702.6 1563.3,1698.9C1560.3,1695.3 1557.1,1691.7 1553.9,1688.2C1550.7,1684.8 1547.3,1681.4 1543.9,1678C1540.4,1674.7 1536.9,1671.4 1533.3,1668.2C1529.8,1664.9 1526.1,1661.7 1522.5,1658.5C1518.9,1655.3 1515.2,1652.2 1511.6,1649C1508,1645.8 1504.4,1642.6 1500.8,1639.4C1497.3,1636.2 1493.8,1633 1490.3,1629.8C1486.9,1626.5 1483.6,1623.2 1480.4,1619.9C1477.1,1616.5 1474.2,1613.1 1471.1,1609.6C1468,1606.2 1463.2,1601 1461.7,1599.2L1461.7,1491Z" fill="#6eff00"/>
<path d="M944.6,1887.8L944.6,1850C944.8,1847.6 945.5,1840.7 945.9,1836C946.3,1831.4 946.8,1826.9 947.2,1822.2C947.6,1817.6 947.8,1812.8 948.1,1808.1C948.5,1803.5 948.8,1798.7 949.5,1794.1C950.1,1789.4 950.8,1784.8 951.9,1780.2C952.9,1775.6 954.1,1771.1 955.6,1766.7C957.1,1762.3 958.8,1758 960.8,1753.8C962.7,1749.7 964.9,1745.6 967.3,1741.6C969.7,1737.7 972.3,1734 975.1,1730.3C977.9,1726.6 981,1723.1 984.1,1719.6C987.2,1716.1 990.5,1712.7 993.8,1709.4C997.1,1706 1000.6,1702.7 1004,1699.4C1007.4,1696.1 1010.9,1692.8 1014.4,1689.5C1017.9,1686.3 1021.4,1683.1 1025,1680C1028.6,1676.9 1032.2,1673.9 1035.9,1671C1039.7,1668.1 1043.4,1665.3 1047.3,1662.6C1051.1,1659.9 1055,1657.3 1058.9,1654.8C1062.8,1652.4 1066.8,1650 1070.8,1647.7C1074.9,1645.4 1078.9,1643.3 1083.1,1641.2C1087.2,1639.1 1091.4,1637.1 1095.6,1635.2C1099.8,1633.3 1104,1631.5 1108.3,1629.8C1112.6,1628.1 1117,1626.5 1121.3,1624.9C1125.7,1623.4 1130.1,1621.9 1134.5,1620.6C1139,1619.2 1143.4,1618 1147.9,1616.8C1152.4,1615.6 1156.9,1614.5 1161.5,1613.4C1166,1612.4 1170.6,1611.4 1175.2,1610.6C1179.8,1609.7 1184.4,1608.9 1189,1608.2C1193.6,1607.4 1198.3,1606.8 1202.9,1606.2C1207.6,1605.6 1212.3,1605.1 1217,1604.7C1221.7,1604.3 1226.4,1603.9 1231.1,1603.6C1235.8,1603.3 1240.5,1603 1245.2,1602.9C1249.9,1602.7 1254.6,1602.6 1259.4,1602.5C1264.1,1602.5 1268.8,1602.5 1273.5,1602.5C1278.2,1602.6 1283,1602.7 1287.7,1602.9C1292.4,1603.1 1297.1,1603.3 1301.8,1603.7C1306.5,1604 1311.2,1604.4 1315.9,1604.8C1320.6,1605.2 1325.2,1605.8 1329.9,1606.4C1334.5,1606.9 1339.2,1607.6 1343.8,1608.3C1348.4,1609.1 1353,1609.9 1357.6,1610.7C1362.2,1611.6 1366.7,1612.6 1371.3,1613.6C1375.8,1614.6 1380.3,1615.7 1384.8,1616.9C1389.3,1618.1 1393.8,1619.4 1398.2,1620.8C1402.6,1622.1 1407,1623.6 1411.4,1625.1C1415.7,1626.6 1420.1,1628.2 1424.4,1629.9C1428.6,1631.6 1432.9,1633.4 1437.1,1635.3C1441.3,1637.2 1445.5,1639.1 1449.6,1641.2C1453.8,1643.3 1457.9,1645.4 1461.9,1647.7C1466,1649.9 1470,1652.3 1473.9,1654.7C1477.9,1657.2 1481.8,1659.7 1485.6,1662.4C1489.5,1665 1493.3,1667.8 1497,1670.6C1500.8,1673.5 1504.4,1676.5 1508.1,1679.5C1511.7,1682.6 1515.3,1685.8 1518.8,1689C1522.3,1692.2 1525.7,1695.6 1529.1,1698.9C1532.4,1702.3 1535.8,1705.8 1539,1709.3C1542.2,1712.8 1545.4,1716.4 1548.4,1719.9C1551.5,1723.5 1554.5,1727.1 1557.3,1730.8C1560.1,1734.5 1562.9,1738.2 1565.4,1742.1C1567.9,1745.9 1570.2,1749.8 1572.2,1753.9C1574.3,1758 1576,1762.2 1577.5,1766.5C1579,1770.9 1580.1,1775.4 1581,1779.9C1582,1784.5 1582.6,1789.2 1583.2,1793.9C1583.8,1798.7 1584.2,1803.5 1584.6,1808.2C1585,1812.9 1585.2,1817.7 1585.6,1822.3C1586,1827 1586.5,1831.4 1586.9,1836C1587.3,1840.6 1588,1847.6 1588.2,1850L1588.2,1887.8Z" fill="#f0ff00"/>
<path d="M943.2,1887.8L943.2,1849.4C944.1,1847.3 947,1840.9 948.9,1836.6C950.8,1832.4 952.7,1828.2 954.5,1823.9C956.3,1819.7 958.1,1815.3 959.8,1810.9C961.6,1806.6 963.3,1802.1 965.1,1797.8C967,1793.4 968.8,1789 970.7,1784.7C972.7,1780.4 974.6,1776.2 976.8,1772C979,1767.9 981.3,1763.8 983.7,1759.9C986.2,1756 988.8,1752.2 991.6,1748.5C994.4,1744.8 997.3,1741.2 1000.4,1737.8C1003.5,1734.3 1006.7,1731 1010,1727.8C1013.4,1724.6 1016.9,1721.5 1020.4,1718.5C1024,1715.5 1027.7,1712.6 1031.5,1709.8C1035.2,1707 1039.1,1704.3 1043,1701.6C1046.8,1698.9 1050.8,1696.3 1054.8,1693.8C1058.7,1691.2 1062.7,1688.6 1066.7,1686.1C1070.7,1683.6 1074.7,1681.1 1078.7,1678.6C1082.7,1676.2 1086.7,1673.8 1090.8,1671.5C1094.9,1669.2 1099,1667 1103.2,1664.9C1107.3,1662.7 1111.5,1660.7 1115.8,1658.8C1120,1656.9 1124.3,1655.1 1128.7,1653.4C1133,1651.7 1137.4,1650.1 1141.8,1648.7C1146.2,1647.2 1150.7,1645.9 1155.2,1644.6C1159.7,1643.4 1164.2,1642.2 1168.7,1641.2C1173.3,1640.1 1177.8,1639.2 1182.4,1638.3C1187,1637.5 1191.6,1636.7 1196.2,1636.1C1200.8,1635.4 1205.5,1634.8 1210.1,1634.3C1214.7,1633.8 1219.4,1633.4 1224.1,1633.1C1228.8,1632.7 1233.4,1632.4 1238.1,1632.2C1242.8,1632 1247.5,1631.8 1252.2,1631.7C1256.9,1631.6 1261.6,1631.6 1266.3,1631.6C1271.1,1631.6 1275.8,1631.6 1280.5,1631.8C1285.2,1631.9 1289.9,1632 1294.6,1632.2C1299.3,1632.5 1304,1632.8 1308.7,1633.1C1313.4,1633.5 1318.1,1633.9 1322.7,1634.4C1327.4,1634.9 1332.1,1635.5 1336.7,1636.1C1341.3,1636.8 1345.9,1637.6 1350.5,1638.4C1355.1,1639.2 1359.6,1640.2 1364.2,1641.2C1368.7,1642.2 1373.2,1643.4 1377.7,1644.6C1382.2,1645.8 1386.6,1647.2 1391,1648.6C1395.4,1650.1 1399.8,1651.7 1404.1,1653.4C1408.4,1655.1 1412.7,1656.9 1416.9,1658.8C1421.2,1660.7 1425.4,1662.7 1429.6,1664.8C1433.7,1666.9 1437.9,1669.2 1442,1671.4C1446.1,1673.7 1450.1,1676.1 1454.2,1678.5C1458.2,1680.9 1462.2,1683.4 1466.2,1686C1470.2,1688.5 1474.1,1691.1 1478.1,1693.8C1482,1696.4 1485.9,1699.1 1489.8,1701.8C1493.6,1704.5 1497.5,1707.2 1501.3,1710C1505,1712.8 1508.8,1715.6 1512.4,1718.6C1516,1721.6 1519.5,1724.6 1522.9,1727.8C1526.2,1730.9 1529.5,1734.2 1532.5,1737.7C1535.6,1741.1 1538.5,1744.7 1541.2,1748.4C1544,1752.1 1546.5,1756 1548.9,1759.9C1551.4,1763.9 1553.6,1768 1555.8,1772.1C1558,1776.2 1560.1,1780.5 1562,1784.8C1564,1789 1565.9,1793.4 1567.7,1797.8C1569.5,1802.1 1571.3,1806.5 1573,1810.9C1574.8,1815.3 1576.5,1819.6 1578.3,1823.9C1580.1,1828.2 1582,1832.4 1583.9,1836.7C1585.7,1840.9 1588.6,1847.3 1589.5,1849.5L1589.5,1887.8Z" fill="#ffaa00"/>
<path d="M969.2,1849.6C969.7,1847.3 970.2,1839.7 971.7,1836C973.3,1832.2 975.9,1829.2 978.7,1826.9C981.5,1824.7 985.1,1823.2 988.7,1822.4C992.3,1821.6 996.3,1821.6 1000.2,1822.1C1004.2,1822.6 1008.4,1823.9 1012.2,1825.5C1016.1,1827.1 1020.1,1829.3 1023.6,1831.7C1027.1,1834.1 1030.5,1836.9 1033.3,1839.8C1036.1,1842.8 1039.1,1847.6 1040.2,1849.1Z" fill="#f0ff00"/>
<path d="M1563.6,1849.6C1563.1,1847.3 1562.6,1839.7 1561.1,1836C1559.5,1832.2 1556.9,1829.2 1554.1,1826.9C1551.3,1824.7 1547.7,1823.2 1544.1,1822.4C1540.5,1821.6 1536.5,1821.6 1532.6,1822.1C1528.6,1822.6 1524.4,1823.9 1520.6,1825.5C1516.7,1827.1 1512.7,1829.3 1509.2,1831.7C1505.7,1834.1 1502.3,1836.9 1499.5,1839.8C1496.7,1842.8 1493.7,1847.6 1492.6,1849.1Z" fill="#f0ff00"/>
<path d="M1103.8,1887.8L1103.8,1862.1C1102.1,1860.4 1097.3,1855.4 1094,1852C1090.7,1848.7 1087.3,1845.2 1084,1841.8C1080.7,1838.4 1077.6,1834.8 1074.3,1831.5C1070.9,1828.2 1067.4,1825.1 1063.8,1822C1060.2,1818.9 1056.5,1815.9 1052.8,1812.9C1049.1,1809.8 1045.1,1806.9 1041.5,1803.7C1037.9,1800.4 1033.6,1797.3 1031.1,1793.5C1028.7,1789.7 1027.1,1785.3 1026.7,1781C1026.3,1776.6 1027.3,1771.9 1028.8,1767.6C1030.2,1763.3 1032.6,1759.2 1035.2,1755.3C1037.9,1751.3 1041.2,1747.6 1044.5,1743.9C1047.8,1740.3 1051.4,1736.8 1054.9,1733.5C1058.5,1730.2 1062.1,1727 1065.8,1724C1069.5,1720.9 1073.3,1718 1077.2,1715.3C1081,1712.5 1085,1709.9 1089,1707.4C1093,1705 1097.1,1702.6 1101.2,1700.4C1105.3,1698.3 1109.6,1696.2 1113.8,1694.3C1118.1,1692.4 1122.4,1690.6 1126.8,1689C1131.2,1687.4 1135.7,1685.9 1140.2,1684.5C1144.7,1683.2 1149.3,1681.9 1153.9,1680.7C1158.5,1679.6 1163.2,1678.5 1167.8,1677.5C1172.5,1676.5 1177.2,1675.5 1181.9,1674.6C1186.6,1673.6 1191.3,1672.7 1196,1671.8C1200.7,1670.9 1205.4,1669.9 1210.1,1669C1214.8,1668.1 1219.5,1667.2 1224.2,1666.4C1228.9,1665.6 1233.6,1664.8 1238.3,1664.2C1243,1663.6 1247.7,1663 1252.4,1662.6C1257,1662.3 1261.7,1662.1 1266.4,1662.1C1271.1,1662.1 1275.8,1662.3 1280.4,1662.6C1285.1,1663 1289.8,1663.6 1294.5,1664.2C1299.2,1664.8 1303.9,1665.6 1308.6,1666.4C1313.3,1667.2 1318,1668.1 1322.7,1669C1327.4,1669.9 1332.1,1670.9 1336.8,1671.8C1341.5,1672.7 1346.2,1673.6 1350.9,1674.6C1355.6,1675.5 1360.3,1676.5 1365,1677.5C1369.6,1678.5 1374.3,1679.6 1378.9,1680.7C1383.5,1681.9 1388.1,1683.2 1392.6,1684.5C1397.1,1685.9 1401.6,1687.4 1406,1689C1410.4,1690.6 1414.7,1692.4 1419,1694.3C1423.2,1696.2 1427.5,1698.3 1431.6,1700.4C1435.7,1702.6 1439.8,1705 1443.8,1707.4C1447.8,1709.9 1451.8,1712.5 1455.6,1715.3C1459.5,1718 1463.3,1720.9 1467,1724C1470.7,1727 1474.3,1730.2 1477.9,1733.5C1481.4,1736.8 1485,1740.3 1488.3,1743.9C1491.6,1747.6 1494.9,1751.3 1497.6,1755.3C1500.2,1759.2 1502.6,1763.3 1504,1767.6C1505.5,1771.9 1506.5,1776.6 1506.1,1781C1505.7,1785.3 1504.1,1789.7 1501.7,1793.5C1499.2,1797.3 1494.9,1800.4 1491.3,1803.7C1487.7,1806.9 1483.7,1809.8 1480,1812.9C1476.3,1815.9 1472.6,1818.9 1469,1822C1465.4,1825.1 1461.9,1828.2 1458.5,1831.5C1455.2,1834.8 1452.1,1838.4 1448.8,1841.8C1445.5,1845.2 1442.1,1848.7 1438.8,1852C1435.5,1855.4 1430.7,1860.4 1429,1862.1L1429,1887.8Z" fill="#ff2a00"/>
<path d="M1169.4,1887.8L1169.4,1857.8C1167.5,1856.5 1161.7,1852.5 1157.9,1849.8C1154.1,1847.2 1150.4,1844.6 1146.6,1842C1142.8,1839.3 1138.9,1836.6 1135.1,1833.7C1131.3,1830.9 1127.5,1827.9 1124,1824.7C1120.4,1821.4 1116.8,1817.9 1113.7,1814.2C1110.5,1810.5 1107.5,1806.4 1105.1,1802.3C1102.7,1798.2 1100.5,1793.9 1099.2,1789.5C1097.9,1785.2 1097.1,1780.7 1097.3,1776.3C1097.4,1771.8 1098.4,1767.3 1100.1,1763C1101.7,1758.7 1104.2,1754.4 1107.1,1750.5C1109.9,1746.7 1113.4,1743.1 1117,1740C1120.6,1737 1124.6,1734.5 1128.7,1732.2C1132.8,1730 1137.2,1728.2 1141.6,1726.6C1146,1724.9 1150.6,1723.6 1155.2,1722.2C1159.8,1720.9 1164.5,1719.7 1169.1,1718.3C1173.7,1717 1178.3,1715.7 1182.9,1714.4C1187.6,1713.1 1192.2,1711.7 1196.8,1710.5C1201.4,1709.2 1206,1708 1210.6,1706.9C1215.2,1705.8 1219.8,1704.7 1224.4,1703.8C1229,1702.8 1233.6,1702 1238.3,1701.3C1242.9,1700.7 1247.6,1700.1 1252.2,1699.8C1256.9,1699.4 1261.5,1699.2 1266.2,1699.3C1270.9,1699.3 1275.6,1699.6 1280.3,1700C1285.1,1700.4 1289.8,1701 1294.5,1701.7C1299.2,1702.5 1303.9,1703.3 1308.6,1704.3C1313.3,1705.2 1318,1706.3 1322.6,1707.4C1327.2,1708.5 1331.8,1709.6 1336.4,1710.8C1341,1711.9 1345.5,1713.1 1350,1714.3C1354.5,1715.5 1359.1,1716.7 1363.6,1717.9C1368.1,1719.1 1372.7,1720.1 1377.3,1721.4C1381.8,1722.7 1386.4,1724 1390.8,1725.7C1395.3,1727.4 1399.7,1729.3 1403.9,1731.8C1408.1,1734.3 1412.2,1737.2 1415.9,1740.5C1419.6,1743.7 1423.1,1747.4 1425.9,1751.2C1428.7,1755 1431.2,1759.2 1432.8,1763.4C1434.4,1767.6 1435.3,1771.9 1435.5,1776.3C1435.6,1780.6 1434.8,1785 1433.5,1789.2C1432.3,1793.5 1430.2,1797.8 1427.8,1801.9C1425.4,1806 1422.4,1810 1419.2,1813.9C1416.1,1817.7 1412.5,1821.3 1408.8,1824.7C1405.2,1828.1 1401.4,1831.2 1397.6,1834.1C1393.8,1837 1389.9,1839.6 1386.2,1842.2C1382.4,1844.7 1378.8,1847.1 1375,1849.6C1371.2,1852.1 1365.3,1856 1363.3,1857.3L1363.3,1887.8Z" fill="#ff0000"/>
<path d="M1584.7,1847.7L1583.4,1851.7L1580,1854.2L1575.8,1854.2L1572.4,1851.7L1571.1,1847.7L1572.4,1843.7L1575.8,1841.2L1580,1841.2L1583.4,1843.7Z" fill="#ff2a00"/>
<path d="M1582.5,1847.7L1581.6,1850.4L1579.3,1852.1L1576.5,1852.1L1574.2,1850.4L1573.3,1847.7L1574.2,1845L1576.5,1843.3L1579.3,1843.3L1581.6,1845Z" fill="#ff0000"/>
</g>
<clipPath id="cb"><path d="M834.8,2522.2L849.7,2535.1L865,2547.5L880.6,2559.4L896.6,2570.8L912.9,2581.8L929.6,2592.3L946.6,2602.2L963.8,2611.7L981.4,2620.6L999.2,2628.9L1017.2,2636.8L1035.5,2644L1054,2650.8L1072.7,2656.9L1091.5,2662.5L1110.6,2667.5L1129.7,2671.9L1149,2675.8L1168.4,2679.1L1187.9,2681.7L1207.5,2683.8L1227.1,2685.3L1246.7,2686.2L1266.4,2686.5L1286.1,2686.2L1305.7,2685.3L1325.3,2683.8L1344.9,2681.7L1364.4,2679.1L1383.8,2675.8L1403.1,2671.9L1422.2,2667.5L1441.3,2662.5L1460.1,2656.9L1478.8,2650.8L1497.3,2644L1515.6,2636.8L1533.6,2628.9L1551.4,2620.6L1569,2611.7L1586.2,2602.2L1603.2,2592.3L1619.9,2581.8L1636.2,2570.8L1652.2,2559.4L1667.8,2547.5L1683.1,2535.1L1698,2522.2L1577.9,2414.3L954.9,2414.3Z"/></clipPath>
<g clip-path="url(#cb)">
<path d="M834.8,2522.2L849.7,2535.1L865,2547.5L880.6,2559.4L896.6,2570.8L912.9,2581.8L929.6,2592.3L946.6,2602.2L963.8,2611.7L981.4,2620.6L999.2,2628.9L1017.2,2636.8L1035.5,2644L1054,2650.8L1072.7,2656.9L1091.5,2662.5L1110.6,2667.5L1129.7,2671.9L1149,2675.8L1168.4,2679.1L1187.9,2681.7L1207.5,2683.8L1227.1,2685.3L1246.7,2686.2L1266.4,2686.5L1286.1,2686.2L1305.7,2685.3L1325.3,2683.8L1344.9,2681.7L1364.4,2679.1L1383.8,2675.8L1403.1,2671.9L1422.2,2667.5L1441.3,2662.5L1460.1,2656.9L1478.8,2650.8L1497.3,2644L1515.6,2636.8L1533.6,2628.9L1551.4,2620.6L1569,2611.7L1586.2,2602.2L1603.2,2592.3L1619.9,2581.8L1636.2,2570.8L1652.2,2559.4L1667.8,2547.5L1683.1,2535.1L1698,2522.2L1577.9,2414.3L954.9,2414.3Z" fill="#0aa0fa"/>
<path d="M869.7,2771L869.7,2562.4C869.7,2560.1 869.7,2552 869.7,2548.4C869.8,2544.8 869.8,2543.4 869.8,2540.9C869.8,2538.4 869.8,2535.9 869.8,2533.4C869.8,2530.9 869.8,2528.4 869.8,2526C869.8,2523.5 869.9,2521 869.9,2518.5C870,2516 870.1,2513.5 870.2,2511C870.4,2508.5 870.5,2506 870.8,2503.5C871,2501.1 871.3,2498.6 871.6,2496.1C872,2493.6 872.3,2492.2 872.8,2488.7C873.4,2485.2 874.7,2477.2 875.1,2474.9L875.1,2374.2L1657.7,2374.2L1657.7,2474.9C1658.1,2477.2 1659.4,2485.2 1660,2488.7C1660.5,2492.2 1660.8,2493.6 1661.2,2496.1C1661.5,2498.6 1661.8,2501.1 1662,2503.5C1662.3,2506 1662.4,2508.5 1662.6,2511C1662.7,2513.5 1662.8,2516 1662.9,2518.5C1662.9,2521 1663,2523.5 1663,2526C1663,2528.4 1663,2530.9 1663,2533.4C1663,2535.9 1663,2538.4 1663,2540.9C1663,2543.4 1663,2544.8 1663.1,2548.4C1663.1,2552 1663.1,2560.1 1663.1,2562.4L1663.1,2771Z" fill="#00ffe6"/>
<path d="M902.7,2771L902.7,2585.2C901.9,2583 899.6,2576.6 898,2572C896.3,2567.3 894.2,2562.3 892.8,2557.3C891.3,2552.4 890.2,2547.3 889.5,2542.3C888.7,2537.2 888.3,2532.1 888.3,2527.1C888.3,2522.1 888.7,2517 889.5,2512C890.2,2507.1 891.5,2502.2 893,2497.4C894.5,2492.5 896.6,2487.8 898.6,2483.1C900.6,2478.4 903,2473.8 905,2469.2C907,2464.5 908.9,2459.7 910.8,2455.2C912.6,2450.7 915.2,2444.4 916.1,2442.3L916.1,2374.2L1616.7,2374.2L1616.7,2442.3C1617.6,2444.4 1620.2,2450.7 1622,2455.2C1623.9,2459.7 1625.8,2464.5 1627.8,2469.2C1629.8,2473.8 1632.2,2478.4 1634.2,2483.1C1636.2,2487.8 1638.3,2492.5 1639.8,2497.4C1641.3,2502.2 1642.6,2507.1 1643.3,2512C1644.1,2517 1644.5,2522.1 1644.5,2527.1C1644.5,2532.1 1644.1,2537.2 1643.3,2542.3C1642.6,2547.3 1641.5,2552.4 1640,2557.3C1638.6,2562.3 1636.5,2567.3 1634.8,2572C1633.2,2576.6 1630.9,2583 1630.1,2585.2L1630.1,2771Z" fill="#00ff6e"/>
<path d="M931.2,2771L931.2,2604.4C930.6,2602.1 928.7,2595.5 927.4,2590.9C926,2586.3 924.9,2581.6 923.4,2576.9C921.8,2572.3 919.8,2567.6 918,2562.9C916.2,2558.2 914.2,2553.6 912.6,2548.8C911,2544.1 909.4,2539.4 908.3,2534.6C907.2,2529.9 906.4,2525.1 906,2520.3C905.6,2515.5 905.6,2510.7 906.1,2505.9C906.5,2501.1 907.5,2496.3 908.7,2491.6C910,2486.9 911.7,2482.2 913.5,2477.5C915.3,2472.8 917.4,2468.2 919.5,2463.6C921.6,2459 923.8,2454.5 925.9,2450C928,2445.6 929.9,2441.1 931.9,2436.8C933.8,2432.5 936.7,2426.2 937.6,2424L937.6,2374.2L1595.2,2374.2L1595.2,2424C1596.1,2426.2 1599,2432.5 1600.9,2436.8C1602.9,2441.1 1604.8,2445.6 1606.9,2450C1609,2454.5 1611.2,2459 1613.3,2463.6C1615.4,2468.2 1617.5,2472.8 1619.3,2477.5C1621.1,2482.2 1622.8,2486.9 1624.1,2491.6C1625.3,2496.3 1626.3,2501.1 1626.7,2505.9C1627.2,2510.7 1627.2,2515.5 1626.8,2520.3C1626.4,2525.1 1625.6,2529.9 1624.5,2534.6C1623.4,2539.4 1621.8,2544.1 1620.2,2548.8C1618.6,2553.6 1616.6,2558.2 1614.8,2562.9C1613,2567.6 1611,2572.3 1609.4,2576.9C1607.9,2581.6 1606.8,2586.3 1605.4,2590.9C1604.1,2595.5 1602.2,2602.1 1601.6,2604.4L1601.6,2771Z" fill="#00ff00"/>
<path d="M1071.1,2771L1071.1,2662.8C1069.6,2661 1064.8,2655.8 1061.7,2652.4C1058.6,2648.9 1055.7,2645.5 1052.4,2642.1C1049.2,2638.8 1045.9,2635.5 1042.5,2632.2C1039,2629 1035.5,2625.8 1032,2622.6C1028.4,2619.4 1024.8,2616.2 1021.2,2613C1017.6,2609.8 1013.9,2606.7 1010.3,2603.5C1006.7,2600.3 1003,2597.1 999.5,2593.8C995.9,2590.6 992.4,2587.3 988.9,2584C985.5,2580.6 982.1,2577.2 978.9,2573.8C975.7,2570.3 972.5,2566.7 969.5,2563.1C966.6,2559.4 963.7,2555.7 961.1,2551.9C958.4,2548 955.9,2544 953.6,2539.9C951.4,2535.8 949.3,2531.6 947.5,2527.3C945.6,2523 944,2518.5 942.5,2514C941.1,2509.5 939.9,2504.9 938.9,2500.2C937.9,2495.6 937.1,2490.9 936.5,2486.1C936,2481.4 935.6,2476.6 935.5,2471.8C935.4,2467 935.5,2462.2 935.7,2457.4C935.9,2452.7 936.4,2447.9 936.8,2443.1C937.2,2438.4 937.8,2433.7 938.2,2429C938.7,2424.3 939.4,2417.4 939.7,2415.1L939.7,2374.2L1593.1,2374.2L1593.1,2415.1C1593.4,2417.4 1594.1,2424.3 1594.6,2429C1595,2433.7 1595.6,2438.4 1596,2443.1C1596.4,2447.9 1596.9,2452.7 1597.1,2457.4C1597.3,2462.2 1597.4,2467 1597.3,2471.8C1597.2,2476.6 1596.8,2481.4 1596.3,2486.1C1595.7,2490.9 1594.9,2495.6 1593.9,2500.2C1592.9,2504.9 1591.7,2509.5 1590.3,2514C1588.8,2518.5 1587.2,2523 1585.3,2527.3C1583.5,2531.6 1581.4,2535.8 1579.2,2539.9C1576.9,2544 1574.4,2548 1571.7,2551.9C1569.1,2555.7 1566.2,2559.4 1563.3,2563.1C1560.3,2566.7 1557.1,2570.3 1553.9,2573.8C1550.7,2577.2 1547.3,2580.6 1543.9,2584C1540.4,2587.3 1536.9,2590.6 1533.3,2593.8C1529.8,2597.1 1526.1,2600.3 1522.5,2603.5C1518.9,2606.7 1515.2,2609.8 1511.6,2613C1508,2616.2 1504.4,2619.4 1500.8,2622.6C1497.3,2625.8 1493.8,2629 1490.3,2632.2C1486.9,2635.5 1483.6,2638.8 1480.4,2642.1C1477.1,2645.5 1474.2,2648.9 1471.1,2652.4C1468,2655.8 1463.2,2661 1461.7,2662.8L1461.7,2771Z" fill="#6eff00"/>
<path d="M944.6,2374.2L944.6,2412C944.8,2414.4 945.5,2421.3 945.9,2426C946.3,2430.6 946.8,2435.1 947.2,2439.8C947.6,2444.4 947.8,2449.2 948.1,2453.9C948.5,2458.5 948.8,2463.3 949.5,2467.9C950.1,2472.6 950.8,2477.2 951.9,2481.8C952.9,2486.4 954.1,2490.9 955.6,2495.3C957.1,2499.7 958.8,2504 960.8,2508.2C962.7,2512.3 964.9,2516.4 967.3,2520.4C969.7,2524.3 972.3,2528 975.1,2531.7C977.9,2535.4 981,2538.9 984.1,2542.4C987.2,2545.9 990.5,2549.3 993.8,2552.6C997.1,2556 1000.6,2559.3 1004,2562.6C1007.4,2565.9 1010.9,2569.2 1014.4,2572.5C1017.9,2575.7 1021.4,2578.9 1025,2582C1028.6,2585.1 1032.2,2588.1 1035.9,2591C1039.7,2593.9 1043.4,2596.7 1047.3,2599.4C1051.1,2602.1 1055,2604.7 1058.9,2607.2C1062.8,2609.6 1066.8,2612 1070.8,2614.3C1074.9,2616.6 1078.9,2618.7 1083.1,2620.8C1087.2,2622.9 1091.4,2624.9 1095.6,2626.8C1099.8,2628.7 1104,2630.5 1108.3,2632.2C1112.6,2633.9 1117,2635.5 1121.3,2637.1C1125.7,2638.6 1130.1,2640.1 1134.5,2641.4C1139,2642.8 1143.4,2644 1147.9,2645.2C1152.4,2646.4 1156.9,2647.5 1161.5,2648.6C1166,2649.6 1170.6,2650.6 1175.2,2651.4C1179.8,2652.3 1184.4,2653.1 1189,2653.8C1193.6,2654.6 1198.3,2655.2 1202.9,2655.8C1207.6,2656.4 1212.3,2656.9 1217,2657.3C1221.7,2657.7 1226.4,2658.1 1231.1,2658.4C1235.8,2658.7 1240.5,2659 1245.2,2659.1C1249.9,2659.3 1254.6,2659.4 1259.4,2659.5C1264.1,2659.5 1268.8,2659.5 1273.5,2659.5C1278.2,2659.4 1283,2659.3 1287.7,2659.1C1292.4,2658.9 1297.1,2658.7 1301.8,2658.3C1306.5,2658 1311.2,2657.6 1315.9,2657.2C1320.6,2656.8 1325.2,2656.2 1329.9,2655.6C1334.5,2655.1 1339.2,2654.4 1343.8,2653.7C1348.4,2652.9 1353,2652.1 1357.6,2651.3C1362.2,2650.4 1366.7,2649.4 1371.3,2648.4C1375.8,2647.4 1380.3,2646.3 1384.8,2645.1C1389.3,2643.9 1393.8,2642.6 1398.2,2641.2C1402.6,2639.9 1407,2638.4 1411.4,2636.9C1415.7,2635.4 1420.1,2633.8 1424.4,2632.1C1428.6,2630.4 1432.9,2628.6 1437.1,2626.7C1441.3,2624.8 1445.5,2622.9 1449.6,2620.8C1453.8,2618.7 1457.9,2616.6 1461.9,2614.3C1466,2612.1 1470,2609.7 1473.9,2607.3C1477.9,2604.8 1481.8,2602.3 1485.6,2599.6C1489.5,2597 1493.3,2594.2 1497,2591.4C1500.8,2588.5 1504.4,2585.5 1508.1,2582.5C1511.7,2579.4 1515.3,2576.2 1518.8,2573C1522.3,2569.8 1525.7,2566.4 1529.1,2563.1C1532.4,2559.7 1535.8,2556.2 1539,2552.7C1542.2,2549.2 1545.4,2545.6 1548.4,2542.1C1551.5,2538.5 1554.5,2534.9 1557.3,2531.2C1560.1,2527.5 1562.9,2523.8 1565.4,2519.9C1567.9,2516.1 1570.2,2512.2 1572.2,2508.1C1574.3,2504 1576,2499.8 1577.5,2495.5C1579,2491.1 1580.1,2486.6 1581,2482.1C1582,2477.5 1582.6,2472.8 1583.2,2468.1C1583.8,2463.3 1584.2,2458.5 1584.6,2453.8C1585,2449.1 1585.2,2444.3 1585.6,2439.7C1586,2435 1586.5,2430.6 1586.9,2426C1587.3,2421.4 1588,2414.4 1588.2,2412L1588.2,2374.2Z" fill="#f0ff00"/>
<path d="M943.2,2374.2L943.2,2412.6C944.1,2414.7 947,2421.1 948.9,2425.4C950.8,2429.6 952.7,2433.8 954.5,2438.1C956.3,2442.3 958.1,2446.7 959.8,2451.1C961.6,2455.4 963.3,2459.9 965.1,2464.2C967,2468.6 968.8,2473 970.7,2477.3C972.7,2481.6 974.6,2485.8 976.8,2490C979,2494.1 981.3,2498.2 983.7,2502.1C986.2,2506 988.8,2509.8 991.6,2513.5C994.4,2517.2 997.3,2520.8 1000.4,2524.2C1003.5,2527.7 1006.7,2531 1010,2534.2C1013.4,2537.4 1016.9,2540.5 1020.4,2543.5C1024,2546.5 1027.7,2549.4 1031.5,2552.2C1035.2,2555 1039.1,2557.7 1043,2560.4C1046.8,2563.1 1050.8,2565.7 1054.8,2568.2C1058.7,2570.8 1062.7,2573.4 1066.7,2575.9C1070.7,2578.4 1074.7,2580.9 1078.7,2583.4C1082.7,2585.8 1086.7,2588.2 1090.8,2590.5C1094.9,2592.8 1099,2595 1103.2,2597.1C1107.3,2599.3 1111.5,2601.3 1115.8,2603.2C1120,2605.1 1124.3,2606.9 1128.7,2608.6C1133,2610.3 1137.4,2611.9 1141.8,2613.3C1146.2,2614.8 1150.7,2616.1 1155.2,2617.4C1159.7,2618.6 1164.2,2619.8 1168.7,2620.8C1173.3,2621.9 1177.8,2622.8 1182.4,2623.7C1187,2624.5 1191.6,2625.3 1196.2,2625.9C1200.8,2626.6 1205.5,2627.2 1210.1,2627.7C1214.7,2628.2 1219.4,2628.6 1224.1,2628.9C1228.8,2629.3 1233.4,2629.6 1238.1,2629.8C1242.8,2630 1247.5,2630.2 1252.2,2630.3C1256.9,2630.4 1261.6,2630.4 1266.3,2630.4C1271.1,2630.4 1275.8,2630.4 1280.5,2630.2C1285.2,2630.1 1289.9,2630 1294.6,2629.8C1299.3,2629.5 1304,2629.2 1308.7,2628.9C1313.4,2628.5 1318.1,2628.1 1322.7,2627.6C1327.4,2627.1 1332.1,2626.5 1336.7,2625.9C1341.3,2625.2 1345.9,2624.4 1350.5,2623.6C1355.1,2622.8 1359.6,2621.8 1364.2,2620.8C1368.7,2619.8 1373.2,2618.6 1377.7,2617.4C1382.2,2616.2 1386.6,2614.8 1391,2613.4C1395.4,2611.9 1399.8,2610.3 1404.1,2608.6C1408.4,2606.9 1412.7,2605.1 1416.9,2603.2C1421.2,2601.3 1425.4,2599.3 1429.6,2597.2C1433.7,2595.1 1437.9,2592.8 1442,2590.6C1446.1,2588.3 1450.1,2585.9 1454.2,2583.5C1458.2,2581.1 1462.2,2578.6 1466.2,2576C1470.2,2573.5 1474.1,2570.9 1478.1,2568.2C1482,2565.6 1485.9,2562.9 1489.8,2560.2C1493.6,2557.5 1497.5,2554.8 1501.3,2552C1505,2549.2 1508.8,2546.4 1512.4,2543.4C1516,2540.4 1519.5,2537.4 1522.9,2534.2C1526.2,2531.1 1529.5,2527.8 1532.5,2524.3C1535.6,2520.9 1538.5,2517.3 1541.2,2513.6C1544,2509.9 1546.5,2506 1548.9,2502.1C1551.4,2498.1 1553.6,2494 1555.8,2489.9C1558,2485.8 1560.1,2481.5 1562,2477.2C1564,2473 1565.9,2468.6 1567.7,2464.2C1569.5,2459.9 1571.3,2455.5 1573,2451.1C1574.8,2446.7 1576.5,2442.4 1578.3,2438.1C1580.1,2433.8 1582,2429.6 1583.9,2425.3C1585.7,2421.1 1588.6,2414.7 1589.5,2412.5L1589.5,2374.2Z" fill="#ffaa00"/>
<path d="M969.2,2412.4C969.7,2414.7 970.2,2422.3 971.7,2426C973.3,2429.8 975.9,2432.8 978.7,2435.1C981.5,2437.3 985.1,2438.8 988.7,2439.6C992.3,2440.4 996.3,2440.4 1000.2,2439.9C1004.2,2439.4 1008.4,2438.1 1012.2,2436.5C1016.1,2434.9 1020.1,2432.7 1023.6,2430.3C1027.1,2427.9 1030.5,2425.1 1033.3,2422.2C1036.1,2419.2 1039.1,2414.4 1040.2,2412.9Z" fill="#f0ff00"/>
<path d="M1563.6,2412.4C1563.1,2414.7 1562.6,2422.3 1561.1,2426C1559.5,2429.8 1556.9,2432.8 1554.1,2435.1C1551.3,2437.3 1547.7,2438.8 1544.1,2439.6C1540.5,2440.4 1536.5,2440.4 1532.6,2439.9C1528.6,2439.4 1524.4,2438.1 1520.6,2436.5C1516.7,2434.9 1512.7,2432.7 1509.2,2430.3C1505.7,2427.9 1502.3,2425.1 1499.5,2422.2C1496.7,2419.2 1493.7,2414.4 1492.6,2412.9Z" fill="#f0ff00"/>
<path d="M1103.8,2374.2L1103.8,2399.9C1102.1,2401.6 1097.3,2406.6 1094,2410C1090.7,2413.3 1087.3,2416.8 1084,2420.2C1080.7,2423.6 1077.6,2427.2 1074.3,2430.5C1070.9,2433.8 1067.4,2436.9 1063.8,2440C1060.2,2443.1 1056.5,2446.1 1052.8,2449.1C1049.1,2452.2 1045.1,2455.1 1041.5,2458.3C1037.9,2461.6 1033.6,2464.7 1031.1,2468.5C1028.7,2472.3 1027.1,2476.7 1026.7,2481C1026.3,2485.4 1027.3,2490.1 1028.8,2494.4C1030.2,2498.7 1032.6,2502.8 1035.2,2506.7C1037.9,2510.7 1041.2,2514.4 1044.5,2518.1C1047.8,2521.7 1051.4,2525.2 1054.9,2528.5C1058.5,2531.8 1062.1,2535 1065.8,2538C1069.5,2541.1 1073.3,2544 1077.2,2546.7C1081,2549.5 1085,2552.1 1089,2554.6C1093,2557 1097.1,2559.4 1101.2,2561.6C1105.3,2563.7 1109.6,2565.8 1113.8,2567.7C1118.1,2569.6 1122.4,2571.4 1126.8,2573C1131.2,2574.6 1135.7,2576.1 1140.2,2577.5C1144.7,2578.8 1149.3,2580.1 1153.9,2581.3C1158.5,2582.4 1163.2,2583.5 1167.8,2584.5C1172.5,2585.5 1177.2,2586.5 1181.9,2587.4C1186.6,2588.4 1191.3,2589.3 1196,2590.2C1200.7,2591.1 1205.4,2592.1 1210.1,2593C1214.8,2593.9 1219.5,2594.8 1224.2,2595.6C1228.9,2596.4 1233.6,2597.2 1238.3,2597.8C1243,2598.4 1247.7,2599 1252.4,2599.4C1257,2599.7 1261.7,2599.9 1266.4,2599.9C1271.1,2599.9 1275.8,2599.7 1280.4,2599.4C1285.1,2599 1289.8,2598.4 1294.5,2597.8C1299.2,2597.2 1303.9,2596.4 1308.6,2595.6C1313.3,2594.8 1318,2593.9 1322.7,2593C1327.4,2592.1 1332.1,2591.1 1336.8,2590.2C1341.5,2589.3 1346.2,2588.4 1350.9,2587.4C1355.6,2586.5 1360.3,2585.5 1365,2584.5C1369.6,2583.5 1374.3,2582.4 1378.9,2581.3C1383.5,2580.1 1388.1,2578.8 1392.6,2577.5C1397.1,2576.1 1401.6,2574.6 1406,2573C1410.4,2571.4 1414.7,2569.6 1419,2567.7C1423.2,2565.8 1427.5,2563.7 1431.6,2561.6C1435.7,2559.4 1439.8,2557 1443.8,2554.6C1447.8,2552.1 1451.8,2549.5 1455.6,2546.7C1459.5,2544 1463.3,2541.1 1467,2538C1470.7,2535 1474.3,2531.8 1477.9,2528.5C1481.4,2525.2 1485,2521.7 1488.3,2518.1C1491.6,2514.4 1494.9,2510.7 1497.6,2506.7C1500.2,2502.8 1502.6,2498.7 1504,2494.4C1505.5,2490.1 1506.5,2485.4 1506.1,2481C1505.7,2476.7 1504.1,2472.3 1501.7,2468.5C1499.2,2464.7 1494.9,2461.6 1491.3,2458.3C1487.7,2455.1 1483.7,2452.2 1480,2449.1C1476.3,2446.1 1472.6,2443.1 1469,2440C1465.4,2436.9 1461.9,2433.8 1458.5,2430.5C1455.2,2427.2 1452.1,2423.6 1448.8,2420.2C1445.5,2416.8 1442.1,2413.3 1438.8,2410C1435.5,2406.6 1430.7,2401.6 1429,2399.9L1429,2374.2Z" fill="#ff2a00"/>
<path d="M1169.4,2374.2L1169.4,2404.2C1167.5,2405.5 1161.7,2409.5 1157.9,2412.2C1154.1,2414.8 1150.4,2417.4 1146.6,2420C1142.8,2422.7 1138.9,2425.4 1135.1,2428.3C1131.3,2431.1 1127.5,2434.1 1124,2437.3C1120.4,2440.6 1116.8,2444.1 1113.7,2447.8C1110.5,2451.5 1107.5,2455.6 1105.1,2459.7C1102.7,2463.8 1100.5,2468.1 1099.2,2472.5C1097.9,2476.8 1097.1,2481.3 1097.3,2485.7C1097.4,2490.2 1098.4,2494.7 1100.1,2499C1101.7,2503.3 1104.2,2507.6 1107.1,2511.5C1109.9,2515.3 1113.4,2518.9 1117,2522C1120.6,2525 1124.6,2527.5 1128.7,2529.8C1132.8,2532 1137.2,2533.8 1141.6,2535.4C1146,2537.1 1150.6,2538.4 1155.2,2539.8C1159.8,2541.1 1164.5,2542.3 1169.1,2543.7C1173.7,2545 1178.3,2546.3 1182.9,2547.6C1187.6,2548.9 1192.2,2550.3 1196.8,2551.5C1201.4,2552.8 1206,2554 1210.6,2555.1C1215.2,2556.2 1219.8,2557.3 1224.4,2558.2C1229,2559.2 1233.6,2560 1238.3,2560.7C1242.9,2561.3 1247.6,2561.9 1252.2,2562.2C1256.9,2562.6 1261.5,2562.8 1266.2,2562.7C1270.9,2562.7 1275.6,2562.4 1280.3,2562C1285.1,2561.6 1289.8,2561 1294.5,2560.3C1299.2,2559.5 1303.9,2558.7 1308.6,2557.7C1313.3,2556.8 1318,2555.7 1322.6,2554.6C1327.2,2553.5 1331.8,2552.4 1336.4,2551.2C1341,2550.1 1345.5,2548.9 1350,2547.7C1354.5,2546.5 1359.1,2545.3 1363.6,2544.1C1368.1,2542.9 1372.7,2541.9 1377.3,2540.6C1381.8,2539.3 1386.4,2538 1390.8,2536.3C1395.3,2534.6 1399.7,2532.7 1403.9,2530.2C1408.1,2527.7 1412.2,2524.8 1415.9,2521.5C1419.6,2518.3 1423.1,2514.6 1425.9,2510.8C1428.7,2507 1431.2,2502.8 1432.8,2498.6C1434.4,2494.4 1435.3,2490.1 1435.5,2485.7C1435.6,2481.4 1434.8,2477 1433.5,2472.8C1432.3,2468.5 1430.2,2464.2 1427.8,2460.1C1425.4,2456 1422.4,2452 1419.2,2448.1C1416.1,2444.3 1412.5,2440.7 1408.8,2437.3C1405.2,2433.9 1401.4,2430.8 1397.6,2427.9C1393.8,2425 1389.9,2422.4 1386.2,2419.8C1382.4,2417.3 1378.8,2414.9 1375,2412.4C1371.2,2409.9 1365.3,2406 1363.3,2404.7L1363.3,2374.2Z" fill="#ff0000"/>
<path d="M961.7,2414.3L960.4,2410.3L957,2407.8L952.8,2407.8L949.4,2410.3L948.1,2414.3L949.4,2418.3L952.8,2420.8L957,2420.8L960.4,2418.3Z" fill="#ff2a00"/>
<path d="M959.5,2414.3L958.6,2411.6L956.3,2409.9L953.5,2409.9L951.2,2411.6L950.3,2414.3L951.2,2417L953.5,2418.7L956.3,2418.7L958.6,2417Z" fill="#ff0000"/>
</g>
<clipPath id="cl"><path d="M834.8,2522.2L821.1,2509.8L807.8,2497L795,2483.7L782.6,2470L770.8,2455.8L759.5,2441.2L748.7,2426.2L738.4,2410.8L728.7,2395.1L719.6,2379L711,2362.7L703,2346L695.7,2329.1L688.9,2311.9L682.8,2294.4L677.2,2276.8L672.4,2259L668.1,2241L664.5,2222.9L661.6,2204.7L659.3,2186.3L657.6,2167.9L656.6,2149.5L656.3,2131L656.6,2112.5L657.6,2094.1L659.3,2075.7L661.6,2057.3L664.5,2039.1L668.1,2021L672.4,2003L677.2,1985.2L682.8,1967.6L688.9,1950.1L695.7,1932.9L703,1916L711,1899.3L719.6,1883L728.7,1866.9L738.4,1851.2L748.7,1835.8L759.5,1820.8L770.8,1806.2L782.6,1792L795,1778.3L807.8,1765L821.1,1752.2L834.8,1739.8L954.9,1847.7L954.9,2414.3Z"/></clipPath>
<g clip-path="url(#cl)">
<path d="M834.8,2522.2L821.1,2509.8L807.8,2497L795,2483.7L782.6,2470L770.8,2455.8L759.5,2441.2L748.7,2426.2L738.4,2410.8L728.7,2395.1L719.6,2379L711,2362.7L703,2346L695.7,2329.1L688.9,2311.9L682.8,2294.4L677.2,2276.8L672.4,2259L668.1,2241L664.5,2222.9L661.6,2204.7L659.3,2186.3L657.6,2167.9L656.6,2149.5L656.3,2131L656.6,2112.5L657.6,2094.1L659.3,2075.7L661.6,2057.3L664.5,2039.1L668.1,2021L672.4,2003L677.2,1985.2L682.8,1967.6L688.9,1950.1L695.7,1932.9L703,1916L711,1899.3L719.6,1883L728.7,1866.9L738.4,1851.2L748.7,1835.8L759.5,1820.8L770.8,1806.2L782.6,1792L795,1778.3L807.8,1765L821.1,1752.2L834.8,1739.8L954.9,1847.7L954.9,2414.3Z" fill="#0aa0fa"/>
<path d="M566.4,1767.9L791.8,1767.9C794.2,1768.1 800.4,1768.6 805.8,1769C811.2,1769.4 817.3,1769.9 824.2,1770.5C831.1,1771.1 838.9,1771.9 847.1,1772.8C855.3,1773.7 866.5,1775.1 873.2,1775.9C879.9,1776.7 884.8,1777.3 887.1,1777.6L994.9,1777.6L994.9,2484.4L887.1,2484.4C884.8,2484.7 879.9,2485.3 873.2,2486.1C866.5,2486.9 855.3,2488.3 847.1,2489.2C838.9,2490.1 831.1,2490.9 824.2,2491.5C817.3,2492.1 811.2,2492.6 805.8,2493C800.4,2493.4 794.2,2493.9 791.8,2494.1L566.4,2494.1Z" fill="#00ffe6"/>
<path d="M566.4,1792.4L770.4,1792.4C772.8,1792.4 779.6,1792.4 784.4,1792.4C789.3,1792.4 794.6,1792.7 799.6,1792.5C804.7,1792.2 809.9,1791.6 815,1791.1C820.1,1790.6 825.2,1789.9 830.3,1789.6C835.4,1789.3 840.5,1789.1 845.5,1789.3C850.6,1789.5 855.7,1790.2 860.7,1791.1C865.7,1792 870.7,1793.3 875.7,1794.7C880.6,1796 885.6,1797.7 890.5,1799.2C895.4,1800.7 900.6,1802.4 905.2,1803.8C909.9,1805.3 916.4,1807.3 918.6,1808L994.9,1808L994.9,2454L918.6,2454C916.4,2454.7 909.9,2456.7 905.2,2458.2C900.6,2459.6 895.4,2461.3 890.5,2462.8C885.6,2464.3 880.6,2466 875.7,2467.3C870.7,2468.7 865.7,2470 860.7,2470.9C855.7,2471.8 850.6,2472.5 845.5,2472.7C840.5,2472.9 835.4,2472.7 830.3,2472.4C825.2,2472.1 820.1,2471.4 815,2470.9C809.9,2470.4 804.7,2469.8 799.6,2469.5C794.6,2469.3 789.3,2469.6 784.4,2469.6C779.6,2469.6 772.8,2469.6 770.4,2469.6L566.4,2469.6Z" fill="#00ff6e"/>
<path d="M566.4,1820.1L752.2,1820.1C754.5,1819.8 761.4,1819 766.1,1818.4C770.8,1817.9 775.7,1817.6 780.4,1816.8C785.2,1816 789.9,1814.8 794.7,1813.6C799.4,1812.5 804.1,1811.1 808.9,1809.8C813.6,1808.6 818.3,1807.2 823.1,1806.1C827.8,1805 832.5,1803.9 837.3,1803.2C842,1802.5 846.7,1801.9 851.5,1801.9C856.2,1801.8 861,1802.2 865.7,1802.8C870.5,1803.4 875.3,1804.5 880,1805.7C884.8,1806.9 889.5,1808.4 894.2,1809.8C898.9,1811.3 903.6,1813 908.3,1814.5C913,1816 917.6,1817.4 922.2,1818.9C926.7,1820.3 933.3,1822.4 935.5,1823.1L994.9,1823.1L994.9,2438.9L935.5,2438.9C933.3,2439.6 926.7,2441.7 922.2,2443.1C917.6,2444.6 913,2446 908.3,2447.5C903.6,2449 898.9,2450.7 894.2,2452.2C889.5,2453.6 884.8,2455.1 880,2456.3C875.3,2457.5 870.5,2458.6 865.7,2459.2C861,2459.8 856.2,2460.2 851.5,2460.1C846.7,2460.1 842,2459.5 837.3,2458.8C832.5,2458.1 827.8,2457 823.1,2455.9C818.3,2454.8 813.6,2453.4 808.9,2452.2C804.1,2450.9 799.4,2449.5 794.7,2448.4C789.9,2447.2 785.2,2446 780.4,2445.2C775.7,2444.4 770.8,2444.1 766.1,2443.6C761.4,2443 754.5,2442.2 752.2,2441.9L566.4,2441.9Z" fill="#00ff00"/>
<path d="M566.4,1968.2L675.8,1968.2C677.5,1966.5 682.4,1961.6 685.7,1958.3C689.1,1954.9 692.4,1951.4 695.8,1948.1C699.2,1944.8 702.7,1941.7 706.2,1938.5C709.6,1935.4 713.1,1932.3 716.6,1929.2C720.1,1926.1 723.6,1923 727.1,1919.9C730.6,1916.8 734.2,1913.7 737.6,1910.5C741.1,1907.3 744.6,1904.1 748.1,1900.8C751.5,1897.5 755,1894.1 758.4,1890.8C761.9,1887.5 765.4,1884.1 768.9,1880.9C772.4,1877.6 776,1874.4 779.6,1871.2C783.2,1868.1 786.9,1865 790.6,1862.1C794.3,1859.2 798.1,1856.4 802,1853.8C805.9,1851.2 809.9,1848.7 814,1846.5C818.1,1844.3 822.3,1842.3 826.6,1840.5C830.9,1838.7 835.3,1837.1 839.8,1835.8C844.2,1834.4 848.8,1833.3 853.4,1832.4C858,1831.5 862.6,1830.8 867.3,1830.3C872,1829.8 876.8,1829.5 881.5,1829.5C886.2,1829.4 891,1829.6 895.7,1830C900.5,1830.4 905.3,1831 910,1831.7C914.7,1832.4 919.4,1833.3 924.1,1834.2C928.7,1835.1 933.3,1836.2 937.9,1837.2C942.5,1838.2 949.3,1839.7 951.6,1840.1L994.9,1840.1L994.9,2421.9L951.6,2421.9C949.3,2422.3 942.5,2423.8 937.9,2424.8C933.3,2425.8 928.7,2426.9 924.1,2427.8C919.4,2428.7 914.7,2429.6 910,2430.3C905.3,2431 900.5,2431.6 895.7,2432C891,2432.4 886.2,2432.6 881.5,2432.5C876.8,2432.5 872,2432.2 867.3,2431.7C862.6,2431.2 858,2430.5 853.4,2429.6C848.8,2428.7 844.2,2427.6 839.8,2426.2C835.3,2424.9 830.9,2423.3 826.6,2421.5C822.3,2419.7 818.1,2417.7 814,2415.5C809.9,2413.3 805.9,2410.8 802,2408.2C798.1,2405.6 794.3,2402.8 790.6,2399.9C786.9,2397 783.2,2393.9 779.6,2390.8C776,2387.6 772.4,2384.4 768.9,2381.1C765.4,2377.9 761.9,2374.5 758.4,2371.2C755,2367.9 751.5,2364.5 748.1,2361.2C744.6,2357.9 741.1,2354.7 737.6,2351.5C734.2,2348.3 730.6,2345.2 727.1,2342.1C723.6,2339 720.1,2335.9 716.6,2332.8C713.1,2329.7 709.6,2326.6 706.2,2323.5C702.7,2320.3 699.2,2317.2 695.8,2313.9C692.4,2310.6 689.1,2307.1 685.7,2303.7C682.4,2300.4 677.5,2295.5 675.8,2293.8L566.4,2293.8Z" fill="#6eff00"/>
<path d="M994.9,1840.4L955.1,1840.4C952.8,1840.4 945.8,1840.3 941.1,1840.2C936.4,1840.1 931.6,1840 926.8,1840C922,1840.1 917.3,1840.2 912.5,1840.6C907.8,1840.9 903,1841.3 898.3,1841.9C893.6,1842.5 888.9,1843.3 884.3,1844.2C879.6,1845.1 875,1846.1 870.5,1847.4C865.9,1848.6 861.4,1850 856.9,1851.6C852.5,1853.1 848.1,1854.9 843.8,1856.8C839.4,1858.7 835.2,1860.7 831,1862.9C826.8,1865.1 822.6,1867.4 818.6,1869.9C814.5,1872.3 810.5,1875 806.6,1877.7C802.7,1880.4 798.9,1883.2 795.1,1886.2C791.4,1889.1 787.7,1892.2 784.1,1895.4C780.5,1898.5 777,1901.8 773.6,1905.2C770.2,1908.5 766.9,1912 763.7,1915.5C760.5,1919 757.4,1922.6 754.4,1926.3C751.4,1930 748.5,1933.7 745.7,1937.5C742.9,1941.3 740.2,1945.2 737.6,1949.1C735,1953.1 732.5,1957 730.1,1961.1C727.7,1965.1 725.4,1969.2 723.2,1973.4C721,1977.6 718.9,1981.8 716.9,1986C714.9,1990.3 713,1994.6 711.2,1998.9C709.4,2003.3 707.7,2007.7 706.1,2012.1C704.5,2016.5 703,2021 701.6,2025.5C700.1,2030 698.8,2034.5 697.6,2039.1C696.4,2043.7 695.3,2048.3 694.2,2052.9C693.2,2057.5 692.3,2062.2 691.4,2066.8C690.6,2071.5 689.9,2076.2 689.2,2080.9C688.6,2085.6 688,2090.4 687.5,2095.1C687.1,2099.8 686.7,2104.6 686.4,2109.4C686.2,2114.1 686,2118.9 685.9,2123.7C685.8,2128.4 685.8,2133.2 685.9,2138C686,2142.8 686.2,2147.6 686.5,2152.3C686.8,2157.1 687.1,2161.9 687.6,2166.6C688.1,2171.4 688.6,2176.2 689.3,2180.9C690,2185.6 690.7,2190.3 691.6,2195C692.4,2199.7 693.3,2204.4 694.4,2209.1C695.4,2213.7 696.5,2218.3 697.8,2222.9C699,2227.5 700.3,2232.1 701.7,2236.6C703.1,2241.2 704.6,2245.7 706.2,2250.1C707.8,2254.6 709.5,2259 711.3,2263.3C713.1,2267.7 715,2272 717,2276.3C719,2280.6 721.1,2284.8 723.3,2288.9C725.5,2293.1 727.8,2297.2 730.2,2301.2C732.6,2305.3 735,2309.3 737.6,2313.2C740.2,2317.1 742.9,2321 745.7,2324.7C748.4,2328.5 751.3,2332.2 754.3,2335.8C757.3,2339.5 760.4,2343 763.5,2346.5C766.7,2350 770,2353.4 773.4,2356.7C776.8,2360 780.2,2363.2 783.8,2366.3C787.4,2369.4 791.1,2372.5 794.8,2375.4C798.6,2378.3 802.5,2381.2 806.4,2383.9C810.3,2386.6 814.4,2389.2 818.5,2391.7C822.6,2394.1 826.7,2396.5 831,2398.7C835.2,2400.9 839.5,2403 843.9,2404.9C848.2,2406.9 852.6,2408.7 857.1,2410.3C861.6,2411.9 866.1,2413.4 870.6,2414.7C875.2,2416 879.8,2417.2 884.4,2418.2C889.1,2419.1 893.7,2419.9 898.4,2420.5C903.1,2421.2 907.8,2421.6 912.5,2421.9C917.3,2422.1 922,2422.2 926.8,2422.1C931.5,2422.1 936.3,2421.7 941,2421.4C945.8,2421.2 952.7,2420.9 955,2420.7L994.9,2420.7Z" fill="#f0ff00"/>
<path d="M994.9,1842.6L962.7,1842.6C960.4,1842.9 953.5,1844 948.8,1844.7C944.2,1845.4 939.5,1846 934.9,1846.9C930.3,1847.7 925.6,1848.7 921.1,1849.8C916.5,1851 911.9,1852.2 907.4,1853.6C902.9,1855 898.4,1856.5 894,1858.2C889.5,1859.8 885.1,1861.6 880.8,1863.4C876.4,1865.3 872.1,1867.3 867.9,1869.4C863.6,1871.5 859.4,1873.8 855.3,1876.1C851.2,1878.4 847.1,1880.9 843.1,1883.4C839.1,1886 835.2,1888.6 831.3,1891.4C827.5,1894.2 823.7,1897 820,1900C816.3,1902.9 812.7,1906 809.2,1909.1C805.7,1912.3 802.2,1915.5 798.9,1918.8C795.5,1922.1 792.3,1925.6 789.1,1929.1C786,1932.5 782.9,1936.1 780,1939.8C777.1,1943.4 774.2,1947.2 771.5,1951C768.8,1954.8 766.2,1958.7 763.6,1962.6C761.1,1966.5 758.7,1970.6 756.4,1974.6C754.1,1978.7 751.9,1982.8 749.7,1987C747.6,1991.2 745.6,1995.5 743.7,1999.8C741.8,2004.1 740,2008.4 738.3,2012.8C736.6,2017.2 735,2021.6 733.5,2026.1C732,2030.6 730.6,2035.1 729.4,2039.7C728.1,2044.2 726.9,2048.8 725.8,2053.4C724.7,2058 723.7,2062.7 722.8,2067.3C721.9,2072 721.1,2076.7 720.4,2081.4C719.7,2086.1 719.1,2090.8 718.6,2095.5C718.1,2100.2 717.7,2105 717.4,2109.7C717.1,2114.5 716.9,2119.2 716.8,2124C716.7,2128.7 716.7,2133.5 716.8,2138.2C716.9,2143 717.1,2147.7 717.4,2152.5C717.6,2157.2 718,2161.9 718.5,2166.6C719,2171.3 719.6,2176 720.3,2180.7C721,2185.4 721.7,2190.1 722.6,2194.7C723.5,2199.3 724.5,2204 725.6,2208.5C726.7,2213.1 727.9,2217.7 729.2,2222.2C730.5,2226.8 731.8,2231.3 733.3,2235.7C734.8,2240.2 736.4,2244.6 738.2,2249C739.9,2253.4 741.7,2257.7 743.6,2262C745.5,2266.3 747.5,2270.6 749.7,2274.8C751.8,2279 754,2283.2 756.3,2287.2C758.7,2291.3 761.1,2295.4 763.7,2299.3C766.2,2303.3 768.8,2307.2 771.6,2311C774.3,2314.8 777.2,2318.6 780.1,2322.3C783.1,2325.9 786.1,2329.5 789.3,2333C792.4,2336.5 795.7,2340 799,2343.3C802.4,2346.6 805.8,2349.8 809.3,2353C812.8,2356.1 816.4,2359.2 820.1,2362.1C823.8,2365.1 827.6,2367.9 831.4,2370.7C835.2,2373.4 839.2,2376.1 843.1,2378.6C847.1,2381.2 851.2,2383.6 855.3,2385.9C859.4,2388.2 863.6,2390.5 867.8,2392.6C872.1,2394.7 876.3,2396.7 880.7,2398.5C885,2400.4 889.4,2402.2 893.9,2403.8C898.3,2405.4 902.8,2406.9 907.3,2408.3C911.8,2409.7 916.4,2411 921,2412.1C925.6,2413.2 930.2,2414.2 934.9,2415.1C939.5,2416 944.3,2416.6 948.9,2417.3C953.6,2418.1 960.4,2419.1 962.7,2419.5L994.9,2419.5Z" fill="#ffaa00"/>
<path d="M957.3,1862.6C954.9,1862.5 947.3,1861.5 943.3,1862.4C939.2,1863.3 935.6,1865.4 932.9,1867.9C930.2,1870.4 928.3,1873.8 927.3,1877.3C926.2,1880.8 926.1,1885 926.5,1888.9C927,1892.9 928.3,1897.1 930.1,1900.9C931.8,1904.7 934.2,1908.6 936.9,1911.8C939.6,1915 942.9,1918 946.2,1920.2C949.5,1922.4 955.1,1924.2 956.9,1924.9Z" fill="#f0ff00"/>
<path d="M957.3,2399.4C954.9,2399.5 947.3,2400.5 943.3,2399.6C939.2,2398.7 935.6,2396.6 932.9,2394.1C930.2,2391.6 928.3,2388.2 927.3,2384.7C926.2,2381.2 926.1,2377 926.5,2373.1C927,2369.1 928.3,2364.9 930.1,2361.1C931.8,2357.3 934.2,2353.4 936.9,2350.2C939.6,2347 942.9,2344 946.2,2341.8C949.5,2339.6 955.1,2337.8 956.9,2337.1Z" fill="#f0ff00"/>
<path d="M994.9,1977.3L972.6,1977.3C970.5,1976.3 964.3,1973.1 960.1,1970.9C955.9,1968.8 951.4,1966.9 947.4,1964.4C943.4,1962 939.7,1959.1 936.2,1956.2C932.6,1953.2 929.4,1949.9 926.1,1946.6C922.8,1943.2 919.8,1939.7 916.5,1936.3C913.1,1932.9 909.9,1929.3 906.2,1926.2C902.5,1923.1 898.5,1919.8 894.3,1917.6C890.2,1915.3 885.8,1913.4 881.5,1912.8C877.1,1912.2 872.7,1912.8 868.3,1914C864,1915.2 859.6,1917.5 855.4,1919.8C851.2,1922 847.1,1924.8 843.2,1927.5C839.2,1930.2 835.4,1933.1 831.7,1936.1C828,1939.1 824.5,1942.2 821.1,1945.4C817.7,1948.7 814.4,1952 811.2,1955.4C808.1,1958.9 805.1,1962.4 802.2,1966.1C799.3,1969.7 796.5,1973.5 793.9,1977.3C791.2,1981.2 788.7,1985.1 786.3,1989.1C783.9,1993.1 781.7,1997.2 779.5,2001.3C777.4,2005.5 775.4,2009.7 773.5,2014C771.6,2018.3 769.8,2022.6 768.1,2027C766.5,2031.4 764.9,2035.9 763.5,2040.4C762.1,2044.9 760.8,2049.4 759.6,2054C758.4,2058.6 757.3,2063.2 756.3,2067.9C755.4,2072.5 754.5,2077.2 753.8,2081.9C753,2086.6 752.4,2091.3 751.9,2096C751.3,2100.7 750.9,2105.5 750.6,2110.2C750.3,2114.9 750.1,2119.6 750,2124.4C749.9,2129.1 749.9,2133.8 750,2138.5C750.1,2143.2 750.3,2147.9 750.6,2152.6C751,2157.2 751.4,2161.9 751.9,2166.5C752.5,2171.2 753.1,2175.8 753.8,2180.4C754.6,2184.9 755.5,2189.5 756.4,2194.1C757.4,2198.6 758.5,2203.1 759.7,2207.6C760.9,2212.1 762.2,2216.5 763.6,2220.9C765,2225.3 766.6,2229.7 768.3,2234.1C769.9,2238.4 771.7,2242.7 773.6,2247C775.5,2251.3 777.5,2255.5 779.6,2259.7C781.8,2263.9 784,2268 786.4,2272.1C788.8,2276.2 791.3,2280.2 793.9,2284.2C796.5,2288.2 799.3,2292.2 802.2,2296.1C805.1,2299.9 808.1,2303.7 811.2,2307.4C814.3,2311 817.6,2314.6 821,2317.9C824.4,2321.2 827.9,2324.4 831.6,2327.4C835.2,2330.3 839,2333 843,2335.5C846.9,2337.9 851,2340.1 855.2,2341.9C859.4,2343.8 863.8,2345.4 868.2,2346.4C872.6,2347.5 877.4,2348.5 881.8,2348.3C886.2,2348 890.6,2347.2 894.6,2345.2C898.7,2343.3 902.4,2339.8 906,2336.6C909.6,2333.3 913,2329.1 916.3,2325.6C919.7,2322 922.8,2318.4 926.2,2315.1C929.5,2311.8 932.7,2308.7 936.3,2305.8C939.8,2302.9 943.4,2300.2 947.3,2297.7C951.3,2295.2 955.9,2293.2 960.1,2291C964.3,2288.8 970.5,2285.6 972.5,2284.5L994.9,2284.5Z" fill="#ff2a00"/>
<path d="M994.9,2041.5L971.2,2041.5C969.3,2040.1 963.7,2035.9 960,2033.2C956.3,2030.4 952.6,2028 949.1,2025C945.6,2022 942.2,2018.6 938.8,2015.3C935.4,2012 932.1,2008.4 928.7,2005.1C925.2,2001.7 921.8,1998.2 918.2,1995.1C914.6,1992.1 910.9,1989 907,1986.5C903.1,1984 899,1981.7 894.6,1980.1C890.3,1978.5 885.6,1977.3 881,1976.7C876.5,1976.2 871.7,1976.1 867.2,1976.8C862.7,1977.4 858.2,1978.7 854.2,1980.6C850.1,1982.6 846.4,1985.5 842.9,1988.6C839.5,1991.7 836.4,1995.5 833.4,1999.3C830.4,2003 827.6,2007 824.9,2011C822.3,2015 819.7,2019 817.4,2023.1C815,2027.2 812.7,2031.3 810.7,2035.5C808.6,2039.7 806.7,2044 805,2048.3C803.3,2052.6 801.7,2057 800.4,2061.4C799,2065.8 797.8,2070.3 796.8,2074.9C795.8,2079.4 794.9,2084 794.2,2088.7C793.5,2093.3 793,2098 792.5,2102.7C792.1,2107.4 791.8,2112.1 791.6,2116.8C791.4,2121.6 791.4,2126.3 791.4,2131C791.4,2135.8 791.5,2140.5 791.7,2145.2C791.9,2149.9 792.2,2154.6 792.7,2159.3C793.1,2164 793.7,2168.7 794.4,2173.3C795.1,2177.9 795.9,2182.5 796.9,2187C797.9,2191.6 799.1,2196.1 800.4,2200.6C801.7,2205 803.2,2209.4 804.9,2213.8C806.5,2218.1 808.4,2222.4 810.4,2226.6C812.5,2230.9 814.7,2235 817.2,2239.1C819.6,2243.2 822.2,2247.2 824.9,2251.1C827.7,2255 830.5,2258.8 833.6,2262.5C836.6,2266.1 839.7,2269.9 843.1,2273C846.6,2276.1 850.2,2279.1 854.3,2281.2C858.3,2283.2 862.8,2284.8 867.2,2285.5C871.6,2286.3 876.4,2286.4 880.9,2285.8C885.4,2285.2 890,2283.7 894.4,2282C898.7,2280.2 903,2277.7 907.1,2275.1C911.1,2272.5 914.9,2269.4 918.6,2266.4C922.2,2263.3 925.6,2260 928.9,2256.7C932.3,2253.5 935.5,2250.1 938.8,2246.9C942.1,2243.6 945.4,2240.3 948.9,2237.3C952.5,2234.3 956.4,2231.5 960.1,2228.6C963.8,2225.8 969.3,2221.5 971.2,2220.1L994.9,2220.1Z" fill="#ff0000"/>
<path d="M961.7,1847.7L960.4,1851.7L957,1854.2L952.8,1854.2L949.4,1851.7L948.1,1847.7L949.4,1843.7L952.8,1841.2L957,1841.2L960.4,1843.7Z" fill="#ff2a00"/>
<path d="M959.5,1847.7L958.6,1850.4L956.3,1852.1L953.5,1852.1L951.2,1850.4L950.3,1847.7L951.2,1845L953.5,1843.3L956.3,1843.3L958.6,1845Z" fill="#ff0000"/>
</g>
<clipPath id="cr"><path d="M1698,2522.2L1711.7,2509.8L1725,2497L1737.8,2483.7L1750.2,2470L1762,2455.8L1773.3,2441.2L1784.1,2426.2L1794.4,2410.8L1804.1,2395.1L1813.2,2379L1821.8,2362.7L1829.8,2346L1837.1,2329.1L1843.9,2311.9L1850,2294.4L1855.6,2276.8L1860.4,2259L1864.7,2241L1868.3,2222.9L1871.2,2204.7L1873.5,2186.3L1875.2,2167.9L1876.2,2149.5L1876.5,2131L1876.2,2112.5L1875.2,2094.1L1873.5,2075.7L1871.2,2057.3L1868.3,2039.1L1864.7,2021L1860.4,2003L1855.6,1985.2L1850,1967.6L1843.9,1950.1L1837.1,1932.9L1829.8,1916L1821.8,1899.3L1813.2,1883L1804.1,1866.9L1794.4,1851.2L1784.1,1835.8L1773.3,1820.8L1762,1806.2L1750.2,1792L1737.8,1778.3L1725,1765L1711.7,1752.2L1698,1739.8L1577.9,1847.7L1577.9,2414.3Z"/></clipPath>
<g clip-path="url(#cr)">
<path d="M1698,2522.2L1711.7,2509.8L1725,2497L1737.8,2483.7L1750.2,2470L1762,2455.8L1773.3,2441.2L1784.1,2426.2L1794.4,2410.8L1804.1,2395.1L1813.2,2379L1821.8,2362.7L1829.8,2346L1837.1,2329.1L1843.9,2311.9L1850,2294.4L1855.6,2276.8L1860.4,2259L1864.7,2241L1868.3,2222.9L1871.2,2204.7L1873.5,2186.3L1875.2,2167.9L1876.2,2149.5L1876.5,2131L1876.2,2112.5L1875.2,2094.1L1873.5,2075.7L1871.2,2057.3L1868.3,2039.1L1864.7,2021L1860.4,2003L1855.6,1985.2L1850,1967.6L1843.9,1950.1L1837.1,1932.9L1829.8,1916L1821.8,1899.3L1813.2,1883L1804.1,1866.9L1794.4,1851.2L1784.1,1835.8L1773.3,1820.8L1762,1806.2L1750.2,1792L1737.8,1778.3L1725,1765L1711.7,1752.2L1698,1739.8L1577.9,1847.7L1577.9,2414.3Z" fill="#0aa0fa"/>
<path d="M1966.4,1767.9L1741,1767.9C1738.6,1768.1 1732.4,1768.6 1727,1769C1721.6,1769.4 1715.5,1769.9 1708.6,1770.5C1701.7,1771.1 1693.9,1771.9 1685.7,1772.8C1677.5,1773.7 1666.3,1775.1 1659.6,1775.9C1652.9,1776.7 1648,1777.3 1645.7,1777.6L1537.9,1777.6L1537.9,2484.4L1645.7,2484.4C1648,2484.7 1652.9,2485.3 1659.6,2486.1C1666.3,2486.9 1677.5,2488.3 1685.7,2489.2C1693.9,2490.1 1701.7,2490.9 1708.6,2491.5C1715.5,2492.1 1721.6,2492.6 1727,2493C1732.4,2493.4 1738.6,2493.9 1741,2494.1L1966.4,2494.1Z" fill="#00ffe6"/>
<path d="M1966.4,1792.4L1762.4,1792.4C1760,1792.4 1753.2,1792.4 1748.4,1792.4C1743.5,1792.4 1738.2,1792.7 1733.2,1792.5C1728.1,1792.2 1722.9,1791.6 1717.8,1791.1C1712.7,1790.6 1707.6,1789.9 1702.5,1789.6C1697.4,1789.3 1692.3,1789.1 1687.3,1789.3C1682.2,1789.5 1677.1,1790.2 1672.1,1791.1C1667.1,1792 1662.1,1793.3 1657.1,1794.7C1652.2,1796 1647.2,1797.7 1642.3,1799.2C1637.4,1800.7 1632.2,1802.4 1627.6,1803.8C1622.9,1805.3 1616.4,1807.3 1614.2,1808L1537.9,1808L1537.9,2454L1614.2,2454C1616.4,2454.7 1622.9,2456.7 1627.6,2458.2C1632.2,2459.6 1637.4,2461.3 1642.3,2462.8C1647.2,2464.3 1652.2,2466 1657.1,2467.3C1662.1,2468.7 1667.1,2470 1672.1,2470.9C1677.1,2471.8 1682.2,2472.5 1687.3,2472.7C1692.3,2472.9 1697.4,2472.7 1702.5,2472.4C1707.6,2472.1 1712.7,2471.4 1717.8,2470.9C1722.9,2470.4 1728.1,2469.8 1733.2,2469.5C1738.2,2469.3 1743.5,2469.6 1748.4,2469.6C1753.2,2469.6 1760,2469.6 1762.4,2469.6L1966.4,2469.6Z" fill="#00ff6e"/>
<path d="M1966.4,1820.1L1780.6,1820.1C1778.3,1819.8 1771.4,1819 1766.7,1818.4C1762,1817.9 1757.1,1817.6 1752.4,1816.8C1747.6,1816 1742.9,1814.8 1738.1,1813.6C1733.4,1812.5 1728.7,1811.1 1723.9,1809.8C1719.2,1808.6 1714.5,1807.2 1709.7,1806.1C1705,1805 1700.3,1803.9 1695.5,1803.2C1690.8,1802.5 1686.1,1801.9 1681.3,1801.9C1676.6,1801.8 1671.8,1802.2 1667.1,1802.8C1662.3,1803.4 1657.5,1804.5 1652.8,1805.7C1648,1806.9 1643.3,1808.4 1638.6,1809.8C1633.9,1811.3 1629.2,1813 1624.5,1814.5C1619.8,1816 1615.2,1817.4 1610.6,1818.9C1606.1,1820.3 1599.5,1822.4 1597.3,1823.1L1537.9,1823.1L1537.9,2438.9L1597.3,2438.9C1599.5,2439.6 1606.1,2441.7 1610.6,2443.1C1615.2,2444.6 1619.8,2446 1624.5,2447.5C1629.2,2449 1633.9,2450.7 1638.6,2452.2C1643.3,2453.6 1648,2455.1 1652.8,2456.3C1657.5,2457.5 1662.3,2458.6 1667.1,2459.2C1671.8,2459.8 1676.6,2460.2 1681.3,2460.1C1686.1,2460.1 1690.8,2459.5 1695.5,2458.8C1700.3,2458.1 1705,2457 1709.7,2455.9C1714.5,2454.8 1719.2,2453.4 1723.9,2452.2C1728.7,2450.9 1733.4,2449.5 1738.1,2448.4C1742.9,2447.2 1747.6,2446 1752.4,2445.2C1757.1,2444.4 1762,2444.1 1766.7,2443.6C1771.4,2443 1778.3,2442.2 1780.6,2441.9L1966.4,2441.9Z" fill="#00ff00"/>
<path d="M1966.4,1968.2L1857,1968.2C1855.3,1966.5 1850.4,1961.6 1847.1,1958.3C1843.7,1954.9 1840.4,1951.4 1837,1948.1C1833.6,1944.8 1830.1,1941.7 1826.6,1938.5C1823.2,1935.4 1819.7,1932.3 1816.2,1929.2C1812.7,1926.1 1809.2,1923 1805.7,1919.9C1802.2,1916.8 1798.6,1913.7 1795.2,1910.5C1791.7,1907.3 1788.2,1904.1 1784.7,1900.8C1781.3,1897.5 1777.8,1894.1 1774.4,1890.8C1770.9,1887.5 1767.4,1884.1 1763.9,1880.9C1760.4,1877.6 1756.8,1874.4 1753.2,1871.2C1749.6,1868.1 1745.9,1865 1742.2,1862.1C1738.5,1859.2 1734.7,1856.4 1730.8,1853.8C1726.9,1851.2 1722.9,1848.7 1718.8,1846.5C1714.7,1844.3 1710.5,1842.3 1706.2,1840.5C1701.9,1838.7 1697.5,1837.1 1693,1835.8C1688.6,1834.4 1684,1833.3 1679.4,1832.4C1674.8,1831.5 1670.2,1830.8 1665.5,1830.3C1660.8,1829.8 1656,1829.5 1651.3,1829.5C1646.6,1829.4 1641.8,1829.6 1637.1,1830C1632.3,1830.4 1627.5,1831 1622.8,1831.7C1618.1,1832.4 1613.4,1833.3 1608.7,1834.2C1604.1,1835.1 1599.5,1836.2 1594.9,1837.2C1590.3,1838.2 1583.5,1839.7 1581.2,1840.1L1537.9,1840.1L1537.9,2421.9L1581.2,2421.9C1583.5,2422.3 1590.3,2423.8 1594.9,2424.8C1599.5,2425.8 1604.1,2426.9 1608.7,2427.8C1613.4,2428.7 1618.1,2429.6 1622.8,2430.3C1627.5,2431 1632.3,2431.6 1637.1,2432C1641.8,2432.4 1646.6,2432.6 1651.3,2432.5C1656,2432.5 1660.8,2432.2 1665.5,2431.7C1670.2,2431.2 1674.8,2430.5 1679.4,2429.6C1684,2428.7 1688.6,2427.6 1693,2426.2C1697.5,2424.9 1701.9,2423.3 1706.2,2421.5C1710.5,2419.7 1714.7,2417.7 1718.8,2415.5C1722.9,2413.3 1726.9,2410.8 1730.8,2408.2C1734.7,2405.6 1738.5,2402.8 1742.2,2399.9C1745.9,2397 1749.6,2393.9 1753.2,2390.8C1756.8,2387.6 1760.4,2384.4 1763.9,2381.1C1767.4,2377.9 1770.9,2374.5 1774.4,2371.2C1777.8,2367.9 1781.3,2364.5 1784.7,2361.2C1788.2,2357.9 1791.7,2354.7 1795.2,2351.5C1798.6,2348.3 1802.2,2345.2 1805.7,2342.1C1809.2,2339 1812.7,2335.9 1816.2,2332.8C1819.7,2329.7 1823.2,2326.6 1826.6,2323.5C1830.1,2320.3 1833.6,2317.2 1837,2313.9C1840.4,2310.6 1843.7,2307.1 1847.1,2303.7C1850.4,2300.4 1855.3,2295.5 1857,2293.8L1966.4,2293.8Z" fill="#6eff00"/>
<path d="M1537.9,1840.4L1577.7,1840.4C1580,1840.4 1587,1840.3 1591.7,1840.2C1596.4,1840.1 1601.2,1840 1606,1840C1610.8,1840.1 1615.5,1840.2 1620.3,1840.6C1625,1840.9 1629.8,1841.3 1634.5,1841.9C1639.2,1842.5 1643.9,1843.3 1648.5,1844.2C1653.2,1845.1 1657.8,1846.1 1662.3,1847.4C1666.9,1848.6 1671.4,1850 1675.9,1851.6C1680.3,1853.1 1684.7,1854.9 1689,1856.8C1693.4,1858.7 1697.6,1860.7 1701.8,1862.9C1706,1865.1 1710.2,1867.4 1714.2,1869.9C1718.3,1872.3 1722.3,1875 1726.2,1877.7C1730.1,1880.4 1733.9,1883.2 1737.7,1886.2C1741.4,1889.1 1745.1,1892.2 1748.7,1895.4C1752.3,1898.5 1755.8,1901.8 1759.2,1905.2C1762.6,1908.5 1765.9,1912 1769.1,1915.5C1772.3,1919 1775.4,1922.6 1778.4,1926.3C1781.4,1930 1784.3,1933.7 1787.1,1937.5C1789.9,1941.3 1792.6,1945.2 1795.2,1949.1C1797.8,1953.1 1800.3,1957 1802.7,1961.1C1805.1,1965.1 1807.4,1969.2 1809.6,1973.4C1811.8,1977.6 1813.9,1981.8 1815.9,1986C1817.9,1990.3 1819.8,1994.6 1821.6,1998.9C1823.4,2003.3 1825.1,2007.7 1826.7,2012.1C1828.3,2016.5 1829.8,2021 1831.2,2025.5C1832.7,2030 1834,2034.5 1835.2,2039.1C1836.4,2043.7 1837.5,2048.3 1838.6,2052.9C1839.6,2057.5 1840.5,2062.2 1841.4,2066.8C1842.2,2071.5 1842.9,2076.2 1843.6,2080.9C1844.2,2085.6 1844.8,2090.4 1845.3,2095.1C1845.7,2099.8 1846.1,2104.6 1846.4,2109.4C1846.6,2114.1 1846.8,2118.9 1846.9,2123.7C1847,2128.4 1847,2133.2 1846.9,2138C1846.8,2142.8 1846.6,2147.6 1846.3,2152.3C1846,2157.1 1845.7,2161.9 1845.2,2166.6C1844.7,2171.4 1844.2,2176.2 1843.5,2180.9C1842.8,2185.6 1842.1,2190.3 1841.2,2195C1840.4,2199.7 1839.5,2204.4 1838.4,2209.1C1837.4,2213.7 1836.3,2218.3 1835,2222.9C1833.8,2227.5 1832.5,2232.1 1831.1,2236.6C1829.7,2241.2 1828.2,2245.7 1826.6,2250.1C1825,2254.6 1823.3,2259 1821.5,2263.3C1819.7,2267.7 1817.8,2272 1815.8,2276.3C1813.8,2280.6 1811.7,2284.8 1809.5,2288.9C1807.3,2293.1 1805,2297.2 1802.6,2301.2C1800.2,2305.3 1797.8,2309.3 1795.2,2313.2C1792.6,2317.1 1789.9,2321 1787.1,2324.7C1784.4,2328.5 1781.5,2332.2 1778.5,2335.8C1775.5,2339.5 1772.4,2343 1769.3,2346.5C1766.1,2350 1762.8,2353.4 1759.4,2356.7C1756,2360 1752.6,2363.2 1749,2366.3C1745.4,2369.4 1741.7,2372.5 1738,2375.4C1734.2,2378.3 1730.3,2381.2 1726.4,2383.9C1722.5,2386.6 1718.4,2389.2 1714.3,2391.7C1710.2,2394.1 1706.1,2396.5 1701.8,2398.7C1697.6,2400.9 1693.3,2403 1688.9,2404.9C1684.6,2406.9 1680.2,2408.7 1675.7,2410.3C1671.2,2411.9 1666.7,2413.4 1662.2,2414.7C1657.6,2416 1653,2417.2 1648.4,2418.2C1643.7,2419.1 1639.1,2419.9 1634.4,2420.5C1629.7,2421.2 1625,2421.6 1620.3,2421.9C1615.5,2422.1 1610.8,2422.2 1606,2422.1C1601.3,2422.1 1596.5,2421.7 1591.8,2421.4C1587,2421.2 1580.1,2420.9 1577.8,2420.7L1537.9,2420.7Z" fill="#f0ff00"/>
<path d="M1537.9,1842.6L1570.1,1842.6C1572.4,1842.9 1579.3,1844 1584,1844.7C1588.6,1845.4 1593.3,1846 1597.9,1846.9C1602.5,1847.7 1607.2,1848.7 1611.7,1849.8C1616.3,1851 1620.9,1852.2 1625.4,1853.6C1629.9,1855 1634.4,1856.5 1638.8,1858.2C1643.3,1859.8 1647.7,1861.6 1652,1863.4C1656.4,1865.3 1660.7,1867.3 1664.9,1869.4C1669.2,1871.5 1673.4,1873.8 1677.5,1876.1C1681.6,1878.4 1685.7,1880.9 1689.7,1883.4C1693.7,1886 1697.6,1888.6 1701.5,1891.4C1705.3,1894.2 1709.1,1897 1712.8,1900C1716.5,1902.9 1720.1,1906 1723.6,1909.1C1727.1,1912.3 1730.6,1915.5 1733.9,1918.8C1737.3,1922.1 1740.5,1925.6 1743.7,1929.1C1746.8,1932.5 1749.9,1936.1 1752.8,1939.8C1755.7,1943.4 1758.6,1947.2 1761.3,1951C1764,1954.8 1766.6,1958.7 1769.2,1962.6C1771.7,1966.5 1774.1,1970.6 1776.4,1974.6C1778.7,1978.7 1780.9,1982.8 1783.1,1987C1785.2,1991.2 1787.2,1995.5 1789.1,1999.8C1791,2004.1 1792.8,2008.4 1794.5,2012.8C1796.2,2017.2 1797.8,2021.6 1799.3,2026.1C1800.8,2030.6 1802.2,2035.1 1803.4,2039.7C1804.7,2044.2 1805.9,2048.8 1807,2053.4C1808.1,2058 1809.1,2062.7 1810,2067.3C1810.9,2072 1811.7,2076.7 1812.4,2081.4C1813.1,2086.1 1813.7,2090.8 1814.2,2095.5C1814.7,2100.2 1815.1,2105 1815.4,2109.7C1815.7,2114.5 1815.9,2119.2 1816,2124C1816.1,2128.7 1816.1,2133.5 1816,2138.2C1815.9,2143 1815.7,2147.7 1815.4,2152.5C1815.2,2157.2 1814.8,2161.9 1814.3,2166.6C1813.8,2171.3 1813.2,2176 1812.5,2180.7C1811.8,2185.4 1811.1,2190.1 1810.2,2194.7C1809.3,2199.3 1808.3,2204 1807.2,2208.5C1806.1,2213.1 1804.9,2217.7 1803.6,2222.2C1802.3,2226.8 1801,2231.3 1799.5,2235.7C1798,2240.2 1796.4,2244.6 1794.6,2249C1792.9,2253.4 1791.1,2257.7 1789.2,2262C1787.3,2266.3 1785.3,2270.6 1783.1,2274.8C1781,2279 1778.8,2283.2 1776.5,2287.2C1774.1,2291.3 1771.7,2295.4 1769.1,2299.3C1766.6,2303.3 1764,2307.2 1761.2,2311C1758.5,2314.8 1755.6,2318.6 1752.7,2322.3C1749.7,2325.9 1746.7,2329.5 1743.5,2333C1740.4,2336.5 1737.1,2340 1733.8,2343.3C1730.4,2346.6 1727,2349.8 1723.5,2353C1720,2356.1 1716.4,2359.2 1712.7,2362.1C1709,2365.1 1705.2,2367.9 1701.4,2370.7C1697.6,2373.4 1693.6,2376.1 1689.7,2378.6C1685.7,2381.2 1681.6,2383.6 1677.5,2385.9C1673.4,2388.2 1669.2,2390.5 1665,2392.6C1660.7,2394.7 1656.5,2396.7 1652.1,2398.5C1647.8,2400.4 1643.4,2402.2 1638.9,2403.8C1634.5,2405.4 1630,2406.9 1625.5,2408.3C1621,2409.7 1616.4,2411 1611.8,2412.1C1607.2,2413.2 1602.6,2414.2 1597.9,2415.1C1593.3,2416 1588.5,2416.6 1583.9,2417.3C1579.2,2418.1 1572.4,2419.1 1570.1,2419.5L1537.9,2419.5Z" fill="#ffaa00"/>
<path d="M1575.5,1862.6C1577.9,1862.5 1585.5,1861.5 1589.5,1862.4C1593.6,1863.3 1597.2,1865.4 1599.9,1867.9C1602.6,1870.4 1604.5,1873.8 1605.5,1877.3C1606.6,1880.8 1606.7,1885 1606.3,1888.9C1605.8,1892.9 1604.5,1897.1 1602.7,1900.9C1601,1904.7 1598.6,1908.6 1595.9,1911.8C1593.2,1915 1589.9,1918 1586.6,1920.2C1583.3,1922.4 1577.7,1924.2 1575.9,1924.9Z" fill="#f0ff00"/>
<path d="M1575.5,2399.4C1577.9,2399.5 1585.5,2400.5 1589.5,2399.6C1593.6,2398.7 1597.2,2396.6 1599.9,2394.1C1602.6,2391.6 1604.5,2388.2 1605.5,2384.7C1606.6,2381.2 1606.7,2377 1606.3,2373.1C1605.8,2369.1 1604.5,2364.9 1602.7,2361.1C1601,2357.3 1598.6,2353.4 1595.9,2350.2C1593.2,2347 1589.9,2344 1586.6,2341.8C1583.3,2339.6 1577.7,2337.8 1575.9,2337.1Z" fill="#f0ff00"/>
<path d="M1537.9,1977.3L1560.2,1977.3C1562.3,1976.3 1568.5,1973.1 1572.7,1970.9C1576.9,1968.8 1581.4,1966.9 1585.4,1964.4C1589.4,1962 1593.1,1959.1 1596.6,1956.2C1600.2,1953.2 1603.4,1949.9 1606.7,1946.6C1610,1943.2 1613,1939.7 1616.3,1936.3C1619.7,1932.9 1622.9,1929.3 1626.6,1926.2C1630.3,1923.1 1634.3,1919.8 1638.5,1917.6C1642.6,1915.3 1647,1913.4 1651.3,1912.8C1655.7,1912.2 1660.1,1912.8 1664.5,1914C1668.8,1915.2 1673.2,1917.5 1677.4,1919.8C1681.6,1922 1685.7,1924.8 1689.6,1927.5C1693.6,1930.2 1697.4,1933.1 1701.1,1936.1C1704.8,1939.1 1708.3,1942.2 1711.7,1945.4C1715.1,1948.7 1718.4,1952 1721.6,1955.4C1724.7,1958.9 1727.7,1962.4 1730.6,1966.1C1733.5,1969.7 1736.3,1973.5 1738.9,1977.3C1741.6,1981.2 1744.1,1985.1 1746.5,1989.1C1748.9,1993.1 1751.1,1997.2 1753.3,2001.3C1755.4,2005.5 1757.4,2009.7 1759.3,2014C1761.2,2018.3 1763,2022.6 1764.7,2027C1766.3,2031.4 1767.9,2035.9 1769.3,2040.4C1770.7,2044.9 1772,2049.4 1773.2,2054C1774.4,2058.6 1775.5,2063.2 1776.5,2067.9C1777.4,2072.5 1778.3,2077.2 1779,2081.9C1779.8,2086.6 1780.4,2091.3 1780.9,2096C1781.5,2100.7 1781.9,2105.5 1782.2,2110.2C1782.5,2114.9 1782.7,2119.6 1782.8,2124.4C1782.9,2129.1 1782.9,2133.8 1782.8,2138.5C1782.7,2143.2 1782.5,2147.9 1782.2,2152.6C1781.8,2157.2 1781.4,2161.9 1780.9,2166.5C1780.3,2171.2 1779.7,2175.8 1779,2180.4C1778.2,2184.9 1777.3,2189.5 1776.4,2194.1C1775.4,2198.6 1774.3,2203.1 1773.1,2207.6C1771.9,2212.1 1770.6,2216.5 1769.2,2220.9C1767.8,2225.3 1766.2,2229.7 1764.5,2234.1C1762.9,2238.4 1761.1,2242.7 1759.2,2247C1757.3,2251.3 1755.3,2255.5 1753.2,2259.7C1751,2263.9 1748.8,2268 1746.4,2272.1C1744,2276.2 1741.5,2280.2 1738.9,2284.2C1736.3,2288.2 1733.5,2292.2 1730.6,2296.1C1727.7,2299.9 1724.7,2303.7 1721.6,2307.4C1718.5,2311 1715.2,2314.6 1711.8,2317.9C1708.4,2321.2 1704.9,2324.4 1701.2,2327.4C1697.6,2330.3 1693.8,2333 1689.8,2335.5C1685.9,2337.9 1681.8,2340.1 1677.6,2341.9C1673.4,2343.8 1669,2345.4 1664.6,2346.4C1660.2,2347.5 1655.4,2348.5 1651,2348.3C1646.6,2348 1642.2,2347.2 1638.2,2345.2C1634.1,2343.3 1630.4,2339.8 1626.8,2336.6C1623.2,2333.3 1619.8,2329.1 1616.5,2325.6C1613.1,2322 1610,2318.4 1606.6,2315.1C1603.3,2311.8 1600.1,2308.7 1596.5,2305.8C1593,2302.9 1589.4,2300.2 1585.5,2297.7C1581.5,2295.2 1576.9,2293.2 1572.7,2291C1568.5,2288.8 1562.3,2285.6 1560.3,2284.5L1537.9,2284.5Z" fill="#ff2a00"/>
<path d="M1537.9,2041.5L1561.6,2041.5C1563.5,2040.1 1569.1,2035.9 1572.8,2033.2C1576.5,2030.4 1580.2,2028 1583.7,2025C1587.2,2022 1590.6,2018.6 1594,2015.3C1597.4,2012 1600.7,2008.4 1604.1,2005.1C1607.6,2001.7 1611,1998.2 1614.6,1995.1C1618.2,1992.1 1621.9,1989 1625.8,1986.5C1629.7,1984 1633.8,1981.7 1638.2,1980.1C1642.5,1978.5 1647.2,1977.3 1651.8,1976.7C1656.3,1976.2 1661.1,1976.1 1665.6,1976.8C1670.1,1977.4 1674.6,1978.7 1678.6,1980.6C1682.7,1982.6 1686.4,1985.5 1689.9,1988.6C1693.3,1991.7 1696.4,1995.5 1699.4,1999.3C1702.4,2003 1705.2,2007 1707.9,2011C1710.5,2015 1713.1,2019 1715.4,2023.1C1717.8,2027.2 1720.1,2031.3 1722.1,2035.5C1724.2,2039.7 1726.1,2044 1727.8,2048.3C1729.5,2052.6 1731.1,2057 1732.4,2061.4C1733.8,2065.8 1735,2070.3 1736,2074.9C1737,2079.4 1737.9,2084 1738.6,2088.7C1739.3,2093.3 1739.8,2098 1740.3,2102.7C1740.7,2107.4 1741,2112.1 1741.2,2116.8C1741.4,2121.6 1741.4,2126.3 1741.4,2131C1741.4,2135.8 1741.3,2140.5 1741.1,2145.2C1740.9,2149.9 1740.6,2154.6 1740.1,2159.3C1739.7,2164 1739.1,2168.7 1738.4,2173.3C1737.7,2177.9 1736.9,2182.5 1735.9,2187C1734.9,2191.6 1733.7,2196.1 1732.4,2200.6C1731.1,2205 1729.6,2209.4 1727.9,2213.8C1726.3,2218.1 1724.4,2222.4 1722.4,2226.6C1720.3,2230.9 1718.1,2235 1715.6,2239.1C1713.2,2243.2 1710.6,2247.2 1707.9,2251.1C1705.1,2255 1702.3,2258.8 1699.2,2262.5C1696.2,2266.1 1693.1,2269.9 1689.7,2273C1686.2,2276.1 1682.6,2279.1 1678.5,2281.2C1674.5,2283.2 1670,2284.8 1665.6,2285.5C1661.2,2286.3 1656.4,2286.4 1651.9,2285.8C1647.4,2285.2 1642.8,2283.7 1638.4,2282C1634.1,2280.2 1629.8,2277.7 1625.7,2275.1C1621.7,2272.5 1617.9,2269.4 1614.2,2266.4C1610.6,2263.3 1607.2,2260 1603.9,2256.7C1600.5,2253.5 1597.3,2250.1 1594,2246.9C1590.7,2243.6 1587.4,2240.3 1583.9,2237.3C1580.3,2234.3 1576.4,2231.5 1572.7,2228.6C1569,2225.8 1563.5,2221.5 1561.6,2220.1L1537.9,2220.1Z" fill="#ff0000"/>
<path d="M1571.1,2414.3L1572.4,2418.3L1575.8,2420.8L1580,2420.8L1583.4,2418.3L1584.7,2414.3L1583.4,2410.3L1580,2407.8L1575.8,2407.8L1572.4,2410.3Z" fill="#ff2a00"/>
<path d="M1573.3,2414.3L1574.2,2417L1576.5,2418.7L1579.3,2418.7L1581.6,2417L1582.5,2414.3L1581.6,2411.6L1579.3,2409.9L1576.5,2409.9L1574.2,2411.6Z" fill="#ff0000"/>
</g>
<path d="M834.8,1739.8L852.7,1724.4 871.2,1709.7 890.2,1695.7 909.6,1682.3 929.6,1669.7 950,1657.9 970.8,1646.7 992,1636.4 1013.6,1626.8 1035.5,1618 1057.7,1610 1080.2,1602.8 1102.9,1596.4 1125.9,1590.9 1149,1586.2 1172.3,1582.4 1195.7,1579.4 1219.2,1577.2 1242.8,1575.9 1266.4,1575.5 1290,1575.9 1313.6,1577.2 1337.1,1579.4 1360.5,1582.4 1383.8,1586.2 1406.9,1590.9 1429.9,1596.4 1452.6,1602.8 1475.1,1610 1497.3,1618 1519.2,1626.8 1540.8,1636.4 1562,1646.7 1582.8,1657.9 1603.2,1669.7 1623.2,1682.3 1642.6,1695.7 1661.6,1709.7 1680.1,1724.4 1698,1739.8 1698,1739.8 1714.4,1754.7 1730.2,1770.3 1745.3,1786.5 1759.7,1803.4 1773.3,1820.8 1786.2,1838.9 1798.4,1857.4 1809.7,1876.5 1820.1,1896 1829.8,1916 1838.5,1936.4 1846.4,1957.1 1853.4,1978.1 1859.5,1999.4 1864.7,2021 1868.9,2042.7 1872.2,2064.7 1874.6,2086.7 1876,2108.8 1876.5,2131 1876,2153.2 1874.6,2175.3 1872.2,2197.3 1868.9,2219.3 1864.7,2241 1859.5,2262.6 1853.4,2283.9 1846.4,2304.9 1838.5,2325.6 1829.8,2346 1820.1,2366 1809.7,2385.5 1798.4,2404.6 1786.2,2423.1 1773.3,2441.2 1759.7,2458.6 1745.3,2475.5 1730.2,2491.7 1714.4,2507.3 1698,2522.2 1698,2522.2 1680.1,2537.6 1661.6,2552.3 1642.6,2566.3 1623.2,2579.7 1603.2,2592.3 1582.8,2604.1 1562,2615.3 1540.8,2625.6 1519.2,2635.2 1497.3,2644 1475.1,2652 1452.6,2659.2 1429.9,2665.6 1406.9,2671.1 1383.8,2675.8 1360.5,2679.6 1337.1,2682.6 1313.6,2684.8 1290,2686.1 1266.4,2686.5 1242.8,2686.1 1219.2,2684.8 1195.7,2682.6 1172.3,2679.6 1149,2675.8 1125.9,2671.1 1102.9,2665.6 1080.2,2659.2 1057.7,2652 1035.5,2644 1013.6,2635.2 992,2625.6 970.8,2615.3 950,2604.1 929.6,2592.3 909.6,2579.7 890.2,2566.3 871.2,2552.3 852.7,2537.6 834.8,2522.2 834.8,2522.2 818.4,2507.3 802.6,2491.7 787.5,2475.5 773.1,2458.6 759.5,2441.2 746.6,2423.1 734.4,2404.6 723.1,2385.5 712.7,2366 703,2346 694.3,2325.6 686.4,2304.9 679.4,2283.9 673.3,2262.6 668.1,2241 663.9,2219.3 660.6,2197.3 658.2,2175.3 656.8,2153.2 656.3,2131 656.8,2108.8 658.2,2086.7 660.6,2064.7 663.9,2042.7 668.1,2021 673.3,1999.4 679.4,1978.1 686.4,1957.1 694.3,1936.4 703,1916 712.7,1896 723.1,1876.5 734.4,1857.4 746.6,1838.9 759.5,1820.8 773.1,1803.4 787.5,1786.5 802.6,1770.3 818.4,1754.7 834.8,1739.8Z" fill="none" stroke="#000" stroke-width="2.0" stroke-linejoin="round"/>
<rect x="954.9" y="1847.7" width="623" height="566.6" fill="#fff" stroke="#000" stroke-width="2.3"/>
<path d="M834.8,1739.8L954.9,1847.7" stroke="#000" stroke-width="2.5"/>
<path d="M834.8,2522.2L954.9,2414.3" stroke="#000" stroke-width="2.5"/>
<path d="M1698,1739.8L1577.9,1847.7" stroke="#000" stroke-width="2.5"/>
<path d="M1698,2522.2L1577.9,2414.3" stroke="#000" stroke-width="2.5"/>
<path d="M1699.4,1741.4L1579.3,1849.3" stroke="#fff" stroke-opacity="0.6" stroke-width="0.8"/>
<g font-family="'Liberation Serif', 'Noto Serif CJK SC', serif" font-size="78.1" fill="#000" style="font-kerning:none">
<g filter="url(#soft)">
<rect x="48.7" y="325.9" width="120.6" height="75.6" fill="#ff0000"/>
<rect x="48.7" y="401" width="120.6" height="75.6" fill="#ff5d00"/>
<rect x="48.7" y="476.1" width="120.6" height="75.6" fill="#ffb900"/>
<rect x="48.7" y="551.2" width="120.6" height="75.6" fill="#e8ff00"/>
<rect x="48.7" y="626.3" width="120.6" height="75.6" fill="#8bff00"/>
<rect x="48.7" y="701.4" width="120.6" height="75.6" fill="#2eff00"/>
<rect x="48.7" y="776.5" width="120.6" height="75.6" fill="#00ff2e"/>
<rect x="48.7" y="851.6" width="120.6" height="75.6" fill="#00ff8b"/>
<rect x="48.7" y="926.7" width="120.6" height="75.6" fill="#00ffe8"/>
<rect x="48.7" y="1001.8" width="120.6" height="75.6" fill="#00b9ff"/>
<rect x="48.7" y="1076.9" width="120.6" height="75.6" fill="#005dff"/>
<rect x="48.7" y="1152" width="120.6" height="75.6" fill="#0000ff"/>
<rect x="48.7" y="325.9" width="120.6" height="901.2" fill="none" stroke="#000" stroke-width="6.6"/>
<path d="M48.7,325.9H209.7" stroke="#111" stroke-width="6.4"/>
<path d="M48.7,401H209.7" stroke="#111" stroke-width="6.4"/>
<path d="M48.7,476.1H209.7" stroke="#111" stroke-width="6.4"/>
<path d="M48.7,551.2H209.7" stroke="#111" stroke-width="6.4"/>
<path d="M48.7,626.3H209.7" stroke="#111" stroke-width="6.4"/>
<path d="M48.7,701.4H209.7" stroke="#111" stroke-width="6.4"/>
<path d="M48.7,776.5H209.7" stroke="#111" stroke-width="6.4"/>
<path d="M48.7,851.6H209.7" stroke="#111" stroke-width="6.4"/>
<path d="M48.7,926.7H209.7" stroke="#111" stroke-width="6.4"/>
<path d="M48.7,1001.8H209.7" stroke="#111" stroke-width="6.4"/>
<path d="M48.7,1076.9H209.7" stroke="#111" stroke-width="6.4"/>
<path d="M48.7,1152H209.7" stroke="#111" stroke-width="6.4"/>
<path d="M48.7,1227.1H209.7" stroke="#111" stroke-width="6.4"/>
</g>
<text x="233.5" y="348.2">+7.170e+02</text>
<text x="233.5" y="425">+6.961e+02</text>
<text x="233.5" y="497.8">+6.752e+02</text>
<text x="233.5" y="573.6">+6.543e+02</text>
<text x="233.5" y="650.4">+6.333e+02</text>
<text x="233.5" y="723">+6.124e+02</text>
<text x="233.5" y="798">+5.915e+02</text>
<text x="233.5" y="873.5">+5.706e+02</text>
<text x="233.5" y="948.6">+5.497e+02</text>
<text x="233.5" y="1023.7">+5.288e+02</text>
<text x="233.5" y="1099">+5.078e+02</text>
<text x="233.5" y="1171.9">+4.869e+02</text>
<text x="233.5" y="1249.4">+4.660e+02</text>
<g filter="url(#soft)">
<rect x="62.5" y="1735.7" width="120.6" height="75.6" fill="#ff0000"/>
<rect x="62.5" y="1810.8" width="120.6" height="75.6" fill="#ff5d00"/>
<rect x="62.5" y="1885.9" width="120.6" height="75.6" fill="#ffb900"/>
<rect x="62.5" y="1961" width="120.6" height="75.6" fill="#e8ff00"/>
<rect x="62.5" y="2036.1" width="120.6" height="75.6" fill="#8bff00"/>
<rect x="62.5" y="2111.2" width="120.6" height="75.6" fill="#2eff00"/>
<rect x="62.5" y="2186.3" width="120.6" height="75.6" fill="#00ff2e"/>
<rect x="62.5" y="2261.4" width="120.6" height="75.6" fill="#00ff8b"/>
<rect x="62.5" y="2336.5" width="120.6" height="75.6" fill="#00ffe8"/>
<rect x="62.5" y="2411.6" width="120.6" height="75.6" fill="#00b9ff"/>
<rect x="62.5" y="2486.7" width="120.6" height="75.6" fill="#005dff"/>
<rect x="62.5" y="2561.8" width="120.6" height="75.6" fill="#0000ff"/>
<rect x="62.5" y="1735.7" width="120.6" height="901.2" fill="none" stroke="#000" stroke-width="6.6"/>
<path d="M62.5,1735.7H223.5" stroke="#111" stroke-width="6.4"/>
<path d="M62.5,1810.8H223.5" stroke="#111" stroke-width="6.4"/>
<path d="M62.5,1885.9H223.5" stroke="#111" stroke-width="6.4"/>
<path d="M62.5,1961H223.5" stroke="#111" stroke-width="6.4"/>
<path d="M62.5,2036.1H223.5" stroke="#111" stroke-width="6.4"/>
<path d="M62.5,2111.2H223.5" stroke="#111" stroke-width="6.4"/>
<path d="M62.5,2186.3H223.5" stroke="#111" stroke-width="6.4"/>
<path d="M62.5,2261.4H223.5" stroke="#111" stroke-width="6.4"/>
<path d="M62.5,2336.5H223.5" stroke="#111" stroke-width="6.4"/>
<path d="M62.5,2411.6H223.5" stroke="#111" stroke-width="6.4"/>
<path d="M62.5,2486.7H223.5" stroke="#111" stroke-width="6.4"/>
<path d="M62.5,2561.8H223.5" stroke="#111" stroke-width="6.4"/>
<path d="M62.5,2636.9H223.5" stroke="#111" stroke-width="6.4"/>
</g>
<text x="249" y="1758.4">+6.830e+02</text>
<text x="249" y="1833.5">+6.478e+02</text>
<text x="249" y="1909">+6.125e+02</text>
<text x="249" y="1984.5">+5.773e+02</text>
<text x="249" y="2059.9">+5.420e+02</text>
<text x="249" y="2134.5">+5.068e+02</text>
<text x="249" y="2210.1">+4.715e+02</text>
<text x="249" y="2285.3">+4.363e+02</text>
<text x="249" y="2360.5">+4.010e+02</text>
<text x="249" y="2435.2">+3.658e+02</text>
<text x="249" y="2511.1">+3.305e+02</text>
<text x="249" y="2583.4">+2.953e+02</text>
<text x="249" y="2658.9">+2.600e+02</text>
<text x="52.2" y="137.4">S,<tspan font-style="italic">τ</tspan><tspan font-size="51.5" dy="9.5" dx="-3">max</tspan></text>
<text x="56.5" y="247.8" font-size="77.5">(Avg:75%)</text>
<text x="70.2" y="1548.1">S,<tspan font-style="italic">τ</tspan><tspan font-size="51.5" dy="9.5" dx="-3">max</tspan></text>
<text x="74.3" y="1657.9" font-size="77.5">(Avg:75%)</text>
<text x="783.5" y="1430.5">(a)</text><text x="891" y="1431.5" font-size="76" letter-spacing="1.7">弧面型</text>
<text x="782" y="2828.5">(b)</text><text x="891" y="2828.6" font-size="76" letter-spacing="1.7">平面型</text>
</g>
</svg>
</body></html>
